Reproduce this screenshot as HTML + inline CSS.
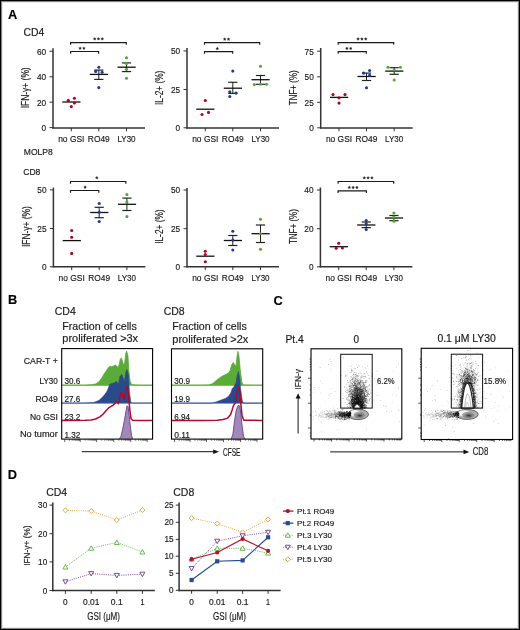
<!DOCTYPE html>
<html><head><meta charset="utf-8"><style>
html,body{margin:0;padding:0;background:#fff;}
body{width:520px;height:630px;overflow:hidden;position:relative;}
svg{position:absolute;left:0;top:0;font-family:"Liberation Sans", sans-serif;will-change:transform;}
text{stroke:#111;stroke-width:0.16px;}
</style></head><body>
<svg width="520" height="630" viewBox="0 0 520 630">
<defs><radialGradient id="blobg" cx="0.55" cy="0.6" r="0.6"><stop offset="0" stop-color="#333"/><stop offset="0.35" stop-color="#666"/><stop offset="0.7" stop-color="#999"/><stop offset="1" stop-color="#bbb"/></radialGradient></defs>
<rect x="0" y="0" width="520" height="630" fill="#fff"/>
<text x="7.9" y="18.6" font-size="12.8" text-anchor="start" fill="#000" font-weight="bold" >A</text>
<text x="7.9" y="304.3" font-size="12.8" text-anchor="start" fill="#000" font-weight="bold" >B</text>
<text x="273.4" y="304.5" font-size="12.8" text-anchor="start" fill="#000" font-weight="bold" >C</text>
<text x="7.7" y="479.0" font-size="12.8" text-anchor="start" fill="#000" font-weight="bold" >D</text>
<text x="23.6" y="35.8" font-size="10.5" text-anchor="start" fill="#222" font-weight="normal" textLength="20.8" lengthAdjust="spacingAndGlyphs" >CD4</text>
<text x="23.8" y="154.8" font-size="8.6" text-anchor="start" fill="#222" font-weight="normal" textLength="29" lengthAdjust="spacingAndGlyphs" >MOLP8</text>
<text x="23.2" y="174.6" font-size="8.6" text-anchor="start" fill="#222" font-weight="normal" textLength="17.2" lengthAdjust="spacingAndGlyphs" >CD8</text>
<line x1="53" y1="48.3" x2="53" y2="128.5" stroke="#333" stroke-width="1.5" />
<line x1="52.25" y1="128" x2="145" y2="128" stroke="#333" stroke-width="1.5" />
<line x1="49.5" y1="51.3" x2="53" y2="51.3" stroke="#333" stroke-width="1" />
<text x="46.1" y="54.599999999999994" font-size="9.6" text-anchor="end" fill="#222" font-weight="normal" textLength="9.2" lengthAdjust="spacingAndGlyphs" >60</text>
<line x1="49.5" y1="76.8" x2="53" y2="76.8" stroke="#333" stroke-width="1" />
<text x="46.1" y="80.1" font-size="9.6" text-anchor="end" fill="#222" font-weight="normal" textLength="9.2" lengthAdjust="spacingAndGlyphs" >40</text>
<line x1="49.5" y1="102.2" x2="53" y2="102.2" stroke="#333" stroke-width="1" />
<text x="46.1" y="105.5" font-size="9.6" text-anchor="end" fill="#222" font-weight="normal" textLength="9.2" lengthAdjust="spacingAndGlyphs" >20</text>
<line x1="49.5" y1="127.6" x2="53" y2="127.6" stroke="#333" stroke-width="1" />
<text x="46.1" y="130.9" font-size="9.6" text-anchor="end" fill="#222" font-weight="normal" textLength="4.6" lengthAdjust="spacingAndGlyphs" >0</text>
<line x1="71.3" y1="128" x2="71.3" y2="131.3" stroke="#333" stroke-width="1" />
<line x1="98.8" y1="128" x2="98.8" y2="131.3" stroke="#333" stroke-width="1" />
<line x1="126.5" y1="128" x2="126.5" y2="131.3" stroke="#333" stroke-width="1" />
<text x="71.3" y="142.2" font-size="9.4" text-anchor="middle" fill="#222" font-weight="normal" textLength="26.2" lengthAdjust="spacingAndGlyphs" >no GSI</text>
<text x="98.8" y="142.2" font-size="9.4" text-anchor="middle" fill="#222" font-weight="normal" textLength="21.9" lengthAdjust="spacingAndGlyphs" >RO49</text>
<text x="126.5" y="142.2" font-size="9.4" text-anchor="middle" fill="#222" font-weight="normal" textLength="18.2" lengthAdjust="spacingAndGlyphs" >LY30</text>
<text x="29.4" y="87.8" font-size="10.2" text-anchor="middle" fill="#222" font-weight="normal" textLength="41" lengthAdjust="spacingAndGlyphs" transform="rotate(-90 29.4 87.8)" >IFN-γ+ (%)</text>
<line x1="62.3" y1="102.0" x2="80.5" y2="102.0" stroke="#111" stroke-width="1.3" />
<circle cx="68.3" cy="100.4" r="1.55" fill="#b4001e"/>
<circle cx="74.39999999999999" cy="98.2" r="1.55" fill="#b4001e"/>
<circle cx="74.39999999999999" cy="103" r="1.55" fill="#b4001e"/>
<circle cx="71.3" cy="106.6" r="1.55" fill="#b4001e"/>
<line x1="98.8" y1="79.4" x2="98.8" y2="70.1" stroke="#222" stroke-width="1" />
<line x1="94.2" y1="79.4" x2="103.39999999999999" y2="79.4" stroke="#222" stroke-width="1.2" />
<line x1="94.2" y1="70.1" x2="103.39999999999999" y2="70.1" stroke="#222" stroke-width="1.2" />
<line x1="89.8" y1="74.4" x2="108.0" y2="74.4" stroke="#111" stroke-width="1.3" />
<circle cx="98.8" cy="67.2" r="1.55" fill="#1c3c8c"/>
<circle cx="95.7" cy="71.4" r="1.55" fill="#1c3c8c"/>
<circle cx="102.1" cy="72.3" r="1.55" fill="#1c3c8c"/>
<circle cx="98.8" cy="87.6" r="1.55" fill="#1c3c8c"/>
<line x1="126.5" y1="71.6" x2="126.5" y2="62.9" stroke="#222" stroke-width="1" />
<line x1="121.9" y1="71.6" x2="131.1" y2="71.6" stroke="#222" stroke-width="1.2" />
<line x1="121.9" y1="62.9" x2="131.1" y2="62.9" stroke="#222" stroke-width="1.2" />
<line x1="117.5" y1="67.2" x2="135.7" y2="67.2" stroke="#111" stroke-width="1.3" />
<circle cx="126.5" cy="57.8" r="1.55" fill="#4fa830"/>
<circle cx="126.5" cy="63.6" r="1.55" fill="#4fa830"/>
<circle cx="126.5" cy="69.3" r="1.55" fill="#4fa830"/>
<circle cx="126.5" cy="78.2" r="1.55" fill="#4fa830"/>
<path d="M70.6,53.7 L70.6,51.5 L98.6,51.5 L98.6,53.7" fill="none" stroke="#1a1a1a" stroke-width="1.15"/>
<path d="M80.10,46.80 L80.58,47.63 L81.53,47.84 L80.88,48.55 L80.98,49.51 L80.10,49.12 L79.22,49.51 L79.32,48.55 L78.67,47.84 L79.62,47.63 L80.10,46.80" fill="#222" stroke="#222" stroke-width="0.25" />
<path d="M83.90,46.80 L84.38,47.63 L85.33,47.84 L84.68,48.55 L84.78,49.51 L83.90,49.12 L83.02,49.51 L83.12,48.55 L82.47,47.84 L83.42,47.63 L83.90,46.80" fill="#222" stroke="#222" stroke-width="0.25" />
<path d="M70.6,44.800000000000004 L70.6,42.6 L126.3,42.6 L126.3,44.800000000000004" fill="none" stroke="#1a1a1a" stroke-width="1.15"/>
<path d="M94.70,37.40 L95.18,38.23 L96.13,38.44 L95.48,39.15 L95.58,40.11 L94.70,39.73 L93.82,40.11 L93.92,39.15 L93.27,38.44 L94.22,38.23 L94.70,37.40" fill="#222" stroke="#222" stroke-width="0.25" />
<path d="M98.50,37.40 L98.98,38.23 L99.93,38.44 L99.28,39.15 L99.38,40.11 L98.50,39.73 L97.62,40.11 L97.72,39.15 L97.07,38.44 L98.02,38.23 L98.50,37.40" fill="#222" stroke="#222" stroke-width="0.25" />
<path d="M102.30,37.40 L102.78,38.23 L103.73,38.44 L103.08,39.15 L103.18,40.11 L102.30,39.73 L101.42,40.11 L101.52,39.15 L100.87,38.44 L101.82,38.23 L102.30,37.40" fill="#222" stroke="#222" stroke-width="0.25" />
<line x1="187" y1="48.0" x2="187" y2="128.5" stroke="#333" stroke-width="1.5" />
<line x1="186.25" y1="128" x2="279" y2="128" stroke="#333" stroke-width="1.5" />
<line x1="183.5" y1="50.9" x2="187" y2="50.9" stroke="#333" stroke-width="1" />
<text x="180.1" y="54.199999999999996" font-size="9.6" text-anchor="end" fill="#222" font-weight="normal" textLength="9.2" lengthAdjust="spacingAndGlyphs" >50</text>
<line x1="183.5" y1="89.5" x2="187" y2="89.5" stroke="#333" stroke-width="1" />
<text x="180.1" y="92.8" font-size="9.6" text-anchor="end" fill="#222" font-weight="normal" textLength="9.2" lengthAdjust="spacingAndGlyphs" >25</text>
<line x1="183.5" y1="127.8" x2="187" y2="127.8" stroke="#333" stroke-width="1" />
<text x="180.1" y="131.1" font-size="9.6" text-anchor="end" fill="#222" font-weight="normal" textLength="4.6" lengthAdjust="spacingAndGlyphs" >0</text>
<line x1="205.3" y1="128" x2="205.3" y2="131.3" stroke="#333" stroke-width="1" />
<line x1="232.8" y1="128" x2="232.8" y2="131.3" stroke="#333" stroke-width="1" />
<line x1="260.5" y1="128" x2="260.5" y2="131.3" stroke="#333" stroke-width="1" />
<text x="205.3" y="142.2" font-size="9.4" text-anchor="middle" fill="#222" font-weight="normal" textLength="26.2" lengthAdjust="spacingAndGlyphs" >no GSI</text>
<text x="232.8" y="142.2" font-size="9.4" text-anchor="middle" fill="#222" font-weight="normal" textLength="21.9" lengthAdjust="spacingAndGlyphs" >RO49</text>
<text x="260.5" y="142.2" font-size="9.4" text-anchor="middle" fill="#222" font-weight="normal" textLength="18.2" lengthAdjust="spacingAndGlyphs" >LY30</text>
<text x="163.4" y="87.8" font-size="10.2" text-anchor="middle" fill="#222" font-weight="normal" textLength="34.4" lengthAdjust="spacingAndGlyphs" transform="rotate(-90 163.4 87.8)" >IL-2+ (%)</text>
<line x1="196.3" y1="109.2" x2="214.5" y2="109.2" stroke="#111" stroke-width="1.3" />
<circle cx="205.3" cy="100.5" r="1.55" fill="#b4001e"/>
<circle cx="202.0" cy="114.5" r="1.55" fill="#b4001e"/>
<circle cx="208.5" cy="112.4" r="1.55" fill="#b4001e"/>
<line x1="232.8" y1="93.4" x2="232.8" y2="82.3" stroke="#222" stroke-width="1" />
<line x1="228.20000000000002" y1="93.4" x2="237.4" y2="93.4" stroke="#222" stroke-width="1.2" />
<line x1="228.20000000000002" y1="82.3" x2="237.4" y2="82.3" stroke="#222" stroke-width="1.2" />
<line x1="223.8" y1="88.2" x2="242.0" y2="88.2" stroke="#111" stroke-width="1.3" />
<circle cx="232.8" cy="71.1" r="1.55" fill="#1c3c8c"/>
<circle cx="229.8" cy="91.8" r="1.55" fill="#1c3c8c"/>
<circle cx="236.0" cy="93.1" r="1.55" fill="#1c3c8c"/>
<circle cx="229.8" cy="96.5" r="1.55" fill="#1c3c8c"/>
<line x1="260.5" y1="84.3" x2="260.5" y2="75.5" stroke="#222" stroke-width="1" />
<line x1="255.9" y1="84.3" x2="265.1" y2="84.3" stroke="#222" stroke-width="1.2" />
<line x1="255.9" y1="75.5" x2="265.1" y2="75.5" stroke="#222" stroke-width="1.2" />
<line x1="251.5" y1="79.7" x2="269.7" y2="79.7" stroke="#111" stroke-width="1.3" />
<circle cx="260.5" cy="66.3" r="1.55" fill="#4fa830"/>
<circle cx="254.3" cy="84.6" r="1.55" fill="#4fa830"/>
<circle cx="260.5" cy="84.3" r="1.55" fill="#4fa830"/>
<circle cx="266.6" cy="84.3" r="1.55" fill="#4fa830"/>
<path d="M204.5,53.800000000000004 L204.5,51.6 L232.7,51.6 L232.7,53.800000000000004" fill="none" stroke="#1a1a1a" stroke-width="1.15"/>
<path d="M217.30,47.10 L217.78,47.93 L218.73,48.14 L218.08,48.85 L218.18,49.81 L217.30,49.43 L216.42,49.81 L216.52,48.85 L215.87,48.14 L216.82,47.93 L217.30,47.10" fill="#222" stroke="#222" stroke-width="0.25" />
<path d="M204.5,44.800000000000004 L204.5,42.6 L259.7,42.6 L259.7,44.800000000000004" fill="none" stroke="#1a1a1a" stroke-width="1.15"/>
<path d="M224.70,37.70 L225.18,38.53 L226.13,38.74 L225.48,39.45 L225.58,40.41 L224.70,40.03 L223.82,40.41 L223.92,39.45 L223.27,38.74 L224.22,38.53 L224.70,37.70" fill="#222" stroke="#222" stroke-width="0.25" />
<path d="M228.50,37.70 L228.98,38.53 L229.93,38.74 L229.28,39.45 L229.38,40.41 L228.50,40.03 L227.62,40.41 L227.72,39.45 L227.07,38.74 L228.02,38.53 L228.50,37.70" fill="#222" stroke="#222" stroke-width="0.25" />
<line x1="320.7" y1="48.0" x2="320.7" y2="128.5" stroke="#333" stroke-width="1.5" />
<line x1="319.95" y1="128" x2="412.7" y2="128" stroke="#333" stroke-width="1.5" />
<line x1="317.2" y1="51.2" x2="320.7" y2="51.2" stroke="#333" stroke-width="1" />
<text x="313.8" y="54.5" font-size="9.6" text-anchor="end" fill="#222" font-weight="normal" textLength="9.2" lengthAdjust="spacingAndGlyphs" >75</text>
<line x1="317.2" y1="76.8" x2="320.7" y2="76.8" stroke="#333" stroke-width="1" />
<text x="313.8" y="80.1" font-size="9.6" text-anchor="end" fill="#222" font-weight="normal" textLength="9.2" lengthAdjust="spacingAndGlyphs" >50</text>
<line x1="317.2" y1="102.4" x2="320.7" y2="102.4" stroke="#333" stroke-width="1" />
<text x="313.8" y="105.7" font-size="9.6" text-anchor="end" fill="#222" font-weight="normal" textLength="9.2" lengthAdjust="spacingAndGlyphs" >25</text>
<line x1="317.2" y1="127.8" x2="320.7" y2="127.8" stroke="#333" stroke-width="1" />
<text x="313.8" y="131.1" font-size="9.6" text-anchor="end" fill="#222" font-weight="normal" textLength="4.6" lengthAdjust="spacingAndGlyphs" >0</text>
<line x1="339.0" y1="128" x2="339.0" y2="131.3" stroke="#333" stroke-width="1" />
<line x1="366.5" y1="128" x2="366.5" y2="131.3" stroke="#333" stroke-width="1" />
<line x1="394.2" y1="128" x2="394.2" y2="131.3" stroke="#333" stroke-width="1" />
<text x="339.0" y="142.2" font-size="9.4" text-anchor="middle" fill="#222" font-weight="normal" textLength="26.2" lengthAdjust="spacingAndGlyphs" >no GSI</text>
<text x="366.5" y="142.2" font-size="9.4" text-anchor="middle" fill="#222" font-weight="normal" textLength="21.9" lengthAdjust="spacingAndGlyphs" >RO49</text>
<text x="394.2" y="142.2" font-size="9.4" text-anchor="middle" fill="#222" font-weight="normal" textLength="18.2" lengthAdjust="spacingAndGlyphs" >LY30</text>
<text x="297.09999999999997" y="87.8" font-size="10.2" text-anchor="middle" fill="#222" font-weight="normal" textLength="35" lengthAdjust="spacingAndGlyphs" transform="rotate(-90 297.09999999999997 87.8)" >TNF+ (%)</text>
<line x1="330.0" y1="97.4" x2="348.2" y2="97.4" stroke="#111" stroke-width="1.3" />
<circle cx="333.0" cy="94.6" r="1.55" fill="#b4001e"/>
<circle cx="345.0" cy="94.6" r="1.55" fill="#b4001e"/>
<circle cx="339.0" cy="97.7" r="1.55" fill="#b4001e"/>
<circle cx="339.0" cy="103.1" r="1.55" fill="#b4001e"/>
<line x1="366.5" y1="80.5" x2="366.5" y2="73.1" stroke="#222" stroke-width="1" />
<line x1="361.9" y1="80.5" x2="371.1" y2="80.5" stroke="#222" stroke-width="1.2" />
<line x1="361.9" y1="73.1" x2="371.1" y2="73.1" stroke="#222" stroke-width="1.2" />
<line x1="357.5" y1="76.5" x2="375.7" y2="76.5" stroke="#111" stroke-width="1.3" />
<circle cx="369.6" cy="70.5" r="1.55" fill="#1c3c8c"/>
<circle cx="363.5" cy="73.1" r="1.55" fill="#1c3c8c"/>
<circle cx="369.6" cy="75.4" r="1.55" fill="#1c3c8c"/>
<circle cx="366.5" cy="87.7" r="1.55" fill="#1c3c8c"/>
<line x1="394.2" y1="74.3" x2="394.2" y2="67.7" stroke="#222" stroke-width="1" />
<line x1="389.59999999999997" y1="74.3" x2="398.8" y2="74.3" stroke="#222" stroke-width="1.2" />
<line x1="389.59999999999997" y1="67.7" x2="398.8" y2="67.7" stroke="#222" stroke-width="1.2" />
<line x1="385.2" y1="71.1" x2="403.4" y2="71.1" stroke="#111" stroke-width="1.3" />
<circle cx="388.0" cy="67.2" r="1.55" fill="#4fa830"/>
<circle cx="400.4" cy="67.2" r="1.55" fill="#4fa830"/>
<circle cx="394.2" cy="70.0" r="1.55" fill="#4fa830"/>
<circle cx="394.2" cy="80.0" r="1.55" fill="#4fa830"/>
<path d="M338.2,53.800000000000004 L338.2,51.6 L366.3,51.6 L366.3,53.800000000000004" fill="none" stroke="#1a1a1a" stroke-width="1.15"/>
<path d="M346.90,46.90 L347.38,47.73 L348.33,47.94 L347.68,48.65 L347.78,49.61 L346.90,49.23 L346.02,49.61 L346.12,48.65 L345.47,47.94 L346.42,47.73 L346.90,46.90" fill="#222" stroke="#222" stroke-width="0.25" />
<path d="M350.70,46.90 L351.18,47.73 L352.13,47.94 L351.48,48.65 L351.58,49.61 L350.70,49.23 L349.82,49.61 L349.92,48.65 L349.27,47.94 L350.22,47.73 L350.70,46.90" fill="#222" stroke="#222" stroke-width="0.25" />
<path d="M338.2,44.800000000000004 L338.2,42.6 L393.7,42.6 L393.7,44.800000000000004" fill="none" stroke="#1a1a1a" stroke-width="1.15"/>
<path d="M358.10,37.50 L358.58,38.33 L359.53,38.54 L358.88,39.25 L358.98,40.21 L358.10,39.83 L357.22,40.21 L357.32,39.25 L356.67,38.54 L357.62,38.33 L358.10,37.50" fill="#222" stroke="#222" stroke-width="0.25" />
<path d="M361.90,37.50 L362.38,38.33 L363.33,38.54 L362.68,39.25 L362.78,40.21 L361.90,39.83 L361.02,40.21 L361.12,39.25 L360.47,38.54 L361.42,38.33 L361.90,37.50" fill="#222" stroke="#222" stroke-width="0.25" />
<path d="M365.70,37.50 L366.18,38.33 L367.13,38.54 L366.48,39.25 L366.58,40.21 L365.70,39.83 L364.82,40.21 L364.92,39.25 L364.27,38.54 L365.22,38.33 L365.70,37.50" fill="#222" stroke="#222" stroke-width="0.25" />
<line x1="53.4" y1="187.6" x2="53.4" y2="267.3" stroke="#333" stroke-width="1.5" />
<line x1="52.65" y1="266.8" x2="145.4" y2="266.8" stroke="#333" stroke-width="1.5" />
<line x1="49.9" y1="189.9" x2="53.4" y2="189.9" stroke="#333" stroke-width="1" />
<text x="46.5" y="193.20000000000002" font-size="9.6" text-anchor="end" fill="#222" font-weight="normal" textLength="9.2" lengthAdjust="spacingAndGlyphs" >50</text>
<line x1="49.9" y1="228.5" x2="53.4" y2="228.5" stroke="#333" stroke-width="1" />
<text x="46.5" y="231.8" font-size="9.6" text-anchor="end" fill="#222" font-weight="normal" textLength="9.2" lengthAdjust="spacingAndGlyphs" >25</text>
<line x1="49.9" y1="266.8" x2="53.4" y2="266.8" stroke="#333" stroke-width="1" />
<text x="46.5" y="270.1" font-size="9.6" text-anchor="end" fill="#222" font-weight="normal" textLength="4.6" lengthAdjust="spacingAndGlyphs" >0</text>
<line x1="71.7" y1="266.8" x2="71.7" y2="270.1" stroke="#333" stroke-width="1" />
<line x1="99.19999999999999" y1="266.8" x2="99.19999999999999" y2="270.1" stroke="#333" stroke-width="1" />
<line x1="126.9" y1="266.8" x2="126.9" y2="270.1" stroke="#333" stroke-width="1" />
<text x="71.7" y="281.0" font-size="9.4" text-anchor="middle" fill="#222" font-weight="normal" textLength="26.2" lengthAdjust="spacingAndGlyphs" >no GSI</text>
<text x="99.19999999999999" y="281.0" font-size="9.4" text-anchor="middle" fill="#222" font-weight="normal" textLength="21.9" lengthAdjust="spacingAndGlyphs" >RO49</text>
<text x="126.9" y="281.0" font-size="9.4" text-anchor="middle" fill="#222" font-weight="normal" textLength="18.2" lengthAdjust="spacingAndGlyphs" >LY30</text>
<text x="29.799999999999997" y="226.60000000000002" font-size="10.2" text-anchor="middle" fill="#222" font-weight="normal" textLength="41" lengthAdjust="spacingAndGlyphs" transform="rotate(-90 29.799999999999997 226.60000000000002)" >IFN-γ+ (%)</text>
<line x1="62.7" y1="240.6" x2="80.9" y2="240.6" stroke="#111" stroke-width="1.3" />
<circle cx="71.7" cy="230.5" r="1.55" fill="#b4001e"/>
<circle cx="71.7" cy="237.3" r="1.55" fill="#b4001e"/>
<circle cx="71.7" cy="253.4" r="1.55" fill="#b4001e"/>
<line x1="99.19999999999999" y1="217.7" x2="99.19999999999999" y2="207.3" stroke="#222" stroke-width="1" />
<line x1="94.6" y1="217.7" x2="103.79999999999998" y2="217.7" stroke="#222" stroke-width="1.2" />
<line x1="94.6" y1="207.3" x2="103.79999999999998" y2="207.3" stroke="#222" stroke-width="1.2" />
<line x1="90.19999999999999" y1="212.5" x2="108.39999999999999" y2="212.5" stroke="#111" stroke-width="1.3" />
<circle cx="99.19999999999999" cy="203.5" r="1.55" fill="#1c3c8c"/>
<circle cx="99.19999999999999" cy="212.2" r="1.55" fill="#1c3c8c"/>
<circle cx="99.19999999999999" cy="221.5" r="1.55" fill="#1c3c8c"/>
<line x1="126.9" y1="210.5" x2="126.9" y2="198.1" stroke="#222" stroke-width="1" />
<line x1="122.30000000000001" y1="210.5" x2="131.5" y2="210.5" stroke="#222" stroke-width="1.2" />
<line x1="122.30000000000001" y1="198.1" x2="131.5" y2="198.1" stroke="#222" stroke-width="1.2" />
<line x1="117.9" y1="204.3" x2="136.1" y2="204.3" stroke="#111" stroke-width="1.3" />
<circle cx="126.9" cy="194.5" r="1.55" fill="#4fa830"/>
<circle cx="126.9" cy="201.9" r="1.55" fill="#4fa830"/>
<circle cx="126.9" cy="216.6" r="1.55" fill="#4fa830"/>
<path d="M70.5,192.7 L70.5,190.5 L98.8,190.5 L98.8,192.7" fill="none" stroke="#1a1a1a" stroke-width="1.15"/>
<path d="M85.10,185.70 L85.58,186.53 L86.53,186.74 L85.88,187.45 L85.98,188.41 L85.10,188.02 L84.22,188.41 L84.32,187.45 L83.67,186.74 L84.62,186.53 L85.10,185.70" fill="#222" stroke="#222" stroke-width="0.25" />
<path d="M70.5,183.7 L70.5,181.5 L125.8,181.5 L125.8,183.7" fill="none" stroke="#1a1a1a" stroke-width="1.15"/>
<path d="M96.80,176.30 L97.28,177.13 L98.23,177.34 L97.58,178.05 L97.68,179.01 L96.80,178.62 L95.92,179.01 L96.02,178.05 L95.37,177.34 L96.32,177.13 L96.80,176.30" fill="#222" stroke="#222" stroke-width="0.25" />
<line x1="187" y1="188" x2="187" y2="267.3" stroke="#333" stroke-width="1.5" />
<line x1="186.25" y1="266.8" x2="279" y2="266.8" stroke="#333" stroke-width="1.5" />
<line x1="183.5" y1="190" x2="187" y2="190" stroke="#333" stroke-width="1" />
<text x="180.1" y="193.3" font-size="9.6" text-anchor="end" fill="#222" font-weight="normal" textLength="9.2" lengthAdjust="spacingAndGlyphs" >50</text>
<line x1="183.5" y1="228.7" x2="187" y2="228.7" stroke="#333" stroke-width="1" />
<text x="180.1" y="232.0" font-size="9.6" text-anchor="end" fill="#222" font-weight="normal" textLength="9.2" lengthAdjust="spacingAndGlyphs" >25</text>
<line x1="183.5" y1="266.8" x2="187" y2="266.8" stroke="#333" stroke-width="1" />
<text x="180.1" y="270.1" font-size="9.6" text-anchor="end" fill="#222" font-weight="normal" textLength="4.6" lengthAdjust="spacingAndGlyphs" >0</text>
<line x1="205.3" y1="266.8" x2="205.3" y2="270.1" stroke="#333" stroke-width="1" />
<line x1="232.8" y1="266.8" x2="232.8" y2="270.1" stroke="#333" stroke-width="1" />
<line x1="260.5" y1="266.8" x2="260.5" y2="270.1" stroke="#333" stroke-width="1" />
<text x="205.3" y="281.0" font-size="9.4" text-anchor="middle" fill="#222" font-weight="normal" textLength="26.2" lengthAdjust="spacingAndGlyphs" >no GSI</text>
<text x="232.8" y="281.0" font-size="9.4" text-anchor="middle" fill="#222" font-weight="normal" textLength="21.9" lengthAdjust="spacingAndGlyphs" >RO49</text>
<text x="260.5" y="281.0" font-size="9.4" text-anchor="middle" fill="#222" font-weight="normal" textLength="18.2" lengthAdjust="spacingAndGlyphs" >LY30</text>
<text x="163.4" y="226.60000000000002" font-size="10.2" text-anchor="middle" fill="#222" font-weight="normal" textLength="34.4" lengthAdjust="spacingAndGlyphs" transform="rotate(-90 163.4 226.60000000000002)" >IL-2+ (%)</text>
<line x1="196.3" y1="256.2" x2="214.5" y2="256.2" stroke="#111" stroke-width="1.3" />
<circle cx="205.3" cy="251.2" r="1.55" fill="#b4001e"/>
<circle cx="205.3" cy="254.5" r="1.55" fill="#b4001e"/>
<circle cx="205.3" cy="261.7" r="1.55" fill="#b4001e"/>
<line x1="232.8" y1="245.5" x2="232.8" y2="235.5" stroke="#222" stroke-width="1" />
<line x1="228.20000000000002" y1="245.5" x2="237.4" y2="245.5" stroke="#222" stroke-width="1.2" />
<line x1="228.20000000000002" y1="235.5" x2="237.4" y2="235.5" stroke="#222" stroke-width="1.2" />
<line x1="223.8" y1="240.5" x2="242.0" y2="240.5" stroke="#111" stroke-width="1.3" />
<circle cx="232.8" cy="231.2" r="1.55" fill="#1c3c8c"/>
<circle cx="232.8" cy="240" r="1.55" fill="#1c3c8c"/>
<circle cx="232.8" cy="250" r="1.55" fill="#1c3c8c"/>
<line x1="260.5" y1="242.5" x2="260.5" y2="225" stroke="#222" stroke-width="1" />
<line x1="255.9" y1="242.5" x2="265.1" y2="242.5" stroke="#222" stroke-width="1.2" />
<line x1="255.9" y1="225" x2="265.1" y2="225" stroke="#222" stroke-width="1.2" />
<line x1="251.5" y1="233.7" x2="269.7" y2="233.7" stroke="#111" stroke-width="1.3" />
<circle cx="260.5" cy="219.2" r="1.55" fill="#4fa830"/>
<circle cx="260.5" cy="233.7" r="1.55" fill="#4fa830"/>
<circle cx="260.5" cy="249.2" r="1.55" fill="#4fa830"/>
<line x1="320.4" y1="187.5" x2="320.4" y2="267.3" stroke="#333" stroke-width="1.5" />
<line x1="319.65" y1="266.8" x2="412.4" y2="266.8" stroke="#333" stroke-width="1.5" />
<line x1="316.9" y1="190" x2="320.4" y2="190" stroke="#333" stroke-width="1" />
<text x="313.5" y="193.3" font-size="9.6" text-anchor="end" fill="#222" font-weight="normal" textLength="9.2" lengthAdjust="spacingAndGlyphs" >40</text>
<line x1="316.9" y1="228.7" x2="320.4" y2="228.7" stroke="#333" stroke-width="1" />
<text x="313.5" y="232.0" font-size="9.6" text-anchor="end" fill="#222" font-weight="normal" textLength="9.2" lengthAdjust="spacingAndGlyphs" >20</text>
<line x1="316.9" y1="266.8" x2="320.4" y2="266.8" stroke="#333" stroke-width="1" />
<text x="313.5" y="270.1" font-size="9.6" text-anchor="end" fill="#222" font-weight="normal" textLength="4.6" lengthAdjust="spacingAndGlyphs" >0</text>
<line x1="338.7" y1="266.8" x2="338.7" y2="270.1" stroke="#333" stroke-width="1" />
<line x1="366.2" y1="266.8" x2="366.2" y2="270.1" stroke="#333" stroke-width="1" />
<line x1="393.9" y1="266.8" x2="393.9" y2="270.1" stroke="#333" stroke-width="1" />
<text x="338.7" y="281.0" font-size="9.4" text-anchor="middle" fill="#222" font-weight="normal" textLength="26.2" lengthAdjust="spacingAndGlyphs" >no GSI</text>
<text x="366.2" y="281.0" font-size="9.4" text-anchor="middle" fill="#222" font-weight="normal" textLength="21.9" lengthAdjust="spacingAndGlyphs" >RO49</text>
<text x="393.9" y="281.0" font-size="9.4" text-anchor="middle" fill="#222" font-weight="normal" textLength="18.2" lengthAdjust="spacingAndGlyphs" >LY30</text>
<text x="296.79999999999995" y="226.60000000000002" font-size="10.2" text-anchor="middle" fill="#222" font-weight="normal" textLength="35" lengthAdjust="spacingAndGlyphs" transform="rotate(-90 296.79999999999995 226.60000000000002)" >TNF+ (%)</text>
<line x1="329.7" y1="246.7" x2="347.9" y2="246.7" stroke="#111" stroke-width="1.3" />
<circle cx="338.7" cy="243.2" r="1.55" fill="#b4001e"/>
<circle cx="336.2" cy="248.2" r="1.55" fill="#b4001e"/>
<circle cx="342.4" cy="248" r="1.55" fill="#b4001e"/>
<line x1="366.2" y1="227.6" x2="366.2" y2="222" stroke="#222" stroke-width="1" />
<line x1="361.59999999999997" y1="227.6" x2="370.8" y2="227.6" stroke="#222" stroke-width="1.2" />
<line x1="361.59999999999997" y1="222" x2="370.8" y2="222" stroke="#222" stroke-width="1.2" />
<line x1="357.2" y1="225" x2="375.4" y2="225" stroke="#111" stroke-width="1.3" />
<circle cx="366.2" cy="220.5" r="1.55" fill="#1c3c8c"/>
<circle cx="366.2" cy="223.7" r="1.55" fill="#1c3c8c"/>
<circle cx="366.2" cy="229.5" r="1.55" fill="#1c3c8c"/>
<line x1="393.9" y1="220.7" x2="393.9" y2="215.5" stroke="#222" stroke-width="1" />
<line x1="389.29999999999995" y1="220.7" x2="398.5" y2="220.7" stroke="#222" stroke-width="1.2" />
<line x1="389.29999999999995" y1="215.5" x2="398.5" y2="215.5" stroke="#222" stroke-width="1.2" />
<line x1="384.9" y1="218" x2="403.09999999999997" y2="218" stroke="#111" stroke-width="1.3" />
<circle cx="393.9" cy="213" r="1.55" fill="#4fa830"/>
<circle cx="393.9" cy="217" r="1.55" fill="#4fa830"/>
<circle cx="393.9" cy="221.2" r="1.55" fill="#4fa830"/>
<path d="M338.1,193.0 L338.1,190.8 L366.4,190.8 L366.4,193.0" fill="none" stroke="#1a1a1a" stroke-width="1.15"/>
<path d="M349.30,186.00 L349.78,186.83 L350.73,187.04 L350.08,187.75 L350.18,188.71 L349.30,188.32 L348.42,188.71 L348.52,187.75 L347.87,187.04 L348.82,186.83 L349.30,186.00" fill="#222" stroke="#222" stroke-width="0.25" />
<path d="M353.10,186.00 L353.58,186.83 L354.53,187.04 L353.88,187.75 L353.98,188.71 L353.10,188.32 L352.22,188.71 L352.32,187.75 L351.67,187.04 L352.62,186.83 L353.10,186.00" fill="#222" stroke="#222" stroke-width="0.25" />
<path d="M356.90,186.00 L357.38,186.83 L358.33,187.04 L357.68,187.75 L357.78,188.71 L356.90,188.32 L356.02,188.71 L356.12,187.75 L355.47,187.04 L356.42,186.83 L356.90,186.00" fill="#222" stroke="#222" stroke-width="0.25" />
<path d="M338.1,183.7 L338.1,181.5 L393.7,181.5 L393.7,183.7" fill="none" stroke="#1a1a1a" stroke-width="1.15"/>
<path d="M364.30,176.40 L364.78,177.23 L365.73,177.44 L365.08,178.15 L365.18,179.11 L364.30,178.72 L363.42,179.11 L363.52,178.15 L362.87,177.44 L363.82,177.23 L364.30,176.40" fill="#222" stroke="#222" stroke-width="0.25" />
<path d="M368.10,176.40 L368.58,177.23 L369.53,177.44 L368.88,178.15 L368.98,179.11 L368.10,178.72 L367.22,179.11 L367.32,178.15 L366.67,177.44 L367.62,177.23 L368.10,176.40" fill="#222" stroke="#222" stroke-width="0.25" />
<path d="M371.90,176.40 L372.38,177.23 L373.33,177.44 L372.68,178.15 L372.78,179.11 L371.90,178.72 L371.02,179.11 L371.12,178.15 L370.47,177.44 L371.42,177.23 L371.90,176.40" fill="#222" stroke="#222" stroke-width="0.25" />
<text x="54.8" y="315.4" font-size="10.5" text-anchor="start" fill="#222" font-weight="normal" textLength="21" lengthAdjust="spacingAndGlyphs" >CD4</text>
<text x="62.3" y="329.9" font-size="10.5" text-anchor="start" fill="#222" font-weight="normal" textLength="74.4" lengthAdjust="spacingAndGlyphs" >Fraction of cells</text>
<text x="62.3" y="342.2" font-size="10.5" text-anchor="start" fill="#222" font-weight="normal" textLength="75.8" lengthAdjust="spacingAndGlyphs" >proliferated &gt;3x</text>
<text x="163.7" y="315.2" font-size="10.5" text-anchor="start" fill="#222" font-weight="normal" textLength="21" lengthAdjust="spacingAndGlyphs" >CD8</text>
<text x="172.3" y="330.2" font-size="10.5" text-anchor="start" fill="#222" font-weight="normal" textLength="74.4" lengthAdjust="spacingAndGlyphs" >Fraction of cells</text>
<text x="172.3" y="342.6" font-size="10.5" text-anchor="start" fill="#222" font-weight="normal" textLength="76" lengthAdjust="spacingAndGlyphs" >proliferated &gt;2x</text>
<text x="57.8" y="364.3" font-size="8.9" text-anchor="end" fill="#222" font-weight="normal" textLength="34" lengthAdjust="spacingAndGlyphs" >CAR-T +</text>
<text x="57.8" y="384.4" font-size="8.9" text-anchor="end" fill="#222" font-weight="normal" textLength="18.3" lengthAdjust="spacingAndGlyphs" >LY30</text>
<text x="57.8" y="402" font-size="8.9" text-anchor="end" fill="#222" font-weight="normal" textLength="22.4" lengthAdjust="spacingAndGlyphs" >RO49</text>
<text x="57.8" y="419.7" font-size="8.9" text-anchor="end" fill="#222" font-weight="normal" textLength="27.9" lengthAdjust="spacingAndGlyphs" >No GSI</text>
<text x="57.8" y="437.2" font-size="8.9" text-anchor="end" fill="#222" font-weight="normal" textLength="37.9" lengthAdjust="spacingAndGlyphs" >No tumor</text>
<path d="M61.70,385.20 L85.00,385.20 L91.30,384.70 L95.60,383.90 L98.80,382.00 L101.90,377.80 L104.00,374.10 L106.20,370.90 L108.30,367.80 L109.90,366.20 L111.50,366.70 L113.00,366.20 L114.60,365.60 L115.70,365.10 L116.70,366.00 L118.30,367.80 L119.40,363.50 L120.40,358.80 L121.50,358.20 L122.60,361.90 L123.60,365.10 L124.70,363.00 L125.70,353.50 L126.60,351.10 L127.90,355.60 L128.90,371.50 L130.00,381.00 L131.60,384.70 L140.00,385.20 L152.60,385.20" fill="#5aab38" stroke="#5aab38" stroke-width="0.8" />
<line x1="61.7" y1="385.2" x2="152.6" y2="385.2" stroke="#5aab38" stroke-width="1" />
<path d="M61.70,403.10 L85.00,403.10 L93.50,402.60 L98.80,400.40 L101.90,397.80 L105.10,394.10 L107.20,390.90 L108.80,386.70 L109.90,384.00 L112.50,383.50 L114.60,382.50 L116.70,381.40 L118.30,384.60 L119.90,376.60 L121.80,374.30 L123.10,377.70 L124.40,381.90 L125.70,372.40 L127.00,369.40 L128.40,374.50 L129.40,391.50 L130.70,401.50 L132.10,403.10 L152.60,403.10" fill="#2b4a8c" stroke="#2b4a8c" stroke-width="0.6" />
<line x1="61.7" y1="403.1" x2="152.6" y2="403.1" stroke="#3a5aa0" stroke-width="1" />
<path d="M61.70,420.40 L85.00,420.20 L91.30,420.00 L95.60,419.00 L99.80,416.90 L103.00,414.20 L106.20,410.50 L109.30,407.30 L112.50,405.70 L115.20,403.10 L116.70,401.50 L118.30,403.60 L119.90,396.70 L121.50,392.30 L123.10,396.70 L124.40,398.90 L125.70,390.40 L126.80,386.70 L127.90,389.30 L128.90,399.90 L130.00,411.60 L131.00,418.40 L132.60,420.20 L140.00,420.40 L152.60,420.40" fill="none" stroke="#b00b2c" stroke-width="1.5" stroke-linejoin="round"/>
<path d="M119.20,438.80 L120.80,436.90 L122.70,429.20 L124.60,419.20 L126.20,410.00 L127.10,405.80 L128.10,406.90 L129.20,415.40 L130.40,426.90 L131.50,435.40 L132.70,438.80" fill="#a088b8" stroke="#6a3d8c" stroke-width="0.9" />
<rect x="61.7" y="348.6" width="90.89999999999999" height="90.5" fill="none" stroke="#000" stroke-width="1.1"/>
<line x1="64.7" y1="439.1" x2="64.7" y2="442.1" stroke="#222" stroke-width="0.7" />
<line x1="69.37" y1="439.1" x2="69.37" y2="440.70000000000005" stroke="#222" stroke-width="0.7" />
<line x1="72.1" y1="439.1" x2="72.1" y2="440.70000000000005" stroke="#222" stroke-width="0.7" />
<line x1="74.03" y1="439.1" x2="74.03" y2="440.70000000000005" stroke="#222" stroke-width="0.7" />
<line x1="75.53" y1="439.1" x2="75.53" y2="440.70000000000005" stroke="#222" stroke-width="0.7" />
<line x1="76.76" y1="439.1" x2="76.76" y2="440.70000000000005" stroke="#222" stroke-width="0.7" />
<line x1="77.8" y1="439.1" x2="77.8" y2="440.70000000000005" stroke="#222" stroke-width="0.7" />
<line x1="78.7" y1="439.1" x2="78.7" y2="440.70000000000005" stroke="#222" stroke-width="0.7" />
<line x1="79.49" y1="439.1" x2="79.49" y2="440.70000000000005" stroke="#222" stroke-width="0.7" />
<line x1="80.2" y1="439.1" x2="80.2" y2="442.1" stroke="#222" stroke-width="0.7" />
<line x1="85.17" y1="439.1" x2="85.17" y2="440.70000000000005" stroke="#222" stroke-width="0.7" />
<line x1="88.07" y1="439.1" x2="88.07" y2="440.70000000000005" stroke="#222" stroke-width="0.7" />
<line x1="90.13" y1="439.1" x2="90.13" y2="440.70000000000005" stroke="#222" stroke-width="0.7" />
<line x1="91.73" y1="439.1" x2="91.73" y2="440.70000000000005" stroke="#222" stroke-width="0.7" />
<line x1="93.04" y1="439.1" x2="93.04" y2="440.70000000000005" stroke="#222" stroke-width="0.7" />
<line x1="94.14" y1="439.1" x2="94.14" y2="440.70000000000005" stroke="#222" stroke-width="0.7" />
<line x1="95.1" y1="439.1" x2="95.1" y2="440.70000000000005" stroke="#222" stroke-width="0.7" />
<line x1="95.95" y1="439.1" x2="95.95" y2="440.70000000000005" stroke="#222" stroke-width="0.7" />
<line x1="96.7" y1="439.1" x2="96.7" y2="442.1" stroke="#222" stroke-width="0.7" />
<line x1="101.82" y1="439.1" x2="101.82" y2="440.70000000000005" stroke="#222" stroke-width="0.7" />
<line x1="104.81" y1="439.1" x2="104.81" y2="440.70000000000005" stroke="#222" stroke-width="0.7" />
<line x1="106.94" y1="439.1" x2="106.94" y2="440.70000000000005" stroke="#222" stroke-width="0.7" />
<line x1="108.58" y1="439.1" x2="108.58" y2="440.70000000000005" stroke="#222" stroke-width="0.7" />
<line x1="109.93" y1="439.1" x2="109.93" y2="440.70000000000005" stroke="#222" stroke-width="0.7" />
<line x1="111.07" y1="439.1" x2="111.07" y2="440.70000000000005" stroke="#222" stroke-width="0.7" />
<line x1="112.05" y1="439.1" x2="112.05" y2="440.70000000000005" stroke="#222" stroke-width="0.7" />
<line x1="112.92" y1="439.1" x2="112.92" y2="440.70000000000005" stroke="#222" stroke-width="0.7" />
<line x1="113.7" y1="439.1" x2="113.7" y2="442.1" stroke="#222" stroke-width="0.7" />
<line x1="118.82" y1="439.1" x2="118.82" y2="440.70000000000005" stroke="#222" stroke-width="0.7" />
<line x1="121.81" y1="439.1" x2="121.81" y2="440.70000000000005" stroke="#222" stroke-width="0.7" />
<line x1="123.94" y1="439.1" x2="123.94" y2="440.70000000000005" stroke="#222" stroke-width="0.7" />
<line x1="125.58" y1="439.1" x2="125.58" y2="440.70000000000005" stroke="#222" stroke-width="0.7" />
<line x1="126.93" y1="439.1" x2="126.93" y2="440.70000000000005" stroke="#222" stroke-width="0.7" />
<line x1="128.07" y1="439.1" x2="128.07" y2="440.70000000000005" stroke="#222" stroke-width="0.7" />
<line x1="129.05" y1="439.1" x2="129.05" y2="440.70000000000005" stroke="#222" stroke-width="0.7" />
<line x1="129.92" y1="439.1" x2="129.92" y2="440.70000000000005" stroke="#222" stroke-width="0.7" />
<line x1="130.7" y1="439.1" x2="130.7" y2="442.1" stroke="#222" stroke-width="0.7" />
<line x1="135.67" y1="439.1" x2="135.67" y2="440.70000000000005" stroke="#222" stroke-width="0.7" />
<line x1="138.57" y1="439.1" x2="138.57" y2="440.70000000000005" stroke="#222" stroke-width="0.7" />
<line x1="140.63" y1="439.1" x2="140.63" y2="440.70000000000005" stroke="#222" stroke-width="0.7" />
<line x1="142.23" y1="439.1" x2="142.23" y2="440.70000000000005" stroke="#222" stroke-width="0.7" />
<line x1="143.54" y1="439.1" x2="143.54" y2="440.70000000000005" stroke="#222" stroke-width="0.7" />
<line x1="144.64" y1="439.1" x2="144.64" y2="440.70000000000005" stroke="#222" stroke-width="0.7" />
<line x1="145.6" y1="439.1" x2="145.6" y2="440.70000000000005" stroke="#222" stroke-width="0.7" />
<line x1="146.45" y1="439.1" x2="146.45" y2="440.70000000000005" stroke="#222" stroke-width="0.7" />
<line x1="147.2" y1="439.1" x2="147.2" y2="442.1" stroke="#222" stroke-width="0.7" />
<text x="64.4" y="383.90000000000003" font-size="8.4" text-anchor="start" fill="#222" font-weight="normal" textLength="15.8" lengthAdjust="spacingAndGlyphs" >30.6</text>
<text x="64.4" y="401.7" font-size="8.4" text-anchor="start" fill="#222" font-weight="normal" textLength="15.8" lengthAdjust="spacingAndGlyphs" >27.6</text>
<text x="64.4" y="419.90000000000003" font-size="8.4" text-anchor="start" fill="#222" font-weight="normal" textLength="15.8" lengthAdjust="spacingAndGlyphs" >23.2</text>
<text x="64.4" y="437.7" font-size="8.4" text-anchor="start" fill="#222" font-weight="normal" textLength="15.8" lengthAdjust="spacingAndGlyphs" >1.32</text>
<path d="M171.50,385.20 L200.00,385.20 L208.50,385.00 L212.70,383.60 L216.90,379.90 L221.20,376.70 L225.40,374.60 L228.60,373.00 L230.20,370.40 L231.70,364.60 L233.30,362.50 L234.90,365.10 L236.00,366.20 L237.00,356.60 L237.90,351.30 L238.90,355.60 L240.20,369.30 L241.80,382.00 L243.40,385.00 L255.00,385.20 L262.70,385.20" fill="#5aab38" stroke="#5aab38" stroke-width="0.8" />
<line x1="171.5" y1="385.2" x2="262.7" y2="385.2" stroke="#5aab38" stroke-width="1" />
<path d="M171.50,403.10 L210.60,403.20 L215.90,402.10 L221.20,400.00 L225.40,398.40 L228.60,396.30 L230.70,393.10 L232.30,388.40 L233.90,386.80 L236.00,383.10 L237.20,375.70 L238.30,371.50 L239.40,376.70 L240.70,389.40 L242.30,401.10 L243.90,403.20 L262.70,403.10" fill="#2b4a8c" stroke="#2b4a8c" stroke-width="0.6" />
<line x1="171.5" y1="403.1" x2="262.7" y2="403.1" stroke="#3a5aa0" stroke-width="1" />
<path d="M171.50,420.40 L200.00,420.40 L217.30,420.20 L223.10,419.50 L227.70,418.10 L230.60,414.60 L232.30,409.40 L233.50,405.40 L235.20,403.10 L236.90,393.80 L238.40,386.30 L239.80,391.50 L241.00,405.40 L242.10,415.80 L243.80,420.20 L260.00,420.40 L262.70,420.40" fill="none" stroke="#b00b2c" stroke-width="1.5" stroke-linejoin="round"/>
<path d="M231.20,438.80 L232.90,434.20 L234.60,420.40 L236.30,410.00 L238.10,405.40 L239.80,406.00 L241.00,414.60 L242.10,426.20 L243.60,436.50 L245.00,438.80" fill="#a088b8" stroke="#6a3d8c" stroke-width="0.9" />
<rect x="171.5" y="348.8" width="91.19999999999999" height="90.30000000000001" fill="none" stroke="#000" stroke-width="1.1"/>
<line x1="174.5" y1="439.1" x2="174.5" y2="442.1" stroke="#222" stroke-width="0.7" />
<line x1="179.17" y1="439.1" x2="179.17" y2="440.70000000000005" stroke="#222" stroke-width="0.7" />
<line x1="181.9" y1="439.1" x2="181.9" y2="440.70000000000005" stroke="#222" stroke-width="0.7" />
<line x1="183.83" y1="439.1" x2="183.83" y2="440.70000000000005" stroke="#222" stroke-width="0.7" />
<line x1="185.33" y1="439.1" x2="185.33" y2="440.70000000000005" stroke="#222" stroke-width="0.7" />
<line x1="186.56" y1="439.1" x2="186.56" y2="440.70000000000005" stroke="#222" stroke-width="0.7" />
<line x1="187.6" y1="439.1" x2="187.6" y2="440.70000000000005" stroke="#222" stroke-width="0.7" />
<line x1="188.5" y1="439.1" x2="188.5" y2="440.70000000000005" stroke="#222" stroke-width="0.7" />
<line x1="189.29" y1="439.1" x2="189.29" y2="440.70000000000005" stroke="#222" stroke-width="0.7" />
<line x1="190.0" y1="439.1" x2="190.0" y2="442.1" stroke="#222" stroke-width="0.7" />
<line x1="194.97" y1="439.1" x2="194.97" y2="440.70000000000005" stroke="#222" stroke-width="0.7" />
<line x1="197.87" y1="439.1" x2="197.87" y2="440.70000000000005" stroke="#222" stroke-width="0.7" />
<line x1="199.93" y1="439.1" x2="199.93" y2="440.70000000000005" stroke="#222" stroke-width="0.7" />
<line x1="201.53" y1="439.1" x2="201.53" y2="440.70000000000005" stroke="#222" stroke-width="0.7" />
<line x1="202.84" y1="439.1" x2="202.84" y2="440.70000000000005" stroke="#222" stroke-width="0.7" />
<line x1="203.94" y1="439.1" x2="203.94" y2="440.70000000000005" stroke="#222" stroke-width="0.7" />
<line x1="204.9" y1="439.1" x2="204.9" y2="440.70000000000005" stroke="#222" stroke-width="0.7" />
<line x1="205.75" y1="439.1" x2="205.75" y2="440.70000000000005" stroke="#222" stroke-width="0.7" />
<line x1="206.5" y1="439.1" x2="206.5" y2="442.1" stroke="#222" stroke-width="0.7" />
<line x1="211.62" y1="439.1" x2="211.62" y2="440.70000000000005" stroke="#222" stroke-width="0.7" />
<line x1="214.61" y1="439.1" x2="214.61" y2="440.70000000000005" stroke="#222" stroke-width="0.7" />
<line x1="216.74" y1="439.1" x2="216.74" y2="440.70000000000005" stroke="#222" stroke-width="0.7" />
<line x1="218.38" y1="439.1" x2="218.38" y2="440.70000000000005" stroke="#222" stroke-width="0.7" />
<line x1="219.73" y1="439.1" x2="219.73" y2="440.70000000000005" stroke="#222" stroke-width="0.7" />
<line x1="220.87" y1="439.1" x2="220.87" y2="440.70000000000005" stroke="#222" stroke-width="0.7" />
<line x1="221.85" y1="439.1" x2="221.85" y2="440.70000000000005" stroke="#222" stroke-width="0.7" />
<line x1="222.72" y1="439.1" x2="222.72" y2="440.70000000000005" stroke="#222" stroke-width="0.7" />
<line x1="223.5" y1="439.1" x2="223.5" y2="442.1" stroke="#222" stroke-width="0.7" />
<line x1="228.62" y1="439.1" x2="228.62" y2="440.70000000000005" stroke="#222" stroke-width="0.7" />
<line x1="231.61" y1="439.1" x2="231.61" y2="440.70000000000005" stroke="#222" stroke-width="0.7" />
<line x1="233.74" y1="439.1" x2="233.74" y2="440.70000000000005" stroke="#222" stroke-width="0.7" />
<line x1="235.38" y1="439.1" x2="235.38" y2="440.70000000000005" stroke="#222" stroke-width="0.7" />
<line x1="236.73" y1="439.1" x2="236.73" y2="440.70000000000005" stroke="#222" stroke-width="0.7" />
<line x1="237.87" y1="439.1" x2="237.87" y2="440.70000000000005" stroke="#222" stroke-width="0.7" />
<line x1="238.85" y1="439.1" x2="238.85" y2="440.70000000000005" stroke="#222" stroke-width="0.7" />
<line x1="239.72" y1="439.1" x2="239.72" y2="440.70000000000005" stroke="#222" stroke-width="0.7" />
<line x1="240.5" y1="439.1" x2="240.5" y2="442.1" stroke="#222" stroke-width="0.7" />
<line x1="245.47" y1="439.1" x2="245.47" y2="440.70000000000005" stroke="#222" stroke-width="0.7" />
<line x1="248.37" y1="439.1" x2="248.37" y2="440.70000000000005" stroke="#222" stroke-width="0.7" />
<line x1="250.43" y1="439.1" x2="250.43" y2="440.70000000000005" stroke="#222" stroke-width="0.7" />
<line x1="252.03" y1="439.1" x2="252.03" y2="440.70000000000005" stroke="#222" stroke-width="0.7" />
<line x1="253.34" y1="439.1" x2="253.34" y2="440.70000000000005" stroke="#222" stroke-width="0.7" />
<line x1="254.44" y1="439.1" x2="254.44" y2="440.70000000000005" stroke="#222" stroke-width="0.7" />
<line x1="255.4" y1="439.1" x2="255.4" y2="440.70000000000005" stroke="#222" stroke-width="0.7" />
<line x1="256.25" y1="439.1" x2="256.25" y2="440.70000000000005" stroke="#222" stroke-width="0.7" />
<line x1="257.0" y1="439.1" x2="257.0" y2="442.1" stroke="#222" stroke-width="0.7" />
<text x="174.2" y="383.90000000000003" font-size="8.4" text-anchor="start" fill="#222" font-weight="normal" textLength="15.8" lengthAdjust="spacingAndGlyphs" >30.9</text>
<text x="174.2" y="401.7" font-size="8.4" text-anchor="start" fill="#222" font-weight="normal" textLength="15.8" lengthAdjust="spacingAndGlyphs" >19.9</text>
<text x="174.2" y="419.90000000000003" font-size="8.4" text-anchor="start" fill="#222" font-weight="normal" textLength="15.8" lengthAdjust="spacingAndGlyphs" >6.94</text>
<text x="174.2" y="437.7" font-size="8.4" text-anchor="start" fill="#222" font-weight="normal" textLength="15.8" lengthAdjust="spacingAndGlyphs" >0.11</text>
<line x1="81.8" y1="451.7" x2="215" y2="451.7" stroke="#111" stroke-width="1" />
<path d="M213.20,449.40 L219.00,451.70 L213.20,454.00" fill="#111" stroke="none" stroke-width="1" />
<text x="222.9" y="455.6" font-size="10.6" text-anchor="start" fill="#222" font-weight="normal" textLength="17.5" lengthAdjust="spacingAndGlyphs" >CFSE</text>
<text x="285.5" y="343" font-size="10" text-anchor="start" fill="#222" font-weight="normal" textLength="18.3" lengthAdjust="spacingAndGlyphs" >Pt.4</text>
<text x="356.3" y="343" font-size="10" text-anchor="middle" fill="#222" font-weight="normal" >0</text>
<text x="437.4" y="342.3" font-size="10" text-anchor="start" fill="#222" font-weight="normal" textLength="58.4" lengthAdjust="spacingAndGlyphs" >0.1 μM LY30</text>
<ellipse cx="358" cy="414.4" rx="10.5" ry="5.2" fill="#b0b0b0" stroke="#555" stroke-width="0.9"/>
<ellipse cx="354.5" cy="413.2" rx="5.775" ry="3.12" fill="#fff" opacity="0.85"/>
<ellipse cx="359.2" cy="415.0" rx="5.25" ry="2.8600000000000003" fill="url(#blobg)" stroke="#666" stroke-width="0.5"/>
<path d="M320.0 407.4h0.8v0.8h-0.8zM369.4 385.4h0.8v0.8h-0.8zM358.4 386.4h0.8v0.8h-0.8zM338.0 432.8h0.8v0.8h-0.8zM349.0 381.0h0.8v0.8h-0.8zM313.5 392.1h0.8v0.8h-0.8zM372.7 384.6h0.8v0.8h-0.8zM398.2 386.7h0.8v0.8h-0.8zM388.6 397.5h0.8v0.8h-0.8zM324.4 401.4h0.8v0.8h-0.8z" fill="#000" fill-opacity="0.1"/>
<path d="M320.3 392.7h0.8v0.8h-0.8zM328.7 395.3h0.8v0.8h-0.8zM352.2 375.0h0.8v0.8h-0.8zM339.7 393.9h0.8v0.8h-0.8zM337.4 428.9h0.8v0.8h-0.8zM386.3 411.0h0.8v0.8h-0.8zM396.1 395.4h0.8v0.8h-0.8zM391.9 394.4h0.8v0.8h-0.8zM380.4 400.1h0.8v0.8h-0.8zM320.9 431.5h0.8v0.8h-0.8zM361.1 409.4h0.8v0.8h-0.8zM322.2 383.4h0.8v0.8h-0.8zM330.7 393.0h0.8v0.8h-0.8zM344.6 386.8h0.8v0.8h-0.8zM328.1 397.9h0.8v0.8h-0.8zM391.8 401.9h0.8v0.8h-0.8zM318.0 408.2h0.8v0.8h-0.8zM361.1 413.2h0.8v0.8h-0.8zM392.5 370.7h0.8v0.8h-0.8zM327.5 418.7h0.8v0.8h-0.8zM340.0 403.7h0.8v0.8h-0.8zM399.2 420.9h0.8v0.8h-0.8zM354.2 399.2h0.8v0.8h-0.8zM329.8 396.3h0.8v0.8h-0.8zM389.3 411.8h0.8v0.8h-0.8zM363.2 390.2h0.8v0.8h-0.8zM374.4 411.8h0.8v0.8h-0.8zM351.6 389.5h0.8v0.8h-0.8zM330.8 368.6h0.8v0.8h-0.8zM313.7 386.9h0.8v0.8h-0.8zM351.9 435.9h0.8v0.8h-0.8zM372.1 402.8h0.8v0.8h-0.8zM312.9 418.7h0.8v0.8h-0.8zM321.8 411.6h0.8v0.8h-0.8zM339.7 414.3h0.8v0.8h-0.8zM325.1 415.9h0.8v0.8h-0.8zM341.2 416.3h0.8v0.8h-0.8zM324.1 413.4h0.8v0.8h-0.8zM330.3 415.3h0.8v0.8h-0.8zM316.2 415.2h0.8v0.8h-0.8zM327.4 411.5h0.8v0.8h-0.8zM323.2 416.9h0.8v0.8h-0.8zM320.3 416.6h0.8v0.8h-0.8zM338.7 411.8h0.8v0.8h-0.8zM327.1 410.6h0.8v0.8h-0.8zM327.7 415.1h0.8v0.8h-0.8zM315.2 415.1h0.8v0.8h-0.8zM343.7 414.5h0.8v0.8h-0.8zM330.2 413.5h0.8v0.8h-0.8zM334.5 414.5h0.8v0.8h-0.8zM319.0 415.4h0.8v0.8h-0.8zM326.5 413.5h0.8v0.8h-0.8zM331.7 415.7h0.8v0.8h-0.8zM334.9 416.8h0.8v0.8h-0.8zM321.2 416.2h0.8v0.8h-0.8zM328.0 416.1h0.8v0.8h-0.8zM318.5 415.9h0.8v0.8h-0.8zM321.2 417.2h0.8v0.8h-0.8zM322.7 414.8h0.8v0.8h-0.8zM321.7 412.8h0.8v0.8h-0.8zM331.2 417.3h0.8v0.8h-0.8zM333.9 413.8h0.8v0.8h-0.8zM321.9 417.4h0.8v0.8h-0.8zM321.9 416.0h0.8v0.8h-0.8zM325.3 414.0h0.8v0.8h-0.8zM334.5 416.7h0.8v0.8h-0.8zM320.1 415.0h0.8v0.8h-0.8zM323.7 411.7h0.8v0.8h-0.8zM320.4 410.8h0.8v0.8h-0.8zM327.2 413.8h0.8v0.8h-0.8zM329.4 413.5h0.8v0.8h-0.8zM327.2 411.2h0.8v0.8h-0.8zM326.6 414.2h0.8v0.8h-0.8zM315.2 411.7h0.8v0.8h-0.8zM325.9 415.2h0.8v0.8h-0.8zM313.0 416.3h0.8v0.8h-0.8zM321.8 410.0h0.8v0.8h-0.8zM325.1 416.9h0.8v0.8h-0.8zM327.0 416.0h0.8v0.8h-0.8zM325.9 413.6h0.8v0.8h-0.8zM335.6 412.3h0.8v0.8h-0.8zM316.3 413.0h0.8v0.8h-0.8zM323.2 415.9h0.8v0.8h-0.8zM325.1 413.5h0.8v0.8h-0.8zM324.2 413.2h0.8v0.8h-0.8zM324.8 416.4h0.8v0.8h-0.8zM324.1 413.9h0.8v0.8h-0.8zM325.2 414.3h0.8v0.8h-0.8zM324.2 417.0h0.8v0.8h-0.8zM332.1 412.9h0.8v0.8h-0.8zM324.2 413.5h0.8v0.8h-0.8zM332.7 414.1h0.8v0.8h-0.8zM340.7 412.4h0.8v0.8h-0.8zM317.7 415.8h0.8v0.8h-0.8zM319.4 412.9h0.8v0.8h-0.8zM328.9 413.2h0.8v0.8h-0.8zM329.1 410.3h0.8v0.8h-0.8zM322.2 412.5h0.8v0.8h-0.8zM336.5 411.7h0.8v0.8h-0.8zM330.0 414.4h0.8v0.8h-0.8zM350.2 413.8h0.8v0.8h-0.8zM327.0 414.3h0.8v0.8h-0.8zM318.8 415.5h0.8v0.8h-0.8zM322.1 413.8h0.8v0.8h-0.8zM320.3 412.2h0.8v0.8h-0.8zM318.5 414.4h0.8v0.8h-0.8zM329.2 414.0h0.8v0.8h-0.8zM318.5 420.0h0.8v0.8h-0.8zM326.2 415.3h0.8v0.8h-0.8zM330.9 415.4h0.8v0.8h-0.8zM345.2 413.5h0.8v0.8h-0.8zM321.8 415.6h0.8v0.8h-0.8zM338.8 413.0h0.8v0.8h-0.8zM335.1 414.1h0.8v0.8h-0.8zM340.9 414.6h0.8v0.8h-0.8zM332.3 411.8h0.8v0.8h-0.8zM325.6 415.2h0.8v0.8h-0.8zM343.7 411.5h0.8v0.8h-0.8zM320.4 413.4h0.8v0.8h-0.8zM312.8 411.6h0.8v0.8h-0.8zM329.4 417.6h0.8v0.8h-0.8zM332.7 415.2h0.8v0.8h-0.8zM320.4 416.7h0.8v0.8h-0.8zM323.0 413.8h0.8v0.8h-0.8zM326.2 417.1h0.8v0.8h-0.8zM324.3 411.1h0.8v0.8h-0.8zM342.9 414.2h0.8v0.8h-0.8zM323.9 414.0h0.8v0.8h-0.8zM331.3 413.3h0.8v0.8h-0.8zM332.9 407.6h0.8v0.8h-0.8zM326.8 413.0h0.8v0.8h-0.8zM332.7 416.5h0.8v0.8h-0.8zM334.1 414.1h0.8v0.8h-0.8zM321.5 415.2h0.8v0.8h-0.8zM357.9 399.1h0.8v0.8h-0.8zM358.7 403.5h0.8v0.8h-0.8zM350.9 389.3h0.8v0.8h-0.8zM353.6 378.1h0.8v0.8h-0.8zM361.6 397.9h0.8v0.8h-0.8zM358.8 393.2h0.8v0.8h-0.8zM360.5 381.0h0.8v0.8h-0.8zM353.7 408.0h0.8v0.8h-0.8zM356.6 383.1h0.8v0.8h-0.8zM348.7 386.0h0.8v0.8h-0.8zM366.1 403.0h0.8v0.8h-0.8zM354.1 406.9h0.8v0.8h-0.8zM358.0 398.8h0.8v0.8h-0.8zM356.5 364.8h0.8v0.8h-0.8zM357.1 393.5h0.8v0.8h-0.8zM363.8 395.7h0.8v0.8h-0.8zM353.5 399.5h0.8v0.8h-0.8zM352.7 401.4h0.8v0.8h-0.8zM366.0 386.0h0.8v0.8h-0.8zM363.9 403.7h0.8v0.8h-0.8zM359.3 384.1h0.8v0.8h-0.8zM360.2 401.0h0.8v0.8h-0.8zM354.1 399.0h0.8v0.8h-0.8zM358.3 369.8h0.8v0.8h-0.8zM359.5 388.7h0.8v0.8h-0.8zM353.1 371.6h0.8v0.8h-0.8zM361.8 384.9h0.8v0.8h-0.8zM359.1 405.8h0.8v0.8h-0.8zM355.6 401.8h0.8v0.8h-0.8zM363.8 405.1h0.8v0.8h-0.8zM361.2 388.9h0.8v0.8h-0.8zM356.1 402.9h0.8v0.8h-0.8zM353.7 407.7h0.8v0.8h-0.8zM354.1 388.3h0.8v0.8h-0.8zM362.1 396.6h0.8v0.8h-0.8zM360.7 402.7h0.8v0.8h-0.8zM355.2 392.3h0.8v0.8h-0.8zM355.1 380.9h0.8v0.8h-0.8zM360.8 380.5h0.8v0.8h-0.8zM355.9 389.2h0.8v0.8h-0.8zM358.9 405.5h0.8v0.8h-0.8zM354.7 377.4h0.8v0.8h-0.8zM361.1 389.2h0.8v0.8h-0.8zM356.9 384.3h0.8v0.8h-0.8zM356.4 406.1h0.8v0.8h-0.8zM366.7 402.4h0.8v0.8h-0.8zM359.2 383.7h0.8v0.8h-0.8zM349.7 397.2h0.8v0.8h-0.8zM361.6 407.7h0.8v0.8h-0.8zM355.0 378.2h0.8v0.8h-0.8zM359.1 405.0h0.8v0.8h-0.8zM357.1 405.2h0.8v0.8h-0.8zM356.6 406.5h0.8v0.8h-0.8zM352.5 389.9h0.8v0.8h-0.8zM352.0 379.0h0.8v0.8h-0.8zM357.2 391.8h0.8v0.8h-0.8zM352.9 391.5h0.8v0.8h-0.8zM357.3 393.3h0.8v0.8h-0.8zM355.9 381.4h0.8v0.8h-0.8zM354.7 404.5h0.8v0.8h-0.8zM359.8 407.6h0.8v0.8h-0.8zM359.0 404.8h0.8v0.8h-0.8zM349.0 389.0h0.8v0.8h-0.8zM357.8 404.3h0.8v0.8h-0.8zM360.3 395.9h0.8v0.8h-0.8zM354.3 392.2h0.8v0.8h-0.8zM355.8 387.5h0.8v0.8h-0.8zM359.5 396.7h0.8v0.8h-0.8zM353.7 382.0h0.8v0.8h-0.8zM358.7 407.4h0.8v0.8h-0.8zM360.8 389.7h0.8v0.8h-0.8zM351.4 369.2h0.8v0.8h-0.8zM360.3 392.1h0.8v0.8h-0.8zM357.8 402.1h0.8v0.8h-0.8zM359.8 378.5h0.8v0.8h-0.8zM359.2 396.5h0.8v0.8h-0.8zM357.2 396.9h0.8v0.8h-0.8zM365.4 390.0h0.8v0.8h-0.8zM355.9 383.7h0.8v0.8h-0.8zM351.6 364.3h0.8v0.8h-0.8zM361.2 388.1h0.8v0.8h-0.8zM357.5 380.5h0.8v0.8h-0.8zM351.9 380.4h0.8v0.8h-0.8zM352.7 390.6h0.8v0.8h-0.8zM370.5 389.8h0.8v0.8h-0.8zM360.3 402.6h0.8v0.8h-0.8zM356.7 397.0h0.8v0.8h-0.8zM356.6 396.4h0.8v0.8h-0.8zM359.2 404.4h0.8v0.8h-0.8zM359.9 407.4h0.8v0.8h-0.8zM360.2 397.9h0.8v0.8h-0.8zM358.0 403.2h0.8v0.8h-0.8zM357.0 379.5h0.8v0.8h-0.8zM357.3 398.3h0.8v0.8h-0.8zM365.4 404.4h0.8v0.8h-0.8zM348.7 389.4h0.8v0.8h-0.8zM348.7 384.6h0.8v0.8h-0.8zM363.3 400.9h0.8v0.8h-0.8zM355.0 407.6h0.8v0.8h-0.8zM352.9 401.2h0.8v0.8h-0.8zM354.6 388.7h0.8v0.8h-0.8zM362.5 380.0h0.8v0.8h-0.8zM360.9 398.3h0.8v0.8h-0.8zM364.7 366.9h0.8v0.8h-0.8zM348.9 390.1h0.8v0.8h-0.8zM362.0 380.7h0.8v0.8h-0.8zM353.7 405.3h0.8v0.8h-0.8zM359.3 395.6h0.8v0.8h-0.8zM361.0 373.2h0.8v0.8h-0.8zM355.3 373.9h0.8v0.8h-0.8zM359.6 393.6h0.8v0.8h-0.8zM362.0 392.1h0.8v0.8h-0.8zM361.0 405.2h0.8v0.8h-0.8zM361.5 401.9h0.8v0.8h-0.8zM358.5 399.3h0.8v0.8h-0.8zM356.1 379.2h0.8v0.8h-0.8zM359.4 395.8h0.8v0.8h-0.8zM363.6 373.6h0.8v0.8h-0.8zM359.7 380.0h0.8v0.8h-0.8zM350.0 397.2h0.8v0.8h-0.8zM358.2 400.0h0.8v0.8h-0.8zM354.5 408.0h0.8v0.8h-0.8zM350.9 400.1h0.8v0.8h-0.8zM357.8 390.9h0.8v0.8h-0.8zM361.2 380.5h0.8v0.8h-0.8zM359.4 396.0h0.8v0.8h-0.8zM366.6 386.9h0.8v0.8h-0.8zM361.1 389.8h0.8v0.8h-0.8zM361.4 396.3h0.8v0.8h-0.8zM359.4 396.4h0.8v0.8h-0.8zM359.5 391.2h0.8v0.8h-0.8zM353.5 399.3h0.8v0.8h-0.8zM358.4 375.5h0.8v0.8h-0.8zM355.3 403.5h0.8v0.8h-0.8zM354.9 396.7h0.8v0.8h-0.8zM357.6 403.4h0.8v0.8h-0.8zM352.3 403.0h0.8v0.8h-0.8zM357.4 387.2h0.8v0.8h-0.8zM359.2 407.6h0.8v0.8h-0.8zM355.9 404.3h0.8v0.8h-0.8zM354.4 385.0h0.8v0.8h-0.8zM354.3 403.7h0.8v0.8h-0.8zM359.9 380.2h0.8v0.8h-0.8zM353.2 373.9h0.8v0.8h-0.8zM357.8 401.7h0.8v0.8h-0.8zM351.5 385.3h0.8v0.8h-0.8zM359.9 406.6h0.8v0.8h-0.8zM354.9 387.6h0.8v0.8h-0.8zM359.0 388.1h0.8v0.8h-0.8zM356.8 389.9h0.8v0.8h-0.8z" fill="#000" fill-opacity="0.2"/>
<path d="M356.6 376.7h0.8v0.8h-0.8zM328.2 364.1h0.8v0.8h-0.8zM398.2 363.5h0.8v0.8h-0.8zM350.7 400.4h0.8v0.8h-0.8zM357.6 378.5h0.8v0.8h-0.8zM399.6 437.1h0.8v0.8h-0.8zM398.1 388.2h0.8v0.8h-0.8zM319.7 366.9h0.8v0.8h-0.8zM328.7 393.7h0.8v0.8h-0.8zM330.7 387.7h0.8v0.8h-0.8zM330.5 361.0h0.8v0.8h-0.8zM320.8 421.6h0.8v0.8h-0.8zM319.9 380.8h0.8v0.8h-0.8zM396.2 366.4h0.8v0.8h-0.8zM376.9 379.8h0.8v0.8h-0.8zM315.4 410.8h0.8v0.8h-0.8zM334.6 391.2h0.8v0.8h-0.8zM364.4 391.3h0.8v0.8h-0.8zM362.2 409.1h0.8v0.8h-0.8zM398.1 410.3h0.8v0.8h-0.8zM313.6 388.9h0.8v0.8h-0.8zM373.5 399.4h0.8v0.8h-0.8zM354.3 393.9h0.8v0.8h-0.8zM376.7 395.0h0.8v0.8h-0.8zM376.7 383.8h0.8v0.8h-0.8zM342.9 357.6h0.8v0.8h-0.8zM391.1 410.8h0.8v0.8h-0.8zM387.8 378.4h0.8v0.8h-0.8zM366.9 373.5h0.8v0.8h-0.8zM319.0 414.6h0.8v0.8h-0.8zM376.5 370.7h0.8v0.8h-0.8zM350.7 399.9h0.8v0.8h-0.8zM314.6 387.2h0.8v0.8h-0.8zM366.0 428.8h0.8v0.8h-0.8zM334.5 413.6h0.8v0.8h-0.8zM391.5 382.3h0.8v0.8h-0.8zM340.7 374.9h0.8v0.8h-0.8zM329.4 358.9h0.8v0.8h-0.8zM385.5 405.9h0.8v0.8h-0.8zM339.7 410.9h0.8v0.8h-0.8zM374.2 377.9h0.8v0.8h-0.8zM367.2 365.7h0.8v0.8h-0.8zM382.9 405.2h0.8v0.8h-0.8zM348.5 412.4h0.8v0.8h-0.8zM328.5 419.0h0.8v0.8h-0.8zM332.6 417.5h0.8v0.8h-0.8zM346.3 412.1h0.8v0.8h-0.8zM331.5 414.9h0.8v0.8h-0.8zM332.3 413.5h0.8v0.8h-0.8zM330.7 413.0h0.8v0.8h-0.8zM348.9 415.1h0.8v0.8h-0.8zM333.8 413.4h0.8v0.8h-0.8zM330.0 414.9h0.8v0.8h-0.8zM334.5 416.4h0.8v0.8h-0.8zM328.7 415.8h0.8v0.8h-0.8zM346.8 411.5h0.8v0.8h-0.8zM349.8 416.4h0.8v0.8h-0.8zM340.2 414.7h0.8v0.8h-0.8zM327.2 415.3h0.8v0.8h-0.8zM348.9 417.1h0.8v0.8h-0.8zM332.8 413.4h0.8v0.8h-0.8zM330.3 417.1h0.8v0.8h-0.8zM330.0 416.3h0.8v0.8h-0.8zM350.4 412.2h0.8v0.8h-0.8zM334.1 413.4h0.8v0.8h-0.8zM331.2 417.1h0.8v0.8h-0.8zM325.9 414.2h0.8v0.8h-0.8zM337.0 415.6h0.8v0.8h-0.8zM333.9 413.7h0.8v0.8h-0.8zM341.7 414.6h0.8v0.8h-0.8zM334.4 412.7h0.8v0.8h-0.8zM345.3 416.3h0.8v0.8h-0.8zM336.0 413.9h0.8v0.8h-0.8zM332.8 410.8h0.8v0.8h-0.8zM336.1 413.1h0.8v0.8h-0.8zM343.3 413.2h0.8v0.8h-0.8zM328.5 417.7h0.8v0.8h-0.8zM332.5 410.2h0.8v0.8h-0.8zM329.9 417.0h0.8v0.8h-0.8zM334.1 412.8h0.8v0.8h-0.8zM327.7 415.8h0.8v0.8h-0.8zM326.8 413.0h0.8v0.8h-0.8zM349.8 412.4h0.8v0.8h-0.8zM328.8 411.0h0.8v0.8h-0.8zM338.9 414.3h0.8v0.8h-0.8zM328.1 412.5h0.8v0.8h-0.8zM340.6 414.5h0.8v0.8h-0.8zM330.4 417.7h0.8v0.8h-0.8zM342.6 414.0h0.8v0.8h-0.8zM325.6 414.0h0.8v0.8h-0.8zM348.7 416.8h0.8v0.8h-0.8zM325.9 416.8h0.8v0.8h-0.8zM332.3 413.8h0.8v0.8h-0.8zM333.9 413.7h0.8v0.8h-0.8zM343.9 413.9h0.8v0.8h-0.8zM346.0 414.2h0.8v0.8h-0.8zM331.8 416.1h0.8v0.8h-0.8zM335.0 413.3h0.8v0.8h-0.8zM346.7 413.1h0.8v0.8h-0.8zM335.5 418.1h0.8v0.8h-0.8zM326.0 410.0h0.8v0.8h-0.8zM327.8 413.8h0.8v0.8h-0.8zM341.8 414.3h0.8v0.8h-0.8zM332.9 415.9h0.8v0.8h-0.8zM340.0 412.8h0.8v0.8h-0.8zM331.4 415.3h0.8v0.8h-0.8zM346.8 413.3h0.8v0.8h-0.8zM339.7 414.5h0.8v0.8h-0.8zM334.7 416.9h0.8v0.8h-0.8zM340.2 415.1h0.8v0.8h-0.8zM340.2 416.1h0.8v0.8h-0.8zM342.2 416.7h0.8v0.8h-0.8zM335.5 414.0h0.8v0.8h-0.8zM332.6 417.2h0.8v0.8h-0.8zM344.9 413.3h0.8v0.8h-0.8zM339.0 414.5h0.8v0.8h-0.8zM328.8 412.4h0.8v0.8h-0.8zM346.9 412.9h0.8v0.8h-0.8zM328.0 413.1h0.8v0.8h-0.8zM344.0 417.6h0.8v0.8h-0.8zM343.5 415.9h0.8v0.8h-0.8zM343.9 414.5h0.8v0.8h-0.8zM334.4 411.9h0.8v0.8h-0.8zM341.1 413.7h0.8v0.8h-0.8zM331.1 412.8h0.8v0.8h-0.8zM338.3 412.2h0.8v0.8h-0.8zM328.8 412.6h0.8v0.8h-0.8zM336.3 414.4h0.8v0.8h-0.8zM330.5 414.3h0.8v0.8h-0.8zM326.6 414.1h0.8v0.8h-0.8zM349.9 414.9h0.8v0.8h-0.8zM338.0 414.5h0.8v0.8h-0.8zM335.0 418.3h0.8v0.8h-0.8zM334.1 411.1h0.8v0.8h-0.8zM328.5 413.3h0.8v0.8h-0.8zM328.5 412.3h0.8v0.8h-0.8zM347.5 414.6h0.8v0.8h-0.8zM344.0 413.9h0.8v0.8h-0.8zM332.6 409.7h0.8v0.8h-0.8zM344.3 413.6h0.8v0.8h-0.8zM331.1 413.1h0.8v0.8h-0.8zM335.4 411.1h0.8v0.8h-0.8zM331.6 416.8h0.8v0.8h-0.8zM328.6 414.6h0.8v0.8h-0.8zM328.6 417.2h0.8v0.8h-0.8zM342.8 417.6h0.8v0.8h-0.8zM341.9 413.1h0.8v0.8h-0.8zM336.1 413.6h0.8v0.8h-0.8zM332.9 414.6h0.8v0.8h-0.8zM331.1 415.3h0.8v0.8h-0.8zM326.4 416.0h0.8v0.8h-0.8zM329.6 415.7h0.8v0.8h-0.8zM335.0 413.1h0.8v0.8h-0.8zM332.8 414.1h0.8v0.8h-0.8zM330.4 413.4h0.8v0.8h-0.8zM332.2 414.4h0.8v0.8h-0.8zM343.1 415.0h0.8v0.8h-0.8zM333.5 415.4h0.8v0.8h-0.8zM334.3 413.4h0.8v0.8h-0.8zM330.1 410.9h0.8v0.8h-0.8zM333.1 414.3h0.8v0.8h-0.8zM339.5 412.3h0.8v0.8h-0.8zM331.3 411.8h0.8v0.8h-0.8zM343.5 411.0h0.8v0.8h-0.8zM349.1 414.1h0.8v0.8h-0.8zM340.1 415.7h0.8v0.8h-0.8zM329.1 416.5h0.8v0.8h-0.8zM328.0 416.4h0.8v0.8h-0.8zM354.2 372.1h0.8v0.8h-0.8zM363.6 397.3h0.8v0.8h-0.8zM363.8 373.3h0.8v0.8h-0.8zM356.3 395.6h0.8v0.8h-0.8zM363.3 383.5h0.8v0.8h-0.8zM353.9 377.1h0.8v0.8h-0.8zM365.4 368.0h0.8v0.8h-0.8zM352.4 390.8h0.8v0.8h-0.8zM362.9 394.8h0.8v0.8h-0.8zM354.5 392.2h0.8v0.8h-0.8zM354.4 367.7h0.8v0.8h-0.8zM369.2 399.1h0.8v0.8h-0.8zM360.7 395.8h0.8v0.8h-0.8zM356.2 390.0h0.8v0.8h-0.8zM361.7 402.4h0.8v0.8h-0.8zM347.6 382.8h0.8v0.8h-0.8zM364.9 382.4h0.8v0.8h-0.8zM357.4 375.6h0.8v0.8h-0.8zM356.2 393.6h0.8v0.8h-0.8zM366.2 371.0h0.8v0.8h-0.8zM360.4 384.2h0.8v0.8h-0.8zM353.4 375.6h0.8v0.8h-0.8zM352.9 376.6h0.8v0.8h-0.8zM355.2 380.2h0.8v0.8h-0.8zM362.8 388.2h0.8v0.8h-0.8zM362.1 398.1h0.8v0.8h-0.8zM356.1 397.8h0.8v0.8h-0.8zM351.6 370.0h0.8v0.8h-0.8zM364.8 398.0h0.8v0.8h-0.8zM355.1 390.8h0.8v0.8h-0.8zM355.1 405.9h0.8v0.8h-0.8zM354.8 406.4h0.8v0.8h-0.8zM356.8 396.9h0.8v0.8h-0.8zM361.0 396.4h0.8v0.8h-0.8zM354.9 406.3h0.8v0.8h-0.8zM363.5 390.9h0.8v0.8h-0.8zM365.4 380.7h0.8v0.8h-0.8zM356.4 405.3h0.8v0.8h-0.8zM358.3 382.5h0.8v0.8h-0.8zM364.7 405.1h0.8v0.8h-0.8zM364.4 407.1h0.8v0.8h-0.8zM353.1 403.4h0.8v0.8h-0.8zM358.0 390.5h0.8v0.8h-0.8zM354.3 374.4h0.8v0.8h-0.8zM356.0 392.4h0.8v0.8h-0.8zM355.1 392.3h0.8v0.8h-0.8zM363.4 396.7h0.8v0.8h-0.8zM358.6 387.4h0.8v0.8h-0.8zM356.4 396.5h0.8v0.8h-0.8zM352.8 374.0h0.8v0.8h-0.8zM360.3 387.7h0.8v0.8h-0.8zM355.1 399.2h0.8v0.8h-0.8zM360.2 403.3h0.8v0.8h-0.8zM355.5 382.9h0.8v0.8h-0.8zM356.8 390.9h0.8v0.8h-0.8zM362.2 401.9h0.8v0.8h-0.8zM356.8 401.3h0.8v0.8h-0.8zM353.8 381.6h0.8v0.8h-0.8zM349.7 371.9h0.8v0.8h-0.8zM360.3 401.2h0.8v0.8h-0.8zM362.0 376.8h0.8v0.8h-0.8zM350.8 371.7h0.8v0.8h-0.8zM353.1 394.1h0.8v0.8h-0.8zM364.6 392.5h0.8v0.8h-0.8zM361.3 390.8h0.8v0.8h-0.8zM358.4 399.3h0.8v0.8h-0.8zM363.0 394.5h0.8v0.8h-0.8zM363.8 394.0h0.8v0.8h-0.8zM359.9 373.5h0.8v0.8h-0.8zM355.0 393.0h0.8v0.8h-0.8zM352.8 394.5h0.8v0.8h-0.8zM362.4 397.3h0.8v0.8h-0.8zM359.9 396.0h0.8v0.8h-0.8zM354.5 392.1h0.8v0.8h-0.8zM357.9 402.3h0.8v0.8h-0.8zM360.3 391.4h0.8v0.8h-0.8zM359.2 400.1h0.8v0.8h-0.8zM353.0 387.7h0.8v0.8h-0.8zM354.6 395.9h0.8v0.8h-0.8zM363.2 375.7h0.8v0.8h-0.8zM355.3 402.8h0.8v0.8h-0.8zM365.9 389.7h0.8v0.8h-0.8zM356.2 373.6h0.8v0.8h-0.8zM359.9 391.4h0.8v0.8h-0.8zM357.6 402.8h0.8v0.8h-0.8zM356.7 408.1h0.8v0.8h-0.8zM351.3 392.9h0.8v0.8h-0.8zM362.8 396.8h0.8v0.8h-0.8zM361.2 392.2h0.8v0.8h-0.8zM362.5 405.5h0.8v0.8h-0.8zM359.0 397.9h0.8v0.8h-0.8zM363.0 401.5h0.8v0.8h-0.8zM357.5 393.6h0.8v0.8h-0.8zM357.2 389.1h0.8v0.8h-0.8zM354.8 382.8h0.8v0.8h-0.8zM363.0 396.8h0.8v0.8h-0.8zM353.7 380.3h0.8v0.8h-0.8zM357.5 382.3h0.8v0.8h-0.8zM354.0 382.8h0.8v0.8h-0.8zM364.1 381.9h0.8v0.8h-0.8zM359.2 388.7h0.8v0.8h-0.8zM362.8 394.9h0.8v0.8h-0.8zM359.8 380.4h0.8v0.8h-0.8zM361.1 401.9h0.8v0.8h-0.8zM356.9 404.7h0.8v0.8h-0.8zM355.2 398.0h0.8v0.8h-0.8zM359.6 398.6h0.8v0.8h-0.8zM357.9 405.7h0.8v0.8h-0.8zM354.1 405.4h0.8v0.8h-0.8zM356.7 407.3h0.8v0.8h-0.8zM351.1 404.3h0.8v0.8h-0.8zM349.5 389.1h0.8v0.8h-0.8zM365.0 377.4h0.8v0.8h-0.8zM363.6 400.1h0.8v0.8h-0.8zM358.0 405.7h0.8v0.8h-0.8zM358.8 403.8h0.8v0.8h-0.8zM354.8 391.0h0.8v0.8h-0.8zM362.8 390.3h0.8v0.8h-0.8zM350.8 366.0h0.8v0.8h-0.8zM356.2 400.7h0.8v0.8h-0.8zM359.2 395.5h0.8v0.8h-0.8zM354.4 390.7h0.8v0.8h-0.8zM353.3 377.9h0.8v0.8h-0.8zM363.5 405.4h0.8v0.8h-0.8zM357.3 382.3h0.8v0.8h-0.8zM356.6 405.0h0.8v0.8h-0.8zM355.1 377.5h0.8v0.8h-0.8zM358.5 365.6h0.8v0.8h-0.8zM360.4 404.0h0.8v0.8h-0.8zM355.7 375.5h0.8v0.8h-0.8zM360.1 406.9h0.8v0.8h-0.8zM359.6 372.5h0.8v0.8h-0.8zM363.3 391.8h0.8v0.8h-0.8zM346.4 384.0h0.8v0.8h-0.8zM362.1 394.5h0.8v0.8h-0.8zM359.8 396.1h0.8v0.8h-0.8zM360.6 399.3h0.8v0.8h-0.8zM360.5 404.4h0.8v0.8h-0.8zM361.9 405.1h0.8v0.8h-0.8zM357.7 402.5h0.8v0.8h-0.8zM356.3 387.4h0.8v0.8h-0.8zM349.9 377.9h0.8v0.8h-0.8zM355.2 397.8h0.8v0.8h-0.8zM351.3 396.0h0.8v0.8h-0.8zM357.9 387.3h0.8v0.8h-0.8zM354.5 387.7h0.8v0.8h-0.8zM360.1 392.9h0.8v0.8h-0.8zM345.0 402.1h0.8v0.8h-0.8zM355.0 406.6h0.8v0.8h-0.8zM349.6 395.4h0.8v0.8h-0.8zM346.7 374.7h0.8v0.8h-0.8zM354.3 399.2h0.8v0.8h-0.8zM357.2 367.1h0.8v0.8h-0.8zM357.1 384.4h0.8v0.8h-0.8zM352.5 378.4h0.8v0.8h-0.8zM362.0 403.9h0.8v0.8h-0.8zM355.8 391.5h0.8v0.8h-0.8zM361.9 397.1h0.8v0.8h-0.8zM358.0 398.6h0.8v0.8h-0.8zM358.0 380.7h0.8v0.8h-0.8zM352.6 379.7h0.8v0.8h-0.8zM358.5 399.0h0.8v0.8h-0.8zM357.9 399.4h0.8v0.8h-0.8zM361.1 400.4h0.8v0.8h-0.8zM358.0 406.7h0.8v0.8h-0.8zM354.2 398.5h0.8v0.8h-0.8zM357.1 394.4h0.8v0.8h-0.8zM358.2 405.6h0.8v0.8h-0.8zM360.6 402.8h0.8v0.8h-0.8zM356.1 399.9h0.8v0.8h-0.8zM359.5 391.1h0.8v0.8h-0.8zM362.6 386.2h0.8v0.8h-0.8zM352.2 386.9h0.8v0.8h-0.8zM359.6 398.5h0.8v0.8h-0.8zM360.4 402.2h0.8v0.8h-0.8zM357.6 400.9h0.8v0.8h-0.8zM361.2 389.1h0.8v0.8h-0.8zM354.4 400.1h0.8v0.8h-0.8zM358.6 407.0h0.8v0.8h-0.8zM360.7 390.7h0.8v0.8h-0.8zM362.4 397.8h0.8v0.8h-0.8zM360.7 400.9h0.8v0.8h-0.8zM357.5 383.4h0.8v0.8h-0.8zM358.4 406.0h0.8v0.8h-0.8zM357.7 407.0h0.8v0.8h-0.8zM355.4 399.5h0.8v0.8h-0.8zM355.5 402.8h0.8v0.8h-0.8zM354.1 406.6h0.8v0.8h-0.8zM354.0 396.7h0.8v0.8h-0.8zM356.9 395.2h0.8v0.8h-0.8zM351.2 391.8h0.8v0.8h-0.8zM358.7 387.3h0.8v0.8h-0.8zM353.4 387.6h0.8v0.8h-0.8zM356.1 401.3h0.8v0.8h-0.8zM348.4 402.5h0.8v0.8h-0.8zM352.0 397.7h0.8v0.8h-0.8zM355.3 401.9h0.8v0.8h-0.8zM354.3 389.2h0.8v0.8h-0.8zM361.9 404.5h0.8v0.8h-0.8zM359.6 394.3h0.8v0.8h-0.8zM357.3 391.6h0.8v0.8h-0.8zM353.2 394.4h0.8v0.8h-0.8zM351.3 370.6h0.8v0.8h-0.8zM350.0 395.5h0.8v0.8h-0.8zM359.2 383.9h0.8v0.8h-0.8zM359.4 406.2h0.8v0.8h-0.8zM352.0 402.9h0.8v0.8h-0.8zM367.9 386.3h0.8v0.8h-0.8zM362.6 388.9h0.8v0.8h-0.8zM357.0 406.6h0.8v0.8h-0.8zM354.3 392.7h0.8v0.8h-0.8zM359.1 398.7h0.8v0.8h-0.8zM360.6 407.7h0.8v0.8h-0.8zM360.9 395.4h0.8v0.8h-0.8zM352.3 406.7h0.8v0.8h-0.8zM356.9 390.0h0.8v0.8h-0.8zM357.0 402.7h0.8v0.8h-0.8zM351.5 382.4h0.8v0.8h-0.8zM357.3 399.5h0.8v0.8h-0.8zM350.6 384.9h0.8v0.8h-0.8zM354.7 398.9h0.8v0.8h-0.8zM358.6 390.7h0.8v0.8h-0.8zM355.5 395.5h0.8v0.8h-0.8zM354.4 403.2h0.8v0.8h-0.8zM359.6 397.3h0.8v0.8h-0.8zM357.7 399.2h0.8v0.8h-0.8zM350.9 401.5h0.8v0.8h-0.8zM356.9 391.8h0.8v0.8h-0.8zM356.6 386.2h0.8v0.8h-0.8zM357.8 403.0h0.8v0.8h-0.8zM365.7 402.2h0.8v0.8h-0.8zM358.0 405.0h0.8v0.8h-0.8zM358.3 373.1h0.8v0.8h-0.8zM346.9 381.8h0.8v0.8h-0.8zM359.5 386.6h0.8v0.8h-0.8zM361.1 403.7h0.8v0.8h-0.8zM353.9 387.8h0.8v0.8h-0.8zM355.7 371.9h0.8v0.8h-0.8zM357.8 405.3h0.8v0.8h-0.8zM360.2 400.3h0.8v0.8h-0.8zM366.4 371.6h0.8v0.8h-0.8zM355.6 407.7h0.8v0.8h-0.8zM355.2 398.4h0.8v0.8h-0.8zM355.5 406.6h0.8v0.8h-0.8zM362.0 402.6h0.8v0.8h-0.8zM356.5 402.9h0.8v0.8h-0.8zM354.0 400.3h0.8v0.8h-0.8zM364.7 390.2h0.8v0.8h-0.8zM355.5 406.5h0.8v0.8h-0.8zM362.1 401.1h0.8v0.8h-0.8zM355.3 379.2h0.8v0.8h-0.8zM357.1 403.2h0.8v0.8h-0.8zM352.7 401.2h0.8v0.8h-0.8zM355.6 389.3h0.8v0.8h-0.8zM351.1 368.5h0.8v0.8h-0.8zM360.5 405.0h0.8v0.8h-0.8zM358.4 404.3h0.8v0.8h-0.8zM357.6 380.6h0.8v0.8h-0.8zM360.9 406.3h0.8v0.8h-0.8zM361.6 406.8h0.8v0.8h-0.8zM361.1 396.8h0.8v0.8h-0.8zM354.9 400.8h0.8v0.8h-0.8zM352.3 405.6h0.8v0.8h-0.8zM365.0 386.8h0.8v0.8h-0.8zM349.5 394.5h0.8v0.8h-0.8zM349.8 395.6h0.8v0.8h-0.8zM359.2 407.3h0.8v0.8h-0.8zM355.8 405.8h0.8v0.8h-0.8zM359.8 395.5h0.8v0.8h-0.8zM360.5 399.8h0.8v0.8h-0.8zM355.7 386.2h0.8v0.8h-0.8zM356.2 401.2h0.8v0.8h-0.8zM360.1 394.7h0.8v0.8h-0.8zM363.0 387.6h0.8v0.8h-0.8zM360.5 383.6h0.8v0.8h-0.8zM359.8 400.1h0.8v0.8h-0.8zM356.4 395.4h0.8v0.8h-0.8zM356.1 408.1h0.8v0.8h-0.8zM361.2 389.5h0.8v0.8h-0.8zM358.4 390.8h0.8v0.8h-0.8zM361.6 403.7h0.8v0.8h-0.8zM356.3 401.5h0.8v0.8h-0.8zM367.3 398.9h0.8v0.8h-0.8zM357.9 381.2h0.8v0.8h-0.8zM350.0 388.0h0.8v0.8h-0.8zM357.5 395.3h0.8v0.8h-0.8zM352.8 403.5h0.8v0.8h-0.8zM355.0 385.7h0.8v0.8h-0.8zM356.8 403.8h0.8v0.8h-0.8zM354.4 399.5h0.8v0.8h-0.8zM356.0 394.7h0.8v0.8h-0.8zM355.8 399.6h0.8v0.8h-0.8zM361.9 406.8h0.8v0.8h-0.8zM361.8 366.6h0.8v0.8h-0.8zM352.3 400.6h0.8v0.8h-0.8zM357.7 402.7h0.8v0.8h-0.8zM359.7 385.9h0.8v0.8h-0.8zM353.8 400.4h0.8v0.8h-0.8zM354.4 396.9h0.8v0.8h-0.8zM354.1 398.8h0.8v0.8h-0.8zM360.3 382.5h0.8v0.8h-0.8zM354.6 399.1h0.8v0.8h-0.8zM365.9 394.2h0.8v0.8h-0.8zM361.9 376.5h0.8v0.8h-0.8zM352.6 377.3h0.8v0.8h-0.8zM360.4 398.0h0.8v0.8h-0.8zM355.2 373.9h0.8v0.8h-0.8zM352.1 398.3h0.8v0.8h-0.8zM353.4 405.6h0.8v0.8h-0.8zM354.5 391.8h0.8v0.8h-0.8zM365.6 405.9h0.8v0.8h-0.8zM359.8 389.2h0.8v0.8h-0.8zM360.8 407.9h0.8v0.8h-0.8zM351.1 389.4h0.8v0.8h-0.8zM356.2 376.6h0.8v0.8h-0.8zM354.0 405.7h0.8v0.8h-0.8zM354.7 395.3h0.8v0.8h-0.8zM351.2 396.7h0.8v0.8h-0.8zM368.7 399.6h0.8v0.8h-0.8zM356.9 406.0h0.8v0.8h-0.8zM360.8 406.9h0.8v0.8h-0.8zM359.0 397.0h0.8v0.8h-0.8zM361.9 404.2h0.8v0.8h-0.8zM365.8 390.1h0.8v0.8h-0.8zM356.6 398.2h0.8v0.8h-0.8zM357.4 404.7h0.8v0.8h-0.8zM352.1 399.1h0.8v0.8h-0.8zM350.3 396.3h0.8v0.8h-0.8zM357.3 387.0h0.8v0.8h-0.8zM348.0 377.5h0.8v0.8h-0.8zM358.1 404.0h0.8v0.8h-0.8zM357.8 387.2h0.8v0.8h-0.8zM349.3 399.9h0.8v0.8h-0.8zM347.0 380.1h0.8v0.8h-0.8zM359.1 382.7h0.8v0.8h-0.8zM356.6 395.3h0.8v0.8h-0.8zM357.1 405.5h0.8v0.8h-0.8zM358.8 388.2h0.8v0.8h-0.8zM358.8 388.8h0.8v0.8h-0.8zM364.9 395.7h0.8v0.8h-0.8zM362.1 400.6h0.8v0.8h-0.8zM352.0 396.6h0.8v0.8h-0.8zM354.2 397.9h0.8v0.8h-0.8zM357.7 376.8h0.8v0.8h-0.8zM362.6 383.2h0.8v0.8h-0.8zM358.3 382.6h0.8v0.8h-0.8zM360.7 402.8h0.8v0.8h-0.8zM356.2 386.9h0.8v0.8h-0.8zM359.2 399.8h0.8v0.8h-0.8zM357.8 394.2h0.8v0.8h-0.8zM356.6 395.2h0.8v0.8h-0.8zM367.4 385.7h0.8v0.8h-0.8zM353.6 388.8h0.8v0.8h-0.8zM354.0 401.2h0.8v0.8h-0.8zM356.3 402.2h0.8v0.8h-0.8zM355.1 402.2h0.8v0.8h-0.8zM360.6 391.2h0.8v0.8h-0.8zM358.4 399.0h0.8v0.8h-0.8zM354.9 368.2h0.8v0.8h-0.8zM366.8 387.0h0.8v0.8h-0.8zM357.6 394.6h0.8v0.8h-0.8zM350.1 403.3h0.8v0.8h-0.8zM355.2 394.1h0.8v0.8h-0.8zM352.4 379.3h0.8v0.8h-0.8zM355.8 377.8h0.8v0.8h-0.8zM356.2 386.8h0.8v0.8h-0.8zM363.3 393.5h0.8v0.8h-0.8zM357.8 399.0h0.8v0.8h-0.8zM356.1 406.3h0.8v0.8h-0.8zM352.9 397.0h0.8v0.8h-0.8zM360.2 389.6h0.8v0.8h-0.8zM359.8 400.0h0.8v0.8h-0.8zM356.4 395.3h0.8v0.8h-0.8zM363.9 386.2h0.8v0.8h-0.8zM352.2 378.1h0.8v0.8h-0.8zM352.9 384.8h0.8v0.8h-0.8zM358.7 406.8h0.8v0.8h-0.8zM365.1 388.8h0.8v0.8h-0.8zM353.4 387.7h0.8v0.8h-0.8zM355.4 391.4h0.8v0.8h-0.8zM359.8 400.4h0.8v0.8h-0.8zM357.7 407.2h0.8v0.8h-0.8zM364.8 407.3h0.8v0.8h-0.8zM354.8 390.7h0.8v0.8h-0.8zM358.4 386.9h0.8v0.8h-0.8zM350.9 401.8h0.8v0.8h-0.8zM355.1 384.7h0.8v0.8h-0.8zM360.0 405.2h0.8v0.8h-0.8zM354.9 403.6h0.8v0.8h-0.8zM363.5 402.8h0.8v0.8h-0.8zM353.5 400.7h0.8v0.8h-0.8zM358.1 401.1h0.8v0.8h-0.8zM366.6 402.4h0.8v0.8h-0.8zM363.4 382.0h0.8v0.8h-0.8zM360.7 402.4h0.8v0.8h-0.8zM352.1 394.2h0.8v0.8h-0.8zM353.0 395.5h0.8v0.8h-0.8zM364.0 376.0h0.8v0.8h-0.8zM353.6 398.8h0.8v0.8h-0.8zM357.7 407.5h0.8v0.8h-0.8zM350.5 393.9h0.8v0.8h-0.8zM361.8 396.1h0.8v0.8h-0.8zM360.9 394.0h0.8v0.8h-0.8zM358.7 391.3h0.8v0.8h-0.8zM355.1 394.5h0.8v0.8h-0.8zM357.7 375.7h0.8v0.8h-0.8zM361.0 399.5h0.8v0.8h-0.8zM357.9 397.2h0.8v0.8h-0.8zM360.3 398.8h0.8v0.8h-0.8zM364.7 400.8h0.8v0.8h-0.8zM356.3 395.5h0.8v0.8h-0.8zM357.9 388.9h0.8v0.8h-0.8zM358.4 397.2h0.8v0.8h-0.8zM358.9 406.3h0.8v0.8h-0.8zM360.6 399.9h0.8v0.8h-0.8zM367.3 394.7h0.8v0.8h-0.8zM350.4 392.9h0.8v0.8h-0.8zM355.9 401.8h0.8v0.8h-0.8zM357.3 386.4h0.8v0.8h-0.8zM365.9 400.5h0.8v0.8h-0.8zM351.5 389.5h0.8v0.8h-0.8zM365.4 375.8h0.8v0.8h-0.8zM354.8 389.9h0.8v0.8h-0.8zM363.5 378.2h0.8v0.8h-0.8zM354.7 397.2h0.8v0.8h-0.8zM359.9 407.6h0.8v0.8h-0.8zM369.6 385.0h0.8v0.8h-0.8zM363.3 391.2h0.8v0.8h-0.8zM351.0 404.2h0.8v0.8h-0.8zM356.9 398.9h0.8v0.8h-0.8zM351.8 382.7h0.8v0.8h-0.8zM354.5 374.2h0.8v0.8h-0.8zM360.5 402.1h0.8v0.8h-0.8zM355.9 401.4h0.8v0.8h-0.8zM356.6 387.6h0.8v0.8h-0.8zM359.2 390.3h0.8v0.8h-0.8zM355.8 390.8h0.8v0.8h-0.8zM356.9 379.8h0.8v0.8h-0.8zM355.9 396.8h0.8v0.8h-0.8zM359.1 385.2h0.8v0.8h-0.8zM353.2 385.0h0.8v0.8h-0.8zM359.4 393.2h0.8v0.8h-0.8zM358.0 378.3h0.8v0.8h-0.8zM350.2 396.5h0.8v0.8h-0.8zM361.3 402.3h0.8v0.8h-0.8zM365.1 399.7h0.8v0.8h-0.8zM356.8 386.8h0.8v0.8h-0.8zM345.2 391.1h0.8v0.8h-0.8zM355.0 404.8h0.8v0.8h-0.8zM351.8 399.9h0.8v0.8h-0.8zM362.5 405.9h0.8v0.8h-0.8zM362.6 402.2h0.8v0.8h-0.8zM354.8 386.6h0.8v0.8h-0.8zM356.8 404.0h0.8v0.8h-0.8zM362.1 380.4h0.8v0.8h-0.8zM359.6 396.3h0.8v0.8h-0.8zM362.3 395.0h0.8v0.8h-0.8zM357.8 387.8h0.8v0.8h-0.8zM354.7 399.7h0.8v0.8h-0.8zM361.9 390.1h0.8v0.8h-0.8zM362.7 405.1h0.8v0.8h-0.8zM364.4 372.9h0.8v0.8h-0.8zM356.7 403.1h0.8v0.8h-0.8zM362.2 393.2h0.8v0.8h-0.8zM357.3 400.9h0.8v0.8h-0.8zM361.8 401.7h0.8v0.8h-0.8zM359.6 405.1h0.8v0.8h-0.8zM361.2 380.0h0.8v0.8h-0.8zM369.0 384.4h0.8v0.8h-0.8zM362.5 403.1h0.8v0.8h-0.8zM358.9 395.2h0.8v0.8h-0.8zM354.0 399.8h0.8v0.8h-0.8zM359.8 403.1h0.8v0.8h-0.8zM367.1 390.5h0.8v0.8h-0.8zM356.5 401.0h0.8v0.8h-0.8zM356.6 405.4h0.8v0.8h-0.8zM359.9 403.0h0.8v0.8h-0.8zM356.7 388.5h0.8v0.8h-0.8zM361.9 397.7h0.8v0.8h-0.8zM352.1 407.4h0.8v0.8h-0.8zM357.8 394.7h0.8v0.8h-0.8zM358.7 404.3h0.8v0.8h-0.8zM359.9 407.2h0.8v0.8h-0.8zM369.4 398.2h0.8v0.8h-0.8zM361.0 405.6h0.8v0.8h-0.8zM358.5 387.7h0.8v0.8h-0.8zM360.7 406.5h0.8v0.8h-0.8zM357.7 390.5h0.8v0.8h-0.8zM358.0 380.3h0.8v0.8h-0.8zM354.4 407.7h0.8v0.8h-0.8zM359.4 390.4h0.8v0.8h-0.8zM353.6 400.9h0.8v0.8h-0.8zM360.3 398.2h0.8v0.8h-0.8zM357.7 402.4h0.8v0.8h-0.8zM361.5 397.7h0.8v0.8h-0.8zM358.3 391.9h0.8v0.8h-0.8zM356.8 386.8h0.8v0.8h-0.8zM354.2 395.3h0.8v0.8h-0.8zM365.5 393.3h0.8v0.8h-0.8zM352.9 373.4h0.8v0.8h-0.8zM362.5 398.7h0.8v0.8h-0.8zM354.2 379.3h0.8v0.8h-0.8zM357.3 391.0h0.8v0.8h-0.8zM358.4 398.8h0.8v0.8h-0.8zM353.6 400.0h0.8v0.8h-0.8zM360.2 387.0h0.8v0.8h-0.8zM353.6 402.5h0.8v0.8h-0.8zM357.9 402.7h0.8v0.8h-0.8zM361.5 398.6h0.8v0.8h-0.8zM353.1 397.7h0.8v0.8h-0.8zM364.0 399.4h0.8v0.8h-0.8zM354.8 387.3h0.8v0.8h-0.8zM364.0 400.3h0.8v0.8h-0.8zM364.5 407.7h0.8v0.8h-0.8zM350.8 404.6h0.8v0.8h-0.8zM359.4 394.5h0.8v0.8h-0.8zM358.4 394.6h0.8v0.8h-0.8zM360.2 389.5h0.8v0.8h-0.8zM359.0 396.6h0.8v0.8h-0.8zM355.8 405.9h0.8v0.8h-0.8zM355.8 379.3h0.8v0.8h-0.8zM354.5 407.1h0.8v0.8h-0.8zM364.8 379.9h0.8v0.8h-0.8zM361.7 391.0h0.8v0.8h-0.8zM354.9 402.7h0.8v0.8h-0.8zM360.7 399.5h0.8v0.8h-0.8zM356.0 399.1h0.8v0.8h-0.8zM363.4 384.3h0.8v0.8h-0.8zM360.0 394.5h0.8v0.8h-0.8zM359.0 406.5h0.8v0.8h-0.8zM361.3 395.6h0.8v0.8h-0.8zM357.7 405.0h0.8v0.8h-0.8zM355.6 385.8h0.8v0.8h-0.8zM358.2 406.8h0.8v0.8h-0.8zM353.2 374.1h0.8v0.8h-0.8zM359.3 381.9h0.8v0.8h-0.8zM358.0 404.0h0.8v0.8h-0.8zM360.2 381.6h0.8v0.8h-0.8zM359.5 393.6h0.8v0.8h-0.8zM371.7 373.8h0.8v0.8h-0.8zM362.8 405.7h0.8v0.8h-0.8zM359.4 395.3h0.8v0.8h-0.8zM358.1 381.1h0.8v0.8h-0.8zM359.5 383.5h0.8v0.8h-0.8zM358.9 390.9h0.8v0.8h-0.8zM355.5 399.7h0.8v0.8h-0.8zM348.0 390.4h0.8v0.8h-0.8zM359.2 398.4h0.8v0.8h-0.8zM363.8 395.3h0.8v0.8h-0.8zM353.0 405.8h0.8v0.8h-0.8zM362.8 382.0h0.8v0.8h-0.8zM353.5 395.2h0.8v0.8h-0.8zM351.4 379.1h0.8v0.8h-0.8zM358.0 407.6h0.8v0.8h-0.8zM359.2 406.0h0.8v0.8h-0.8zM360.2 403.5h0.8v0.8h-0.8zM350.8 400.5h0.8v0.8h-0.8zM362.1 395.8h0.8v0.8h-0.8zM357.3 384.6h0.8v0.8h-0.8zM362.2 393.4h0.8v0.8h-0.8zM360.7 390.0h0.8v0.8h-0.8zM354.3 402.6h0.8v0.8h-0.8zM345.3 375.6h0.8v0.8h-0.8zM351.5 392.1h0.8v0.8h-0.8zM359.7 396.5h0.8v0.8h-0.8zM353.8 406.0h0.8v0.8h-0.8zM354.4 383.1h0.8v0.8h-0.8zM358.0 400.6h0.8v0.8h-0.8zM362.9 376.2h0.8v0.8h-0.8zM363.9 394.1h0.8v0.8h-0.8zM356.6 381.5h0.8v0.8h-0.8zM349.6 381.5h0.8v0.8h-0.8zM359.8 387.6h0.8v0.8h-0.8zM362.4 401.4h0.8v0.8h-0.8zM352.2 370.8h0.8v0.8h-0.8zM358.1 402.6h0.8v0.8h-0.8zM362.3 386.5h0.8v0.8h-0.8zM354.7 400.7h0.8v0.8h-0.8zM358.6 375.5h0.8v0.8h-0.8zM354.4 368.4h0.8v0.8h-0.8zM358.1 404.5h0.8v0.8h-0.8zM353.3 401.6h0.8v0.8h-0.8zM350.6 376.1h0.8v0.8h-0.8zM345.9 392.2h0.8v0.8h-0.8zM355.4 390.2h0.8v0.8h-0.8zM352.3 397.4h0.8v0.8h-0.8zM354.7 393.9h0.8v0.8h-0.8zM357.0 406.4h0.8v0.8h-0.8zM339.8 411.8h0.8v0.8h-0.8zM346.8 414.7h0.8v0.8h-0.8zM342.7 412.4h0.8v0.8h-0.8zM349.3 415.2h0.8v0.8h-0.8zM346.0 413.4h0.8v0.8h-0.8zM349.1 418.0h0.8v0.8h-0.8zM341.6 415.4h0.8v0.8h-0.8zM338.5 416.1h0.8v0.8h-0.8zM342.4 416.1h0.8v0.8h-0.8zM338.4 418.0h0.8v0.8h-0.8zM338.6 413.3h0.8v0.8h-0.8zM349.5 415.4h0.8v0.8h-0.8zM344.5 415.3h0.8v0.8h-0.8zM346.4 411.0h0.8v0.8h-0.8zM346.2 414.9h0.8v0.8h-0.8zM344.3 416.6h0.8v0.8h-0.8zM345.8 413.5h0.8v0.8h-0.8zM337.5 417.9h0.8v0.8h-0.8zM349.3 415.8h0.8v0.8h-0.8zM337.6 411.9h0.8v0.8h-0.8zM342.5 412.9h0.8v0.8h-0.8zM348.7 414.3h0.8v0.8h-0.8zM348.1 414.5h0.8v0.8h-0.8zM346.0 412.7h0.8v0.8h-0.8zM343.0 414.7h0.8v0.8h-0.8zM346.0 410.7h0.8v0.8h-0.8zM344.4 417.2h0.8v0.8h-0.8zM340.0 416.5h0.8v0.8h-0.8zM346.2 412.9h0.8v0.8h-0.8zM348.3 416.6h0.8v0.8h-0.8zM343.2 414.7h0.8v0.8h-0.8zM348.8 416.0h0.8v0.8h-0.8zM342.7 414.5h0.8v0.8h-0.8zM334.1 416.7h0.8v0.8h-0.8zM344.2 413.6h0.8v0.8h-0.8zM346.1 414.1h0.8v0.8h-0.8zM335.0 420.2h0.8v0.8h-0.8zM349.2 417.0h0.8v0.8h-0.8zM346.8 413.8h0.8v0.8h-0.8zM346.7 415.5h0.8v0.8h-0.8zM349.4 412.6h0.8v0.8h-0.8z" fill="#000" fill-opacity="0.3"/>
<path d="M344.0 414.7h0.8v0.8h-0.8zM334.5 410.3h0.8v0.8h-0.8zM338.8 413.5h0.8v0.8h-0.8zM340.3 414.8h0.8v0.8h-0.8zM340.1 413.9h0.8v0.8h-0.8zM343.4 416.1h0.8v0.8h-0.8zM337.6 413.6h0.8v0.8h-0.8zM345.6 415.2h0.8v0.8h-0.8zM343.3 414.3h0.8v0.8h-0.8zM339.1 414.8h0.8v0.8h-0.8zM342.1 415.1h0.8v0.8h-0.8zM347.2 411.6h0.8v0.8h-0.8zM335.3 415.8h0.8v0.8h-0.8zM338.5 414.2h0.8v0.8h-0.8zM341.8 412.1h0.8v0.8h-0.8zM342.8 413.2h0.8v0.8h-0.8zM342.6 412.1h0.8v0.8h-0.8zM341.4 418.2h0.8v0.8h-0.8zM339.1 415.7h0.8v0.8h-0.8zM349.9 413.1h0.8v0.8h-0.8zM339.0 416.9h0.8v0.8h-0.8zM341.2 416.0h0.8v0.8h-0.8zM339.1 415.6h0.8v0.8h-0.8zM340.6 411.3h0.8v0.8h-0.8zM339.5 414.8h0.8v0.8h-0.8zM339.7 414.5h0.8v0.8h-0.8zM340.1 413.6h0.8v0.8h-0.8zM346.1 412.7h0.8v0.8h-0.8zM339.5 414.5h0.8v0.8h-0.8zM338.1 411.1h0.8v0.8h-0.8zM335.9 416.1h0.8v0.8h-0.8zM342.0 415.5h0.8v0.8h-0.8zM337.3 414.8h0.8v0.8h-0.8zM341.5 413.7h0.8v0.8h-0.8zM344.4 412.9h0.8v0.8h-0.8zM346.9 413.5h0.8v0.8h-0.8zM338.6 416.0h0.8v0.8h-0.8zM345.3 414.8h0.8v0.8h-0.8zM335.3 412.3h0.8v0.8h-0.8zM338.6 415.0h0.8v0.8h-0.8zM337.4 411.8h0.8v0.8h-0.8zM340.2 416.0h0.8v0.8h-0.8zM336.3 412.8h0.8v0.8h-0.8zM338.4 413.6h0.8v0.8h-0.8zM348.3 415.4h0.8v0.8h-0.8zM345.0 413.4h0.8v0.8h-0.8zM339.9 413.0h0.8v0.8h-0.8zM338.5 415.7h0.8v0.8h-0.8zM349.5 412.1h0.8v0.8h-0.8zM345.6 415.3h0.8v0.8h-0.8zM336.5 416.4h0.8v0.8h-0.8zM338.3 416.6h0.8v0.8h-0.8zM340.2 413.4h0.8v0.8h-0.8zM345.9 414.2h0.8v0.8h-0.8zM337.0 408.4h0.8v0.8h-0.8zM336.0 414.6h0.8v0.8h-0.8zM334.6 414.6h0.8v0.8h-0.8zM343.4 415.8h0.8v0.8h-0.8zM335.0 414.2h0.8v0.8h-0.8zM343.8 415.1h0.8v0.8h-0.8zM340.7 414.5h0.8v0.8h-0.8zM334.0 409.8h0.8v0.8h-0.8zM335.6 412.7h0.8v0.8h-0.8zM350.0 414.7h0.8v0.8h-0.8zM338.1 413.6h0.8v0.8h-0.8zM338.0 413.1h0.8v0.8h-0.8zM346.0 412.0h0.8v0.8h-0.8zM344.0 415.9h0.8v0.8h-0.8zM340.2 410.5h0.8v0.8h-0.8zM341.9 416.2h0.8v0.8h-0.8zM360.9 381.5h0.8v0.8h-0.8zM363.2 392.2h0.8v0.8h-0.8zM355.9 381.2h0.8v0.8h-0.8zM356.2 398.6h0.8v0.8h-0.8zM350.9 393.0h0.8v0.8h-0.8zM358.8 401.5h0.8v0.8h-0.8zM357.8 390.4h0.8v0.8h-0.8zM355.4 405.5h0.8v0.8h-0.8zM363.5 386.5h0.8v0.8h-0.8zM354.0 400.2h0.8v0.8h-0.8zM354.1 392.3h0.8v0.8h-0.8zM353.8 382.0h0.8v0.8h-0.8zM355.6 401.5h0.8v0.8h-0.8zM357.8 405.7h0.8v0.8h-0.8zM354.3 406.9h0.8v0.8h-0.8zM362.2 395.2h0.8v0.8h-0.8zM365.0 401.5h0.8v0.8h-0.8zM359.6 396.0h0.8v0.8h-0.8zM358.5 387.1h0.8v0.8h-0.8zM359.5 392.8h0.8v0.8h-0.8zM355.0 406.2h0.8v0.8h-0.8zM356.5 390.1h0.8v0.8h-0.8zM354.9 407.3h0.8v0.8h-0.8zM358.1 394.1h0.8v0.8h-0.8zM360.0 399.1h0.8v0.8h-0.8zM361.8 394.6h0.8v0.8h-0.8zM353.8 392.6h0.8v0.8h-0.8zM354.4 398.4h0.8v0.8h-0.8zM354.2 385.1h0.8v0.8h-0.8zM363.5 386.9h0.8v0.8h-0.8zM358.7 402.4h0.8v0.8h-0.8zM348.5 392.3h0.8v0.8h-0.8zM355.1 404.6h0.8v0.8h-0.8zM362.5 391.0h0.8v0.8h-0.8zM354.9 383.8h0.8v0.8h-0.8zM350.5 380.6h0.8v0.8h-0.8zM355.1 385.3h0.8v0.8h-0.8zM350.5 389.4h0.8v0.8h-0.8zM355.9 395.4h0.8v0.8h-0.8zM356.8 394.3h0.8v0.8h-0.8zM360.0 399.7h0.8v0.8h-0.8zM351.4 370.1h0.8v0.8h-0.8zM354.1 400.4h0.8v0.8h-0.8zM362.5 406.5h0.8v0.8h-0.8zM363.9 394.2h0.8v0.8h-0.8zM353.2 387.5h0.8v0.8h-0.8zM356.4 400.9h0.8v0.8h-0.8zM358.4 405.4h0.8v0.8h-0.8zM358.8 407.1h0.8v0.8h-0.8zM353.7 393.4h0.8v0.8h-0.8zM353.5 381.1h0.8v0.8h-0.8zM360.2 393.2h0.8v0.8h-0.8zM356.9 396.2h0.8v0.8h-0.8zM355.8 374.9h0.8v0.8h-0.8zM354.6 403.1h0.8v0.8h-0.8zM358.3 390.3h0.8v0.8h-0.8zM353.9 396.9h0.8v0.8h-0.8zM348.1 394.1h0.8v0.8h-0.8zM358.0 403.7h0.8v0.8h-0.8zM355.4 387.8h0.8v0.8h-0.8zM360.0 406.4h0.8v0.8h-0.8zM356.2 395.1h0.8v0.8h-0.8zM359.6 406.4h0.8v0.8h-0.8zM354.5 396.1h0.8v0.8h-0.8zM351.6 385.6h0.8v0.8h-0.8zM346.9 399.4h0.8v0.8h-0.8zM355.5 382.3h0.8v0.8h-0.8zM357.4 383.4h0.8v0.8h-0.8zM360.2 384.7h0.8v0.8h-0.8zM356.3 407.4h0.8v0.8h-0.8zM361.6 405.0h0.8v0.8h-0.8zM356.8 386.6h0.8v0.8h-0.8zM356.0 381.1h0.8v0.8h-0.8zM354.7 387.5h0.8v0.8h-0.8zM358.1 398.0h0.8v0.8h-0.8zM355.5 397.4h0.8v0.8h-0.8zM357.4 397.0h0.8v0.8h-0.8zM353.8 392.8h0.8v0.8h-0.8zM357.6 404.8h0.8v0.8h-0.8zM358.9 405.0h0.8v0.8h-0.8zM357.3 387.1h0.8v0.8h-0.8zM361.2 376.5h0.8v0.8h-0.8zM348.4 396.1h0.8v0.8h-0.8zM361.9 397.5h0.8v0.8h-0.8zM354.0 404.9h0.8v0.8h-0.8zM355.9 407.4h0.8v0.8h-0.8zM361.3 401.6h0.8v0.8h-0.8zM359.6 395.2h0.8v0.8h-0.8zM356.9 387.7h0.8v0.8h-0.8zM368.7 378.1h0.8v0.8h-0.8zM360.7 403.3h0.8v0.8h-0.8zM354.8 405.3h0.8v0.8h-0.8zM355.9 387.8h0.8v0.8h-0.8zM352.5 395.4h0.8v0.8h-0.8zM359.8 387.8h0.8v0.8h-0.8zM363.7 405.2h0.8v0.8h-0.8zM358.5 406.6h0.8v0.8h-0.8zM352.3 400.4h0.8v0.8h-0.8zM358.6 392.2h0.8v0.8h-0.8zM353.6 392.6h0.8v0.8h-0.8zM363.8 387.3h0.8v0.8h-0.8zM355.4 402.9h0.8v0.8h-0.8zM365.3 396.2h0.8v0.8h-0.8zM354.0 396.9h0.8v0.8h-0.8zM360.6 395.0h0.8v0.8h-0.8zM357.3 391.4h0.8v0.8h-0.8zM353.2 402.6h0.8v0.8h-0.8zM356.1 386.5h0.8v0.8h-0.8zM360.4 380.9h0.8v0.8h-0.8zM352.6 386.4h0.8v0.8h-0.8zM364.6 395.6h0.8v0.8h-0.8zM358.2 402.0h0.8v0.8h-0.8zM354.0 383.8h0.8v0.8h-0.8zM360.6 376.8h0.8v0.8h-0.8zM358.1 404.6h0.8v0.8h-0.8zM360.6 400.9h0.8v0.8h-0.8zM358.2 393.0h0.8v0.8h-0.8zM353.3 399.0h0.8v0.8h-0.8zM362.8 382.3h0.8v0.8h-0.8zM356.4 379.0h0.8v0.8h-0.8zM360.4 402.1h0.8v0.8h-0.8zM360.4 396.6h0.8v0.8h-0.8zM354.0 391.5h0.8v0.8h-0.8zM355.3 407.4h0.8v0.8h-0.8zM355.0 404.2h0.8v0.8h-0.8zM350.7 394.0h0.8v0.8h-0.8zM354.2 406.4h0.8v0.8h-0.8zM362.0 407.3h0.8v0.8h-0.8zM355.7 398.6h0.8v0.8h-0.8zM359.6 380.1h0.8v0.8h-0.8zM356.5 402.5h0.8v0.8h-0.8zM353.0 385.2h0.8v0.8h-0.8zM355.6 400.7h0.8v0.8h-0.8zM351.7 405.2h0.8v0.8h-0.8zM356.6 403.0h0.8v0.8h-0.8zM357.0 407.0h0.8v0.8h-0.8zM357.6 380.3h0.8v0.8h-0.8zM358.3 405.7h0.8v0.8h-0.8zM364.5 395.5h0.8v0.8h-0.8zM360.1 400.6h0.8v0.8h-0.8zM358.8 394.9h0.8v0.8h-0.8zM360.4 391.3h0.8v0.8h-0.8zM361.5 401.0h0.8v0.8h-0.8zM355.4 386.8h0.8v0.8h-0.8zM362.1 384.8h0.8v0.8h-0.8zM356.9 395.8h0.8v0.8h-0.8zM357.2 387.8h0.8v0.8h-0.8zM358.6 407.2h0.8v0.8h-0.8zM352.1 404.7h0.8v0.8h-0.8zM362.1 395.2h0.8v0.8h-0.8zM363.7 391.9h0.8v0.8h-0.8zM359.4 401.2h0.8v0.8h-0.8zM358.1 396.9h0.8v0.8h-0.8zM357.2 407.4h0.8v0.8h-0.8zM348.3 382.2h0.8v0.8h-0.8zM354.8 398.2h0.8v0.8h-0.8zM352.1 378.6h0.8v0.8h-0.8zM352.1 381.0h0.8v0.8h-0.8zM361.6 382.7h0.8v0.8h-0.8zM363.4 386.5h0.8v0.8h-0.8zM353.4 404.2h0.8v0.8h-0.8zM352.7 394.3h0.8v0.8h-0.8zM356.2 384.4h0.8v0.8h-0.8zM354.6 399.5h0.8v0.8h-0.8zM361.6 392.0h0.8v0.8h-0.8zM357.5 398.0h0.8v0.8h-0.8zM358.1 390.3h0.8v0.8h-0.8zM353.9 387.4h0.8v0.8h-0.8zM359.0 399.0h0.8v0.8h-0.8zM359.5 407.4h0.8v0.8h-0.8zM359.4 399.3h0.8v0.8h-0.8zM365.8 390.7h0.8v0.8h-0.8zM359.8 389.1h0.8v0.8h-0.8zM353.9 398.5h0.8v0.8h-0.8zM366.4 396.3h0.8v0.8h-0.8zM344.3 386.4h0.8v0.8h-0.8zM364.9 376.5h0.8v0.8h-0.8zM353.0 394.1h0.8v0.8h-0.8zM357.8 399.1h0.8v0.8h-0.8zM356.7 406.6h0.8v0.8h-0.8zM363.6 406.8h0.8v0.8h-0.8zM361.5 394.5h0.8v0.8h-0.8zM355.7 400.9h0.8v0.8h-0.8zM360.0 397.1h0.8v0.8h-0.8zM355.2 388.1h0.8v0.8h-0.8zM360.9 406.0h0.8v0.8h-0.8zM351.0 376.8h0.8v0.8h-0.8zM359.1 402.4h0.8v0.8h-0.8zM366.1 394.6h0.8v0.8h-0.8zM362.7 407.1h0.8v0.8h-0.8zM358.4 402.2h0.8v0.8h-0.8zM359.4 389.4h0.8v0.8h-0.8zM360.9 389.2h0.8v0.8h-0.8zM351.0 383.0h0.8v0.8h-0.8zM357.0 390.0h0.8v0.8h-0.8zM355.8 400.8h0.8v0.8h-0.8zM358.3 406.6h0.8v0.8h-0.8zM358.2 407.5h0.8v0.8h-0.8zM364.3 402.4h0.8v0.8h-0.8zM356.8 407.8h0.8v0.8h-0.8zM364.0 403.9h0.8v0.8h-0.8zM359.5 385.5h0.8v0.8h-0.8zM363.5 382.6h0.8v0.8h-0.8zM357.3 392.4h0.8v0.8h-0.8zM363.9 401.6h0.8v0.8h-0.8zM362.6 388.3h0.8v0.8h-0.8zM355.3 396.2h0.8v0.8h-0.8zM356.5 383.8h0.8v0.8h-0.8zM356.1 394.7h0.8v0.8h-0.8zM359.6 390.7h0.8v0.8h-0.8zM360.4 400.5h0.8v0.8h-0.8zM358.1 390.6h0.8v0.8h-0.8zM356.9 396.2h0.8v0.8h-0.8zM358.8 407.9h0.8v0.8h-0.8zM363.6 398.3h0.8v0.8h-0.8zM357.8 406.8h0.8v0.8h-0.8zM365.4 381.6h0.8v0.8h-0.8zM355.5 380.4h0.8v0.8h-0.8zM356.1 406.0h0.8v0.8h-0.8zM361.9 394.0h0.8v0.8h-0.8zM352.0 400.9h0.8v0.8h-0.8zM355.9 388.1h0.8v0.8h-0.8zM355.3 396.1h0.8v0.8h-0.8zM357.5 390.0h0.8v0.8h-0.8zM365.0 388.3h0.8v0.8h-0.8zM345.4 374.5h0.8v0.8h-0.8zM361.4 391.4h0.8v0.8h-0.8zM356.6 397.2h0.8v0.8h-0.8zM356.2 402.3h0.8v0.8h-0.8zM352.8 389.1h0.8v0.8h-0.8zM360.9 404.4h0.8v0.8h-0.8zM353.3 392.9h0.8v0.8h-0.8zM359.9 390.7h0.8v0.8h-0.8zM359.5 405.0h0.8v0.8h-0.8zM352.5 397.6h0.8v0.8h-0.8zM352.7 393.8h0.8v0.8h-0.8zM361.5 375.3h0.8v0.8h-0.8zM360.1 406.1h0.8v0.8h-0.8zM357.2 391.6h0.8v0.8h-0.8zM360.3 391.7h0.8v0.8h-0.8zM359.4 399.5h0.8v0.8h-0.8zM362.1 393.2h0.8v0.8h-0.8zM357.3 400.0h0.8v0.8h-0.8zM349.5 405.0h0.8v0.8h-0.8zM360.7 377.3h0.8v0.8h-0.8zM351.9 383.4h0.8v0.8h-0.8zM362.6 397.5h0.8v0.8h-0.8zM353.6 390.9h0.8v0.8h-0.8zM362.5 395.9h0.8v0.8h-0.8zM354.6 401.2h0.8v0.8h-0.8zM364.3 401.5h0.8v0.8h-0.8zM355.9 403.1h0.8v0.8h-0.8zM359.4 388.9h0.8v0.8h-0.8zM360.2 386.4h0.8v0.8h-0.8zM351.2 400.6h0.8v0.8h-0.8zM354.8 383.7h0.8v0.8h-0.8zM358.1 404.2h0.8v0.8h-0.8zM358.0 386.5h0.8v0.8h-0.8zM353.2 391.6h0.8v0.8h-0.8zM355.5 381.7h0.8v0.8h-0.8zM353.1 402.7h0.8v0.8h-0.8zM355.0 376.2h0.8v0.8h-0.8zM362.5 404.9h0.8v0.8h-0.8zM359.8 403.1h0.8v0.8h-0.8zM355.4 398.9h0.8v0.8h-0.8zM345.5 376.4h0.8v0.8h-0.8zM348.6 399.8h0.8v0.8h-0.8zM360.4 405.4h0.8v0.8h-0.8zM357.9 404.8h0.8v0.8h-0.8zM366.1 385.9h0.8v0.8h-0.8zM358.9 407.9h0.8v0.8h-0.8zM362.6 392.1h0.8v0.8h-0.8zM356.4 399.4h0.8v0.8h-0.8zM357.2 402.2h0.8v0.8h-0.8zM356.5 386.3h0.8v0.8h-0.8zM356.8 402.0h0.8v0.8h-0.8zM361.8 389.7h0.8v0.8h-0.8zM358.4 382.7h0.8v0.8h-0.8zM359.5 388.9h0.8v0.8h-0.8zM353.7 399.6h0.8v0.8h-0.8zM360.8 389.2h0.8v0.8h-0.8zM355.7 406.4h0.8v0.8h-0.8zM363.5 387.7h0.8v0.8h-0.8zM356.7 399.6h0.8v0.8h-0.8zM361.2 405.9h0.8v0.8h-0.8zM356.9 407.8h0.8v0.8h-0.8zM360.6 393.3h0.8v0.8h-0.8zM356.9 375.7h0.8v0.8h-0.8zM353.6 406.8h0.8v0.8h-0.8zM356.5 389.4h0.8v0.8h-0.8zM356.5 394.1h0.8v0.8h-0.8zM360.5 405.6h0.8v0.8h-0.8zM357.2 398.1h0.8v0.8h-0.8zM354.7 404.3h0.8v0.8h-0.8zM360.2 381.5h0.8v0.8h-0.8zM354.4 393.3h0.8v0.8h-0.8zM360.0 400.3h0.8v0.8h-0.8zM358.5 400.6h0.8v0.8h-0.8zM363.6 386.7h0.8v0.8h-0.8zM357.4 406.0h0.8v0.8h-0.8zM351.9 392.4h0.8v0.8h-0.8zM352.1 383.1h0.8v0.8h-0.8zM351.2 407.8h0.8v0.8h-0.8zM346.3 387.4h0.8v0.8h-0.8zM357.7 395.8h0.8v0.8h-0.8zM359.5 384.1h0.8v0.8h-0.8zM357.7 387.9h0.8v0.8h-0.8zM355.2 396.5h0.8v0.8h-0.8zM361.6 397.3h0.8v0.8h-0.8zM358.1 406.2h0.8v0.8h-0.8zM355.2 406.0h0.8v0.8h-0.8zM353.9 387.3h0.8v0.8h-0.8zM363.7 404.5h0.8v0.8h-0.8zM353.1 396.6h0.8v0.8h-0.8zM355.2 405.7h0.8v0.8h-0.8zM358.8 391.1h0.8v0.8h-0.8zM362.4 405.7h0.8v0.8h-0.8zM370.3 398.4h0.8v0.8h-0.8zM356.4 394.4h0.8v0.8h-0.8zM350.4 385.2h0.8v0.8h-0.8zM356.9 389.3h0.8v0.8h-0.8zM354.2 399.3h0.8v0.8h-0.8zM355.5 391.9h0.8v0.8h-0.8zM365.1 395.6h0.8v0.8h-0.8zM350.4 401.7h0.8v0.8h-0.8zM361.1 397.7h0.8v0.8h-0.8zM354.4 399.9h0.8v0.8h-0.8zM362.3 402.7h0.8v0.8h-0.8zM362.0 390.7h0.8v0.8h-0.8zM356.7 405.9h0.8v0.8h-0.8zM354.2 381.3h0.8v0.8h-0.8zM370.3 392.6h0.8v0.8h-0.8zM358.9 406.8h0.8v0.8h-0.8zM357.2 383.2h0.8v0.8h-0.8zM354.9 397.9h0.8v0.8h-0.8zM363.2 396.1h0.8v0.8h-0.8zM356.7 386.2h0.8v0.8h-0.8zM359.3 402.1h0.8v0.8h-0.8zM354.0 400.2h0.8v0.8h-0.8zM354.9 389.9h0.8v0.8h-0.8zM362.0 402.7h0.8v0.8h-0.8zM356.9 396.9h0.8v0.8h-0.8zM354.9 390.0h0.8v0.8h-0.8zM357.0 398.6h0.8v0.8h-0.8zM357.0 405.1h0.8v0.8h-0.8zM361.1 405.7h0.8v0.8h-0.8zM360.5 395.4h0.8v0.8h-0.8zM354.5 384.4h0.8v0.8h-0.8zM360.9 392.9h0.8v0.8h-0.8zM362.0 399.5h0.8v0.8h-0.8zM354.3 390.9h0.8v0.8h-0.8zM356.2 394.4h0.8v0.8h-0.8zM355.0 383.3h0.8v0.8h-0.8zM363.1 383.5h0.8v0.8h-0.8zM360.6 388.1h0.8v0.8h-0.8zM350.1 390.0h0.8v0.8h-0.8zM353.8 384.3h0.8v0.8h-0.8zM362.2 400.6h0.8v0.8h-0.8zM361.7 399.3h0.8v0.8h-0.8zM360.0 386.7h0.8v0.8h-0.8zM348.0 395.8h0.8v0.8h-0.8zM357.1 403.6h0.8v0.8h-0.8zM350.4 381.9h0.8v0.8h-0.8zM360.3 399.0h0.8v0.8h-0.8zM354.6 384.9h0.8v0.8h-0.8zM356.2 407.9h0.8v0.8h-0.8zM361.3 400.4h0.8v0.8h-0.8zM362.0 405.2h0.8v0.8h-0.8zM351.9 390.7h0.8v0.8h-0.8zM361.5 406.4h0.8v0.8h-0.8zM356.6 401.3h0.8v0.8h-0.8zM360.0 394.4h0.8v0.8h-0.8zM361.7 403.9h0.8v0.8h-0.8zM360.9 404.3h0.8v0.8h-0.8zM350.5 393.4h0.8v0.8h-0.8zM364.6 404.1h0.8v0.8h-0.8zM366.1 382.2h0.8v0.8h-0.8zM358.0 387.3h0.8v0.8h-0.8zM355.3 394.6h0.8v0.8h-0.8zM353.3 405.9h0.8v0.8h-0.8zM363.9 392.9h0.8v0.8h-0.8zM359.1 397.8h0.8v0.8h-0.8zM353.9 399.2h0.8v0.8h-0.8zM356.0 407.8h0.8v0.8h-0.8zM360.7 390.3h0.8v0.8h-0.8zM357.1 393.3h0.8v0.8h-0.8zM355.4 403.0h0.8v0.8h-0.8zM364.7 389.3h0.8v0.8h-0.8zM357.6 399.4h0.8v0.8h-0.8zM356.9 387.0h0.8v0.8h-0.8zM363.0 407.8h0.8v0.8h-0.8zM357.1 408.1h0.8v0.8h-0.8zM355.4 399.3h0.8v0.8h-0.8zM354.6 392.9h0.8v0.8h-0.8zM356.8 378.7h0.8v0.8h-0.8zM349.8 391.7h0.8v0.8h-0.8zM366.6 380.4h0.8v0.8h-0.8zM363.8 395.2h0.8v0.8h-0.8zM357.2 375.3h0.8v0.8h-0.8zM357.5 406.8h0.8v0.8h-0.8zM356.7 390.9h0.8v0.8h-0.8zM360.9 394.5h0.8v0.8h-0.8zM354.6 399.3h0.8v0.8h-0.8zM352.3 393.8h0.8v0.8h-0.8zM356.0 402.3h0.8v0.8h-0.8zM360.5 394.8h0.8v0.8h-0.8zM356.5 406.7h0.8v0.8h-0.8zM366.3 406.7h0.8v0.8h-0.8zM349.6 393.5h0.8v0.8h-0.8zM352.7 402.3h0.8v0.8h-0.8zM356.3 400.8h0.8v0.8h-0.8zM357.5 384.6h0.8v0.8h-0.8zM357.8 395.2h0.8v0.8h-0.8zM355.3 396.1h0.8v0.8h-0.8zM358.9 383.3h0.8v0.8h-0.8zM360.5 389.6h0.8v0.8h-0.8zM360.1 391.6h0.8v0.8h-0.8zM364.0 385.0h0.8v0.8h-0.8zM360.6 393.7h0.8v0.8h-0.8zM360.6 379.8h0.8v0.8h-0.8zM359.0 402.8h0.8v0.8h-0.8zM348.3 397.5h0.8v0.8h-0.8zM357.7 397.9h0.8v0.8h-0.8zM349.0 388.0h0.8v0.8h-0.8zM354.2 404.7h0.8v0.8h-0.8zM356.2 390.9h0.8v0.8h-0.8zM360.4 377.6h0.8v0.8h-0.8zM368.1 390.7h0.8v0.8h-0.8zM351.9 397.9h0.8v0.8h-0.8zM360.3 398.9h0.8v0.8h-0.8zM354.2 394.6h0.8v0.8h-0.8zM363.0 407.4h0.8v0.8h-0.8zM365.1 386.7h0.8v0.8h-0.8zM359.5 389.4h0.8v0.8h-0.8zM352.5 386.1h0.8v0.8h-0.8zM364.8 401.9h0.8v0.8h-0.8zM357.1 392.3h0.8v0.8h-0.8zM352.6 403.2h0.8v0.8h-0.8zM364.9 390.5h0.8v0.8h-0.8zM361.9 405.1h0.8v0.8h-0.8zM355.1 378.4h0.8v0.8h-0.8zM359.6 402.8h0.8v0.8h-0.8zM351.6 387.2h0.8v0.8h-0.8zM351.5 396.1h0.8v0.8h-0.8zM352.4 393.7h0.8v0.8h-0.8zM357.4 382.7h0.8v0.8h-0.8zM360.2 401.1h0.8v0.8h-0.8zM362.0 404.3h0.8v0.8h-0.8zM359.3 378.9h0.8v0.8h-0.8zM354.7 380.2h0.8v0.8h-0.8zM364.8 395.6h0.8v0.8h-0.8zM363.7 387.9h0.8v0.8h-0.8zM361.6 400.6h0.8v0.8h-0.8zM355.7 401.0h0.8v0.8h-0.8zM358.5 404.7h0.8v0.8h-0.8zM360.9 393.6h0.8v0.8h-0.8zM357.7 381.4h0.8v0.8h-0.8zM358.3 403.9h0.8v0.8h-0.8zM357.6 399.6h0.8v0.8h-0.8zM355.0 405.9h0.8v0.8h-0.8zM362.0 380.5h0.8v0.8h-0.8zM354.8 401.2h0.8v0.8h-0.8zM360.5 388.3h0.8v0.8h-0.8zM352.0 405.9h0.8v0.8h-0.8zM353.8 383.3h0.8v0.8h-0.8zM360.6 386.2h0.8v0.8h-0.8zM357.2 402.9h0.8v0.8h-0.8zM362.2 388.0h0.8v0.8h-0.8zM362.2 387.5h0.8v0.8h-0.8zM357.5 398.8h0.8v0.8h-0.8zM358.6 403.0h0.8v0.8h-0.8zM358.3 402.8h0.8v0.8h-0.8zM358.5 400.3h0.8v0.8h-0.8zM355.2 394.6h0.8v0.8h-0.8zM359.9 384.4h0.8v0.8h-0.8zM352.4 394.3h0.8v0.8h-0.8zM355.3 387.7h0.8v0.8h-0.8zM360.8 407.6h0.8v0.8h-0.8zM349.0 404.0h0.8v0.8h-0.8zM364.4 388.3h0.8v0.8h-0.8zM355.9 385.3h0.8v0.8h-0.8zM363.4 406.2h0.8v0.8h-0.8zM355.3 396.4h0.8v0.8h-0.8zM363.8 400.8h0.8v0.8h-0.8zM356.4 394.0h0.8v0.8h-0.8zM358.5 401.6h0.8v0.8h-0.8zM356.2 393.4h0.8v0.8h-0.8zM348.7 396.0h0.8v0.8h-0.8zM360.5 406.0h0.8v0.8h-0.8zM359.1 382.3h0.8v0.8h-0.8zM349.3 393.8h0.8v0.8h-0.8zM364.2 393.7h0.8v0.8h-0.8zM357.6 394.7h0.8v0.8h-0.8zM353.3 381.4h0.8v0.8h-0.8zM353.4 403.9h0.8v0.8h-0.8zM362.5 389.7h0.8v0.8h-0.8zM356.9 386.8h0.8v0.8h-0.8zM359.4 402.5h0.8v0.8h-0.8zM361.2 398.4h0.8v0.8h-0.8zM361.3 390.9h0.8v0.8h-0.8zM352.4 402.7h0.8v0.8h-0.8zM355.6 392.4h0.8v0.8h-0.8zM359.5 393.3h0.8v0.8h-0.8zM359.0 389.7h0.8v0.8h-0.8zM354.7 406.3h0.8v0.8h-0.8zM363.4 403.1h0.8v0.8h-0.8zM363.9 384.6h0.8v0.8h-0.8zM365.0 398.7h0.8v0.8h-0.8zM367.2 394.5h0.8v0.8h-0.8zM355.7 406.4h0.8v0.8h-0.8zM357.5 397.3h0.8v0.8h-0.8zM360.7 382.1h0.8v0.8h-0.8zM359.1 394.9h0.8v0.8h-0.8zM356.8 397.5h0.8v0.8h-0.8zM353.3 382.2h0.8v0.8h-0.8zM363.4 385.3h0.8v0.8h-0.8zM357.3 381.5h0.8v0.8h-0.8zM355.8 375.4h0.8v0.8h-0.8zM358.3 381.9h0.8v0.8h-0.8zM361.4 405.8h0.8v0.8h-0.8zM361.2 392.8h0.8v0.8h-0.8zM357.4 395.7h0.8v0.8h-0.8zM351.0 393.3h0.8v0.8h-0.8zM365.7 380.3h0.8v0.8h-0.8zM361.2 399.0h0.8v0.8h-0.8zM358.4 388.7h0.8v0.8h-0.8zM354.3 404.8h0.8v0.8h-0.8zM359.7 392.3h0.8v0.8h-0.8zM354.2 390.9h0.8v0.8h-0.8zM350.7 399.3h0.8v0.8h-0.8zM371.3 375.6h0.8v0.8h-0.8zM358.1 404.7h0.8v0.8h-0.8zM351.5 379.1h0.8v0.8h-0.8zM366.3 391.9h0.8v0.8h-0.8zM357.6 404.8h0.8v0.8h-0.8zM359.9 394.0h0.8v0.8h-0.8zM355.2 404.1h0.8v0.8h-0.8zM368.4 375.0h0.8v0.8h-0.8zM355.3 398.4h0.8v0.8h-0.8zM359.3 407.3h0.8v0.8h-0.8zM364.2 402.3h0.8v0.8h-0.8zM353.9 389.9h0.8v0.8h-0.8zM354.2 382.2h0.8v0.8h-0.8zM352.2 403.3h0.8v0.8h-0.8zM355.4 395.4h0.8v0.8h-0.8zM362.7 402.6h0.8v0.8h-0.8zM350.4 391.1h0.8v0.8h-0.8zM362.1 396.4h0.8v0.8h-0.8zM356.4 393.2h0.8v0.8h-0.8zM363.7 390.5h0.8v0.8h-0.8zM360.4 401.0h0.8v0.8h-0.8zM352.1 396.3h0.8v0.8h-0.8zM364.4 384.4h0.8v0.8h-0.8zM360.3 389.0h0.8v0.8h-0.8zM358.1 390.1h0.8v0.8h-0.8zM359.8 385.9h0.8v0.8h-0.8zM365.5 386.4h0.8v0.8h-0.8zM362.4 403.4h0.8v0.8h-0.8zM338.3 413.7h0.8v0.8h-0.8zM346.0 413.2h0.8v0.8h-0.8zM331.0 416.7h0.8v0.8h-0.8zM342.6 413.4h0.8v0.8h-0.8zM344.8 413.5h0.8v0.8h-0.8zM344.5 415.0h0.8v0.8h-0.8zM345.7 415.4h0.8v0.8h-0.8zM334.8 416.4h0.8v0.8h-0.8zM341.8 413.7h0.8v0.8h-0.8zM346.4 415.5h0.8v0.8h-0.8zM349.1 412.9h0.8v0.8h-0.8zM334.8 414.8h0.8v0.8h-0.8zM344.3 412.5h0.8v0.8h-0.8zM337.5 412.0h0.8v0.8h-0.8zM334.1 412.8h0.8v0.8h-0.8zM347.0 416.9h0.8v0.8h-0.8zM344.9 414.7h0.8v0.8h-0.8zM344.8 416.1h0.8v0.8h-0.8zM347.2 412.5h0.8v0.8h-0.8zM348.2 415.5h0.8v0.8h-0.8zM343.8 414.9h0.8v0.8h-0.8zM339.3 414.2h0.8v0.8h-0.8zM344.0 417.7h0.8v0.8h-0.8zM349.0 415.6h0.8v0.8h-0.8zM346.0 413.4h0.8v0.8h-0.8zM342.1 413.3h0.8v0.8h-0.8zM346.9 412.7h0.8v0.8h-0.8zM338.3 414.7h0.8v0.8h-0.8zM344.7 412.8h0.8v0.8h-0.8zM348.6 413.3h0.8v0.8h-0.8zM347.4 416.9h0.8v0.8h-0.8zM340.6 421.2h0.8v0.8h-0.8zM329.3 415.2h0.8v0.8h-0.8zM349.2 416.8h0.8v0.8h-0.8zM348.6 414.5h0.8v0.8h-0.8zM346.9 416.1h0.8v0.8h-0.8zM345.6 417.5h0.8v0.8h-0.8zM344.4 415.5h0.8v0.8h-0.8zM345.1 418.9h0.8v0.8h-0.8z" fill="#000" fill-opacity="0.4"/>
<path d="M343.6 415.4h0.8v0.8h-0.8zM341.5 414.2h0.8v0.8h-0.8zM342.2 416.9h0.8v0.8h-0.8zM339.3 411.0h0.8v0.8h-0.8zM342.1 410.6h0.8v0.8h-0.8zM338.7 418.1h0.8v0.8h-0.8zM346.4 412.6h0.8v0.8h-0.8zM345.2 412.3h0.8v0.8h-0.8zM344.2 415.6h0.8v0.8h-0.8zM341.5 409.0h0.8v0.8h-0.8zM341.0 411.5h0.8v0.8h-0.8zM340.8 416.9h0.8v0.8h-0.8zM343.9 412.4h0.8v0.8h-0.8zM339.6 411.3h0.8v0.8h-0.8zM348.7 413.5h0.8v0.8h-0.8zM346.1 412.5h0.8v0.8h-0.8zM346.5 412.6h0.8v0.8h-0.8zM339.6 411.4h0.8v0.8h-0.8zM337.8 414.2h0.8v0.8h-0.8zM346.1 414.6h0.8v0.8h-0.8zM339.1 412.6h0.8v0.8h-0.8zM344.0 414.4h0.8v0.8h-0.8zM344.1 415.8h0.8v0.8h-0.8zM347.4 413.1h0.8v0.8h-0.8zM337.2 413.3h0.8v0.8h-0.8zM346.7 413.9h0.8v0.8h-0.8zM349.3 411.7h0.8v0.8h-0.8zM342.6 409.2h0.8v0.8h-0.8zM340.4 414.8h0.8v0.8h-0.8zM346.1 415.2h0.8v0.8h-0.8zM337.9 417.8h0.8v0.8h-0.8zM344.4 415.1h0.8v0.8h-0.8zM340.2 414.8h0.8v0.8h-0.8zM349.5 415.3h0.8v0.8h-0.8zM348.2 414.8h0.8v0.8h-0.8zM337.5 414.5h0.8v0.8h-0.8zM337.2 414.1h0.8v0.8h-0.8zM345.7 412.8h0.8v0.8h-0.8zM345.7 414.4h0.8v0.8h-0.8zM340.3 414.7h0.8v0.8h-0.8zM341.6 412.7h0.8v0.8h-0.8zM337.2 416.6h0.8v0.8h-0.8zM342.4 415.6h0.8v0.8h-0.8zM349.1 415.6h0.8v0.8h-0.8zM340.2 414.2h0.8v0.8h-0.8zM341.8 412.1h0.8v0.8h-0.8zM347.9 414.8h0.8v0.8h-0.8zM339.7 412.4h0.8v0.8h-0.8zM349.8 412.6h0.8v0.8h-0.8zM345.4 413.3h0.8v0.8h-0.8zM348.2 414.6h0.8v0.8h-0.8zM357.9 392.7h0.8v0.8h-0.8zM359.5 390.4h0.8v0.8h-0.8zM362.6 386.3h0.8v0.8h-0.8zM359.6 396.9h0.8v0.8h-0.8zM357.4 399.6h0.8v0.8h-0.8zM352.8 395.0h0.8v0.8h-0.8zM354.3 396.7h0.8v0.8h-0.8zM356.6 400.3h0.8v0.8h-0.8zM363.5 408.0h0.8v0.8h-0.8zM360.1 391.0h0.8v0.8h-0.8zM363.6 385.8h0.8v0.8h-0.8zM355.2 399.8h0.8v0.8h-0.8zM360.1 394.2h0.8v0.8h-0.8zM352.9 407.2h0.8v0.8h-0.8zM359.1 397.4h0.8v0.8h-0.8zM358.3 395.3h0.8v0.8h-0.8zM360.6 398.7h0.8v0.8h-0.8zM362.6 397.3h0.8v0.8h-0.8zM358.6 403.7h0.8v0.8h-0.8zM361.3 404.8h0.8v0.8h-0.8zM364.2 392.3h0.8v0.8h-0.8zM367.8 395.9h0.8v0.8h-0.8zM354.3 408.0h0.8v0.8h-0.8zM359.9 398.4h0.8v0.8h-0.8zM357.7 404.4h0.8v0.8h-0.8zM360.5 400.9h0.8v0.8h-0.8zM357.7 397.3h0.8v0.8h-0.8zM356.5 402.4h0.8v0.8h-0.8zM356.7 385.4h0.8v0.8h-0.8zM357.3 402.1h0.8v0.8h-0.8zM353.9 403.8h0.8v0.8h-0.8zM353.7 388.9h0.8v0.8h-0.8zM356.9 402.3h0.8v0.8h-0.8zM356.7 388.5h0.8v0.8h-0.8zM356.9 394.7h0.8v0.8h-0.8zM359.8 407.7h0.8v0.8h-0.8zM361.1 394.9h0.8v0.8h-0.8zM359.1 388.4h0.8v0.8h-0.8zM363.9 403.0h0.8v0.8h-0.8zM358.3 396.8h0.8v0.8h-0.8zM355.0 406.3h0.8v0.8h-0.8zM361.8 397.1h0.8v0.8h-0.8zM364.8 407.2h0.8v0.8h-0.8zM364.6 400.8h0.8v0.8h-0.8zM350.4 382.7h0.8v0.8h-0.8zM347.5 405.9h0.8v0.8h-0.8zM351.3 393.3h0.8v0.8h-0.8zM356.4 391.5h0.8v0.8h-0.8zM360.5 387.3h0.8v0.8h-0.8zM348.6 385.7h0.8v0.8h-0.8zM354.8 394.9h0.8v0.8h-0.8zM356.9 392.7h0.8v0.8h-0.8zM346.7 392.2h0.8v0.8h-0.8zM352.6 396.7h0.8v0.8h-0.8zM353.0 406.7h0.8v0.8h-0.8zM353.5 399.4h0.8v0.8h-0.8zM355.8 395.1h0.8v0.8h-0.8zM355.7 406.5h0.8v0.8h-0.8zM355.4 394.4h0.8v0.8h-0.8zM354.9 387.9h0.8v0.8h-0.8zM359.1 383.0h0.8v0.8h-0.8zM353.9 395.2h0.8v0.8h-0.8zM363.6 388.1h0.8v0.8h-0.8zM353.8 394.9h0.8v0.8h-0.8zM362.6 406.9h0.8v0.8h-0.8zM355.7 396.9h0.8v0.8h-0.8zM359.7 402.4h0.8v0.8h-0.8zM353.5 392.5h0.8v0.8h-0.8zM357.0 402.4h0.8v0.8h-0.8zM354.3 388.8h0.8v0.8h-0.8zM359.4 400.7h0.8v0.8h-0.8zM349.4 394.0h0.8v0.8h-0.8zM356.7 391.2h0.8v0.8h-0.8zM359.6 407.9h0.8v0.8h-0.8zM357.8 396.1h0.8v0.8h-0.8zM357.3 401.8h0.8v0.8h-0.8zM357.0 395.6h0.8v0.8h-0.8zM351.3 406.5h0.8v0.8h-0.8zM354.1 407.1h0.8v0.8h-0.8zM360.0 385.3h0.8v0.8h-0.8zM354.4 394.5h0.8v0.8h-0.8zM358.9 387.4h0.8v0.8h-0.8zM361.4 404.0h0.8v0.8h-0.8zM361.0 406.5h0.8v0.8h-0.8zM357.7 407.1h0.8v0.8h-0.8zM353.9 405.5h0.8v0.8h-0.8zM355.6 403.1h0.8v0.8h-0.8zM354.3 394.7h0.8v0.8h-0.8zM359.0 405.4h0.8v0.8h-0.8zM357.8 384.5h0.8v0.8h-0.8zM361.0 394.7h0.8v0.8h-0.8zM357.3 398.2h0.8v0.8h-0.8zM358.6 401.8h0.8v0.8h-0.8zM357.5 389.4h0.8v0.8h-0.8zM363.2 390.4h0.8v0.8h-0.8zM351.9 393.2h0.8v0.8h-0.8zM351.4 392.6h0.8v0.8h-0.8zM357.8 384.6h0.8v0.8h-0.8zM365.7 396.4h0.8v0.8h-0.8zM360.5 407.1h0.8v0.8h-0.8zM359.8 388.9h0.8v0.8h-0.8zM366.3 390.1h0.8v0.8h-0.8zM356.6 396.4h0.8v0.8h-0.8zM357.6 400.9h0.8v0.8h-0.8zM358.0 404.6h0.8v0.8h-0.8zM365.0 381.9h0.8v0.8h-0.8zM352.9 403.2h0.8v0.8h-0.8zM356.2 399.7h0.8v0.8h-0.8zM364.3 385.2h0.8v0.8h-0.8zM360.5 394.0h0.8v0.8h-0.8zM357.0 388.0h0.8v0.8h-0.8zM349.8 396.5h0.8v0.8h-0.8zM352.2 395.0h0.8v0.8h-0.8zM355.5 402.8h0.8v0.8h-0.8zM356.1 396.8h0.8v0.8h-0.8zM355.1 398.2h0.8v0.8h-0.8zM363.3 384.3h0.8v0.8h-0.8zM359.6 392.6h0.8v0.8h-0.8zM353.6 404.7h0.8v0.8h-0.8zM358.4 396.5h0.8v0.8h-0.8zM352.0 390.8h0.8v0.8h-0.8zM361.5 405.9h0.8v0.8h-0.8zM353.9 396.7h0.8v0.8h-0.8zM357.3 395.5h0.8v0.8h-0.8zM355.7 390.4h0.8v0.8h-0.8zM359.3 402.9h0.8v0.8h-0.8zM349.9 401.4h0.8v0.8h-0.8zM352.5 402.3h0.8v0.8h-0.8zM351.1 398.9h0.8v0.8h-0.8zM353.5 395.3h0.8v0.8h-0.8zM355.3 401.5h0.8v0.8h-0.8zM356.0 404.3h0.8v0.8h-0.8zM358.4 404.2h0.8v0.8h-0.8zM360.5 403.3h0.8v0.8h-0.8zM350.6 392.3h0.8v0.8h-0.8zM360.0 401.4h0.8v0.8h-0.8zM362.0 399.3h0.8v0.8h-0.8zM352.7 401.3h0.8v0.8h-0.8zM357.0 400.1h0.8v0.8h-0.8zM354.1 392.6h0.8v0.8h-0.8zM354.4 398.3h0.8v0.8h-0.8zM352.2 394.4h0.8v0.8h-0.8zM362.0 391.2h0.8v0.8h-0.8zM356.1 388.0h0.8v0.8h-0.8zM365.1 389.5h0.8v0.8h-0.8zM359.3 387.9h0.8v0.8h-0.8zM355.6 401.7h0.8v0.8h-0.8zM358.3 398.9h0.8v0.8h-0.8zM363.4 402.1h0.8v0.8h-0.8zM358.5 406.8h0.8v0.8h-0.8zM358.9 403.4h0.8v0.8h-0.8zM351.4 406.8h0.8v0.8h-0.8zM363.6 390.5h0.8v0.8h-0.8zM354.1 395.0h0.8v0.8h-0.8zM353.5 407.4h0.8v0.8h-0.8zM358.3 384.5h0.8v0.8h-0.8zM349.4 391.0h0.8v0.8h-0.8zM361.1 391.6h0.8v0.8h-0.8zM359.3 395.8h0.8v0.8h-0.8zM358.9 401.6h0.8v0.8h-0.8zM358.1 399.8h0.8v0.8h-0.8zM350.8 398.6h0.8v0.8h-0.8zM357.4 397.7h0.8v0.8h-0.8zM357.3 389.5h0.8v0.8h-0.8zM361.9 402.6h0.8v0.8h-0.8zM361.3 384.5h0.8v0.8h-0.8zM351.4 399.4h0.8v0.8h-0.8zM354.5 383.1h0.8v0.8h-0.8zM354.0 384.9h0.8v0.8h-0.8zM356.4 394.1h0.8v0.8h-0.8zM356.0 385.2h0.8v0.8h-0.8zM362.8 398.4h0.8v0.8h-0.8zM356.0 399.5h0.8v0.8h-0.8zM359.3 395.8h0.8v0.8h-0.8zM349.1 392.8h0.8v0.8h-0.8zM349.5 384.4h0.8v0.8h-0.8zM359.3 390.6h0.8v0.8h-0.8zM354.7 390.0h0.8v0.8h-0.8zM357.3 389.1h0.8v0.8h-0.8zM348.5 403.0h0.8v0.8h-0.8zM351.2 388.7h0.8v0.8h-0.8zM354.0 406.3h0.8v0.8h-0.8zM358.3 402.2h0.8v0.8h-0.8zM350.2 396.6h0.8v0.8h-0.8zM359.0 398.1h0.8v0.8h-0.8zM355.7 392.4h0.8v0.8h-0.8zM355.8 395.4h0.8v0.8h-0.8zM355.6 387.9h0.8v0.8h-0.8zM361.7 393.2h0.8v0.8h-0.8zM360.6 400.0h0.8v0.8h-0.8zM355.3 405.3h0.8v0.8h-0.8zM359.4 399.4h0.8v0.8h-0.8zM354.3 401.2h0.8v0.8h-0.8zM356.7 395.6h0.8v0.8h-0.8zM353.7 406.9h0.8v0.8h-0.8zM361.3 398.4h0.8v0.8h-0.8zM353.9 389.8h0.8v0.8h-0.8zM354.2 397.2h0.8v0.8h-0.8zM350.9 399.8h0.8v0.8h-0.8zM354.4 384.5h0.8v0.8h-0.8zM356.9 392.6h0.8v0.8h-0.8zM355.1 383.4h0.8v0.8h-0.8zM354.0 393.0h0.8v0.8h-0.8zM361.7 390.6h0.8v0.8h-0.8zM353.8 399.2h0.8v0.8h-0.8zM359.5 388.7h0.8v0.8h-0.8zM361.5 391.4h0.8v0.8h-0.8zM356.9 396.6h0.8v0.8h-0.8zM361.9 403.5h0.8v0.8h-0.8zM353.4 400.5h0.8v0.8h-0.8zM362.4 386.3h0.8v0.8h-0.8zM365.4 395.5h0.8v0.8h-0.8zM356.7 387.9h0.8v0.8h-0.8zM351.5 384.2h0.8v0.8h-0.8zM360.0 401.1h0.8v0.8h-0.8zM359.6 401.4h0.8v0.8h-0.8zM351.8 397.6h0.8v0.8h-0.8zM354.5 380.3h0.8v0.8h-0.8zM352.1 397.0h0.8v0.8h-0.8zM362.5 407.2h0.8v0.8h-0.8zM359.3 406.8h0.8v0.8h-0.8zM359.5 401.6h0.8v0.8h-0.8zM349.3 385.6h0.8v0.8h-0.8zM360.1 398.4h0.8v0.8h-0.8zM359.8 381.6h0.8v0.8h-0.8zM356.8 390.0h0.8v0.8h-0.8zM356.8 383.6h0.8v0.8h-0.8zM352.8 385.0h0.8v0.8h-0.8zM360.2 407.7h0.8v0.8h-0.8zM362.8 385.0h0.8v0.8h-0.8zM363.9 402.7h0.8v0.8h-0.8zM364.5 404.9h0.8v0.8h-0.8zM351.8 403.2h0.8v0.8h-0.8zM361.7 395.3h0.8v0.8h-0.8zM357.2 400.1h0.8v0.8h-0.8zM354.7 399.7h0.8v0.8h-0.8zM362.7 390.1h0.8v0.8h-0.8zM358.7 389.0h0.8v0.8h-0.8zM348.6 395.1h0.8v0.8h-0.8zM355.9 406.7h0.8v0.8h-0.8zM365.6 401.1h0.8v0.8h-0.8zM356.8 393.1h0.8v0.8h-0.8zM358.8 405.5h0.8v0.8h-0.8zM355.3 390.1h0.8v0.8h-0.8zM356.2 407.7h0.8v0.8h-0.8zM357.3 397.0h0.8v0.8h-0.8zM361.9 397.2h0.8v0.8h-0.8zM355.3 401.6h0.8v0.8h-0.8zM356.6 404.5h0.8v0.8h-0.8zM359.5 405.8h0.8v0.8h-0.8zM348.7 399.6h0.8v0.8h-0.8zM353.8 406.0h0.8v0.8h-0.8zM354.7 394.8h0.8v0.8h-0.8zM351.5 396.5h0.8v0.8h-0.8zM355.5 404.9h0.8v0.8h-0.8zM354.1 400.8h0.8v0.8h-0.8zM354.8 392.0h0.8v0.8h-0.8zM358.2 382.4h0.8v0.8h-0.8zM355.9 405.8h0.8v0.8h-0.8zM360.1 397.0h0.8v0.8h-0.8zM357.9 395.9h0.8v0.8h-0.8zM353.7 404.2h0.8v0.8h-0.8zM359.6 407.8h0.8v0.8h-0.8zM355.3 387.8h0.8v0.8h-0.8zM351.7 398.8h0.8v0.8h-0.8zM356.7 391.5h0.8v0.8h-0.8zM361.1 399.5h0.8v0.8h-0.8zM350.8 387.4h0.8v0.8h-0.8zM353.9 392.2h0.8v0.8h-0.8zM359.7 382.8h0.8v0.8h-0.8zM361.0 406.9h0.8v0.8h-0.8zM355.1 389.6h0.8v0.8h-0.8zM356.7 405.2h0.8v0.8h-0.8zM359.5 399.8h0.8v0.8h-0.8zM360.2 405.2h0.8v0.8h-0.8zM356.3 391.8h0.8v0.8h-0.8zM360.3 387.4h0.8v0.8h-0.8zM367.1 400.6h0.8v0.8h-0.8zM360.6 389.0h0.8v0.8h-0.8zM359.3 407.5h0.8v0.8h-0.8zM360.8 403.1h0.8v0.8h-0.8zM351.5 398.8h0.8v0.8h-0.8zM360.9 401.8h0.8v0.8h-0.8zM356.6 396.5h0.8v0.8h-0.8zM359.9 395.7h0.8v0.8h-0.8zM356.7 393.3h0.8v0.8h-0.8zM360.6 402.4h0.8v0.8h-0.8zM358.5 389.0h0.8v0.8h-0.8zM359.2 406.3h0.8v0.8h-0.8zM356.4 398.9h0.8v0.8h-0.8zM360.2 394.1h0.8v0.8h-0.8zM354.6 405.7h0.8v0.8h-0.8zM360.5 400.8h0.8v0.8h-0.8zM357.9 393.9h0.8v0.8h-0.8zM356.5 401.0h0.8v0.8h-0.8zM358.2 384.6h0.8v0.8h-0.8zM355.4 407.9h0.8v0.8h-0.8zM355.4 403.5h0.8v0.8h-0.8zM359.0 406.5h0.8v0.8h-0.8zM354.3 407.6h0.8v0.8h-0.8zM352.5 400.3h0.8v0.8h-0.8zM352.5 394.6h0.8v0.8h-0.8zM353.4 392.4h0.8v0.8h-0.8zM351.1 402.1h0.8v0.8h-0.8zM358.0 397.4h0.8v0.8h-0.8zM356.6 391.4h0.8v0.8h-0.8zM362.9 390.8h0.8v0.8h-0.8zM354.3 386.9h0.8v0.8h-0.8zM364.4 392.7h0.8v0.8h-0.8zM350.3 380.3h0.8v0.8h-0.8zM357.6 400.4h0.8v0.8h-0.8zM351.7 389.1h0.8v0.8h-0.8zM362.4 388.7h0.8v0.8h-0.8zM360.8 405.0h0.8v0.8h-0.8zM361.4 390.7h0.8v0.8h-0.8zM357.4 407.2h0.8v0.8h-0.8zM354.0 407.9h0.8v0.8h-0.8zM367.3 393.8h0.8v0.8h-0.8zM353.6 401.7h0.8v0.8h-0.8zM351.1 395.5h0.8v0.8h-0.8zM353.7 406.4h0.8v0.8h-0.8zM363.8 393.3h0.8v0.8h-0.8zM353.4 404.7h0.8v0.8h-0.8zM361.5 407.9h0.8v0.8h-0.8zM354.5 401.0h0.8v0.8h-0.8zM355.5 389.0h0.8v0.8h-0.8zM359.3 406.2h0.8v0.8h-0.8zM356.7 380.4h0.8v0.8h-0.8zM359.0 395.3h0.8v0.8h-0.8zM349.5 386.1h0.8v0.8h-0.8zM354.8 392.4h0.8v0.8h-0.8zM356.3 398.5h0.8v0.8h-0.8zM353.9 402.7h0.8v0.8h-0.8zM359.5 398.2h0.8v0.8h-0.8zM351.3 393.1h0.8v0.8h-0.8zM354.5 398.3h0.8v0.8h-0.8zM351.4 394.2h0.8v0.8h-0.8zM357.8 388.3h0.8v0.8h-0.8zM352.6 401.5h0.8v0.8h-0.8zM351.8 404.4h0.8v0.8h-0.8zM358.4 404.2h0.8v0.8h-0.8zM359.2 390.3h0.8v0.8h-0.8zM355.8 407.2h0.8v0.8h-0.8zM359.6 401.2h0.8v0.8h-0.8zM355.9 388.0h0.8v0.8h-0.8zM358.9 399.9h0.8v0.8h-0.8zM352.1 384.6h0.8v0.8h-0.8zM353.7 401.4h0.8v0.8h-0.8zM351.0 386.4h0.8v0.8h-0.8zM355.2 407.0h0.8v0.8h-0.8zM353.5 404.4h0.8v0.8h-0.8zM352.8 406.7h0.8v0.8h-0.8zM352.0 391.4h0.8v0.8h-0.8zM359.2 382.5h0.8v0.8h-0.8zM359.9 400.5h0.8v0.8h-0.8zM356.0 406.8h0.8v0.8h-0.8zM358.6 400.1h0.8v0.8h-0.8zM359.5 396.7h0.8v0.8h-0.8zM357.1 387.5h0.8v0.8h-0.8zM356.6 390.9h0.8v0.8h-0.8zM361.8 401.0h0.8v0.8h-0.8zM358.1 404.9h0.8v0.8h-0.8zM357.1 397.8h0.8v0.8h-0.8zM357.1 406.9h0.8v0.8h-0.8zM357.2 407.7h0.8v0.8h-0.8zM361.1 386.1h0.8v0.8h-0.8zM361.6 396.7h0.8v0.8h-0.8zM359.7 391.1h0.8v0.8h-0.8zM367.6 388.7h0.8v0.8h-0.8zM356.7 391.7h0.8v0.8h-0.8zM357.3 392.7h0.8v0.8h-0.8zM352.6 404.6h0.8v0.8h-0.8zM360.7 401.3h0.8v0.8h-0.8zM356.0 407.4h0.8v0.8h-0.8zM353.0 391.0h0.8v0.8h-0.8zM351.9 398.5h0.8v0.8h-0.8zM354.3 400.8h0.8v0.8h-0.8zM352.1 395.7h0.8v0.8h-0.8zM359.3 398.3h0.8v0.8h-0.8zM361.5 406.8h0.8v0.8h-0.8zM361.4 406.7h0.8v0.8h-0.8zM357.0 396.8h0.8v0.8h-0.8zM366.1 390.8h0.8v0.8h-0.8zM361.2 388.9h0.8v0.8h-0.8zM348.5 391.0h0.8v0.8h-0.8zM352.1 400.8h0.8v0.8h-0.8zM357.0 397.4h0.8v0.8h-0.8zM354.2 387.8h0.8v0.8h-0.8zM354.9 402.3h0.8v0.8h-0.8zM360.2 392.8h0.8v0.8h-0.8zM354.0 389.4h0.8v0.8h-0.8zM358.0 393.6h0.8v0.8h-0.8zM353.4 392.8h0.8v0.8h-0.8zM357.5 402.6h0.8v0.8h-0.8zM362.4 402.5h0.8v0.8h-0.8zM352.2 406.2h0.8v0.8h-0.8zM360.2 391.7h0.8v0.8h-0.8zM361.6 405.4h0.8v0.8h-0.8zM358.5 405.5h0.8v0.8h-0.8zM356.0 393.4h0.8v0.8h-0.8zM359.4 403.2h0.8v0.8h-0.8zM363.7 397.0h0.8v0.8h-0.8zM365.6 397.7h0.8v0.8h-0.8zM361.3 386.6h0.8v0.8h-0.8zM358.7 392.5h0.8v0.8h-0.8zM359.3 389.3h0.8v0.8h-0.8zM360.5 390.4h0.8v0.8h-0.8zM354.3 397.8h0.8v0.8h-0.8zM363.7 405.8h0.8v0.8h-0.8zM365.4 400.3h0.8v0.8h-0.8zM347.7 406.7h0.8v0.8h-0.8zM359.5 404.5h0.8v0.8h-0.8zM358.4 393.1h0.8v0.8h-0.8zM358.5 408.0h0.8v0.8h-0.8zM361.3 404.3h0.8v0.8h-0.8zM354.8 385.1h0.8v0.8h-0.8zM358.2 397.5h0.8v0.8h-0.8zM358.6 404.3h0.8v0.8h-0.8zM357.2 405.3h0.8v0.8h-0.8zM358.1 397.6h0.8v0.8h-0.8zM362.7 392.6h0.8v0.8h-0.8zM357.0 407.8h0.8v0.8h-0.8zM355.2 386.1h0.8v0.8h-0.8zM363.7 387.0h0.8v0.8h-0.8zM359.6 396.6h0.8v0.8h-0.8zM359.0 393.6h0.8v0.8h-0.8zM355.4 389.9h0.8v0.8h-0.8zM360.5 404.4h0.8v0.8h-0.8zM355.0 405.5h0.8v0.8h-0.8zM354.5 398.4h0.8v0.8h-0.8zM356.9 399.8h0.8v0.8h-0.8zM355.9 400.7h0.8v0.8h-0.8zM356.8 403.7h0.8v0.8h-0.8zM353.5 384.7h0.8v0.8h-0.8zM354.9 391.2h0.8v0.8h-0.8zM356.1 386.8h0.8v0.8h-0.8zM350.9 405.0h0.8v0.8h-0.8zM366.6 391.9h0.8v0.8h-0.8zM361.2 395.5h0.8v0.8h-0.8zM360.6 387.2h0.8v0.8h-0.8zM359.5 403.2h0.8v0.8h-0.8zM358.9 407.3h0.8v0.8h-0.8zM359.5 406.8h0.8v0.8h-0.8zM357.5 397.1h0.8v0.8h-0.8zM364.7 398.8h0.8v0.8h-0.8zM361.3 395.3h0.8v0.8h-0.8zM355.6 387.6h0.8v0.8h-0.8zM357.6 404.1h0.8v0.8h-0.8zM357.3 406.2h0.8v0.8h-0.8zM357.7 390.8h0.8v0.8h-0.8zM364.4 397.9h0.8v0.8h-0.8zM355.3 406.5h0.8v0.8h-0.8zM361.0 399.3h0.8v0.8h-0.8zM355.9 387.4h0.8v0.8h-0.8zM352.6 393.0h0.8v0.8h-0.8zM356.5 385.9h0.8v0.8h-0.8zM355.3 396.0h0.8v0.8h-0.8zM361.3 404.2h0.8v0.8h-0.8zM353.3 386.0h0.8v0.8h-0.8zM362.3 400.8h0.8v0.8h-0.8zM362.3 382.5h0.8v0.8h-0.8zM357.9 404.4h0.8v0.8h-0.8zM351.7 401.5h0.8v0.8h-0.8zM359.1 403.5h0.8v0.8h-0.8zM356.9 380.5h0.8v0.8h-0.8zM357.5 402.3h0.8v0.8h-0.8zM354.4 402.0h0.8v0.8h-0.8zM358.1 402.5h0.8v0.8h-0.8zM358.5 401.4h0.8v0.8h-0.8zM356.1 396.6h0.8v0.8h-0.8zM362.2 399.9h0.8v0.8h-0.8zM357.1 388.7h0.8v0.8h-0.8zM358.2 389.2h0.8v0.8h-0.8zM361.4 404.7h0.8v0.8h-0.8zM356.7 404.8h0.8v0.8h-0.8zM356.4 403.2h0.8v0.8h-0.8zM368.7 384.7h0.8v0.8h-0.8zM360.4 406.9h0.8v0.8h-0.8zM360.2 395.5h0.8v0.8h-0.8zM333.6 417.7h0.8v0.8h-0.8zM342.7 412.9h0.8v0.8h-0.8zM347.0 414.0h0.8v0.8h-0.8zM346.6 416.3h0.8v0.8h-0.8zM347.8 416.2h0.8v0.8h-0.8zM338.2 417.4h0.8v0.8h-0.8zM344.6 411.8h0.8v0.8h-0.8zM340.8 412.9h0.8v0.8h-0.8zM341.5 415.7h0.8v0.8h-0.8zM349.0 411.8h0.8v0.8h-0.8zM344.1 413.6h0.8v0.8h-0.8zM341.7 413.9h0.8v0.8h-0.8zM348.3 418.5h0.8v0.8h-0.8zM339.2 413.4h0.8v0.8h-0.8zM349.1 411.8h0.8v0.8h-0.8zM346.3 415.3h0.8v0.8h-0.8zM343.3 415.4h0.8v0.8h-0.8zM339.7 413.2h0.8v0.8h-0.8zM343.3 413.2h0.8v0.8h-0.8zM337.8 416.4h0.8v0.8h-0.8zM344.2 418.5h0.8v0.8h-0.8zM339.9 415.5h0.8v0.8h-0.8zM344.4 414.9h0.8v0.8h-0.8zM339.2 412.9h0.8v0.8h-0.8zM347.9 412.9h0.8v0.8h-0.8zM348.2 415.4h0.8v0.8h-0.8zM349.2 414.1h0.8v0.8h-0.8zM342.6 414.7h0.8v0.8h-0.8zM347.2 414.8h0.8v0.8h-0.8zM346.7 414.0h0.8v0.8h-0.8zM339.5 415.4h0.8v0.8h-0.8zM347.4 413.2h0.8v0.8h-0.8zM341.4 417.5h0.8v0.8h-0.8zM348.2 415.8h0.8v0.8h-0.8zM339.3 411.6h0.8v0.8h-0.8zM341.1 415.4h0.8v0.8h-0.8zM348.3 413.9h0.8v0.8h-0.8zM337.9 411.8h0.8v0.8h-0.8zM343.5 415.8h0.8v0.8h-0.8zM343.3 412.5h0.8v0.8h-0.8zM339.4 414.6h0.8v0.8h-0.8zM344.2 412.3h0.8v0.8h-0.8zM349.2 414.9h0.8v0.8h-0.8zM341.4 418.2h0.8v0.8h-0.8zM339.7 419.1h0.8v0.8h-0.8zM347.9 415.7h0.8v0.8h-0.8zM347.2 416.4h0.8v0.8h-0.8zM336.1 415.8h0.8v0.8h-0.8z" fill="#000" fill-opacity="0.5"/>
<path d="M349.1 414.0h0.8v0.8h-0.8zM341.7 413.2h0.8v0.8h-0.8zM349.3 412.7h0.8v0.8h-0.8zM342.4 414.9h0.8v0.8h-0.8zM349.3 411.0h0.8v0.8h-0.8zM343.7 415.1h0.8v0.8h-0.8zM342.1 413.2h0.8v0.8h-0.8zM345.7 414.9h0.8v0.8h-0.8zM348.7 417.5h0.8v0.8h-0.8zM346.0 410.9h0.8v0.8h-0.8zM347.9 414.0h0.8v0.8h-0.8zM347.6 415.3h0.8v0.8h-0.8zM346.7 414.6h0.8v0.8h-0.8zM340.1 413.8h0.8v0.8h-0.8zM348.4 412.6h0.8v0.8h-0.8zM342.6 413.1h0.8v0.8h-0.8zM345.1 415.4h0.8v0.8h-0.8zM342.8 415.4h0.8v0.8h-0.8zM342.8 415.2h0.8v0.8h-0.8zM345.2 414.3h0.8v0.8h-0.8zM347.5 414.7h0.8v0.8h-0.8zM348.1 414.5h0.8v0.8h-0.8zM341.5 413.1h0.8v0.8h-0.8zM348.5 415.0h0.8v0.8h-0.8zM343.5 413.1h0.8v0.8h-0.8zM343.8 411.7h0.8v0.8h-0.8zM340.7 415.3h0.8v0.8h-0.8zM349.9 415.7h0.8v0.8h-0.8zM350.1 415.5h0.8v0.8h-0.8zM357.7 397.8h0.8v0.8h-0.8zM353.3 407.3h0.8v0.8h-0.8zM355.5 401.7h0.8v0.8h-0.8zM357.7 397.2h0.8v0.8h-0.8zM359.2 404.8h0.8v0.8h-0.8zM363.0 401.9h0.8v0.8h-0.8zM359.3 396.1h0.8v0.8h-0.8zM352.4 397.8h0.8v0.8h-0.8zM349.7 390.3h0.8v0.8h-0.8zM357.4 406.4h0.8v0.8h-0.8zM364.4 396.7h0.8v0.8h-0.8zM356.8 403.0h0.8v0.8h-0.8zM361.2 393.1h0.8v0.8h-0.8zM355.0 393.3h0.8v0.8h-0.8zM356.3 402.2h0.8v0.8h-0.8zM362.7 391.4h0.8v0.8h-0.8zM357.2 395.2h0.8v0.8h-0.8zM358.0 389.0h0.8v0.8h-0.8zM360.6 403.8h0.8v0.8h-0.8zM362.8 393.2h0.8v0.8h-0.8zM362.4 393.2h0.8v0.8h-0.8zM356.1 396.7h0.8v0.8h-0.8zM366.9 395.0h0.8v0.8h-0.8zM358.4 395.0h0.8v0.8h-0.8zM362.0 405.8h0.8v0.8h-0.8zM350.9 401.6h0.8v0.8h-0.8zM350.0 401.4h0.8v0.8h-0.8zM357.8 399.3h0.8v0.8h-0.8zM360.2 402.2h0.8v0.8h-0.8zM360.2 403.0h0.8v0.8h-0.8zM357.2 407.2h0.8v0.8h-0.8zM353.1 397.3h0.8v0.8h-0.8zM361.6 397.9h0.8v0.8h-0.8zM346.7 404.1h0.8v0.8h-0.8zM357.1 403.8h0.8v0.8h-0.8zM351.1 402.8h0.8v0.8h-0.8zM358.7 405.4h0.8v0.8h-0.8zM354.0 407.1h0.8v0.8h-0.8zM367.5 391.6h0.8v0.8h-0.8zM359.5 407.7h0.8v0.8h-0.8zM360.0 404.4h0.8v0.8h-0.8zM359.7 405.6h0.8v0.8h-0.8zM353.8 397.6h0.8v0.8h-0.8zM356.6 407.0h0.8v0.8h-0.8zM360.6 397.8h0.8v0.8h-0.8zM364.9 399.9h0.8v0.8h-0.8zM356.7 407.9h0.8v0.8h-0.8zM359.9 405.7h0.8v0.8h-0.8zM355.7 404.4h0.8v0.8h-0.8zM356.5 406.6h0.8v0.8h-0.8zM361.0 401.8h0.8v0.8h-0.8zM358.3 402.8h0.8v0.8h-0.8zM361.0 392.9h0.8v0.8h-0.8zM355.2 397.2h0.8v0.8h-0.8zM351.5 400.4h0.8v0.8h-0.8zM368.8 400.5h0.8v0.8h-0.8zM357.8 399.0h0.8v0.8h-0.8zM352.0 401.7h0.8v0.8h-0.8zM356.3 394.7h0.8v0.8h-0.8zM356.7 396.0h0.8v0.8h-0.8zM356.6 401.2h0.8v0.8h-0.8zM358.3 389.0h0.8v0.8h-0.8zM356.0 395.1h0.8v0.8h-0.8zM355.2 405.7h0.8v0.8h-0.8zM356.4 388.3h0.8v0.8h-0.8zM356.8 398.9h0.8v0.8h-0.8zM357.2 394.0h0.8v0.8h-0.8zM355.4 407.2h0.8v0.8h-0.8zM354.1 393.7h0.8v0.8h-0.8zM369.3 388.7h0.8v0.8h-0.8zM349.9 406.9h0.8v0.8h-0.8zM358.3 406.7h0.8v0.8h-0.8zM354.9 404.7h0.8v0.8h-0.8zM355.7 406.9h0.8v0.8h-0.8zM364.6 395.8h0.8v0.8h-0.8zM363.1 404.4h0.8v0.8h-0.8zM352.4 393.9h0.8v0.8h-0.8zM365.4 398.4h0.8v0.8h-0.8zM349.3 391.2h0.8v0.8h-0.8zM361.5 392.7h0.8v0.8h-0.8zM365.5 388.5h0.8v0.8h-0.8zM353.5 405.6h0.8v0.8h-0.8zM361.0 390.9h0.8v0.8h-0.8zM354.7 406.7h0.8v0.8h-0.8zM349.0 403.0h0.8v0.8h-0.8zM356.5 403.9h0.8v0.8h-0.8zM356.1 391.4h0.8v0.8h-0.8zM352.4 397.1h0.8v0.8h-0.8zM354.2 407.1h0.8v0.8h-0.8zM355.5 396.1h0.8v0.8h-0.8zM349.9 390.4h0.8v0.8h-0.8zM357.4 389.5h0.8v0.8h-0.8zM356.9 404.9h0.8v0.8h-0.8zM358.2 404.2h0.8v0.8h-0.8zM354.2 402.9h0.8v0.8h-0.8zM355.0 398.6h0.8v0.8h-0.8zM366.4 395.9h0.8v0.8h-0.8zM349.7 401.0h0.8v0.8h-0.8zM362.7 389.3h0.8v0.8h-0.8zM352.2 405.9h0.8v0.8h-0.8zM368.2 393.6h0.8v0.8h-0.8zM352.6 399.3h0.8v0.8h-0.8zM360.1 405.8h0.8v0.8h-0.8zM353.1 390.5h0.8v0.8h-0.8zM351.3 400.4h0.8v0.8h-0.8zM362.9 402.8h0.8v0.8h-0.8zM353.7 407.4h0.8v0.8h-0.8zM352.2 404.5h0.8v0.8h-0.8zM354.2 406.3h0.8v0.8h-0.8zM347.4 388.8h0.8v0.8h-0.8zM364.5 388.9h0.8v0.8h-0.8zM355.7 394.4h0.8v0.8h-0.8zM358.6 403.3h0.8v0.8h-0.8zM356.3 400.4h0.8v0.8h-0.8zM355.3 407.6h0.8v0.8h-0.8zM362.1 401.3h0.8v0.8h-0.8zM357.4 394.3h0.8v0.8h-0.8zM358.5 397.8h0.8v0.8h-0.8zM358.6 405.6h0.8v0.8h-0.8zM358.2 401.1h0.8v0.8h-0.8zM357.2 398.3h0.8v0.8h-0.8zM356.0 402.1h0.8v0.8h-0.8zM363.9 397.6h0.8v0.8h-0.8zM366.1 407.3h0.8v0.8h-0.8zM359.1 405.4h0.8v0.8h-0.8zM365.6 400.0h0.8v0.8h-0.8zM355.6 403.9h0.8v0.8h-0.8zM364.9 391.1h0.8v0.8h-0.8zM362.3 401.2h0.8v0.8h-0.8zM354.5 400.9h0.8v0.8h-0.8zM358.4 402.7h0.8v0.8h-0.8zM358.5 404.2h0.8v0.8h-0.8zM354.4 403.4h0.8v0.8h-0.8zM358.3 402.4h0.8v0.8h-0.8zM347.9 399.7h0.8v0.8h-0.8zM354.6 407.9h0.8v0.8h-0.8zM354.5 392.3h0.8v0.8h-0.8zM353.2 407.6h0.8v0.8h-0.8zM353.9 398.3h0.8v0.8h-0.8zM352.2 396.4h0.8v0.8h-0.8zM360.6 401.7h0.8v0.8h-0.8zM362.0 397.2h0.8v0.8h-0.8zM355.2 388.4h0.8v0.8h-0.8zM359.4 407.3h0.8v0.8h-0.8zM353.3 398.3h0.8v0.8h-0.8zM361.9 400.1h0.8v0.8h-0.8zM358.8 395.8h0.8v0.8h-0.8zM356.2 396.8h0.8v0.8h-0.8zM358.2 401.6h0.8v0.8h-0.8zM361.7 402.6h0.8v0.8h-0.8zM356.5 406.0h0.8v0.8h-0.8zM359.0 407.5h0.8v0.8h-0.8zM356.1 398.3h0.8v0.8h-0.8zM363.6 401.0h0.8v0.8h-0.8zM356.7 404.7h0.8v0.8h-0.8zM353.0 406.3h0.8v0.8h-0.8zM356.6 408.0h0.8v0.8h-0.8zM355.4 401.3h0.8v0.8h-0.8zM363.7 399.6h0.8v0.8h-0.8zM359.7 399.4h0.8v0.8h-0.8zM356.5 404.5h0.8v0.8h-0.8zM349.6 406.2h0.8v0.8h-0.8zM358.2 407.4h0.8v0.8h-0.8zM352.6 395.3h0.8v0.8h-0.8zM365.3 386.8h0.8v0.8h-0.8zM360.7 391.8h0.8v0.8h-0.8zM358.1 402.8h0.8v0.8h-0.8zM352.9 399.6h0.8v0.8h-0.8zM359.7 394.7h0.8v0.8h-0.8zM358.9 399.2h0.8v0.8h-0.8zM359.3 395.4h0.8v0.8h-0.8zM355.2 401.6h0.8v0.8h-0.8zM365.7 406.9h0.8v0.8h-0.8zM356.0 396.7h0.8v0.8h-0.8zM361.3 406.8h0.8v0.8h-0.8zM358.6 402.2h0.8v0.8h-0.8zM357.6 400.7h0.8v0.8h-0.8zM353.4 398.5h0.8v0.8h-0.8zM356.2 404.8h0.8v0.8h-0.8zM346.7 390.3h0.8v0.8h-0.8zM362.3 396.6h0.8v0.8h-0.8zM358.5 392.1h0.8v0.8h-0.8zM353.0 404.5h0.8v0.8h-0.8zM352.5 399.2h0.8v0.8h-0.8zM358.7 397.3h0.8v0.8h-0.8zM360.5 406.1h0.8v0.8h-0.8zM349.4 402.2h0.8v0.8h-0.8zM361.6 404.8h0.8v0.8h-0.8zM364.6 404.8h0.8v0.8h-0.8zM359.4 400.2h0.8v0.8h-0.8zM359.5 403.6h0.8v0.8h-0.8zM364.3 395.3h0.8v0.8h-0.8zM353.9 404.3h0.8v0.8h-0.8zM359.9 393.4h0.8v0.8h-0.8zM362.4 400.2h0.8v0.8h-0.8zM352.9 407.3h0.8v0.8h-0.8zM357.8 405.9h0.8v0.8h-0.8zM359.0 399.7h0.8v0.8h-0.8zM361.7 391.7h0.8v0.8h-0.8zM356.5 404.0h0.8v0.8h-0.8zM354.6 405.6h0.8v0.8h-0.8zM357.0 390.1h0.8v0.8h-0.8zM356.4 403.9h0.8v0.8h-0.8zM365.5 407.0h0.8v0.8h-0.8zM350.4 398.4h0.8v0.8h-0.8zM359.5 395.4h0.8v0.8h-0.8zM351.4 390.6h0.8v0.8h-0.8zM358.5 404.4h0.8v0.8h-0.8zM353.7 406.2h0.8v0.8h-0.8zM360.7 398.6h0.8v0.8h-0.8zM361.9 401.0h0.8v0.8h-0.8zM358.8 389.7h0.8v0.8h-0.8zM365.7 398.5h0.8v0.8h-0.8zM357.7 401.9h0.8v0.8h-0.8zM356.7 401.8h0.8v0.8h-0.8zM349.9 386.5h0.8v0.8h-0.8zM359.4 395.5h0.8v0.8h-0.8zM357.4 406.0h0.8v0.8h-0.8zM361.8 397.5h0.8v0.8h-0.8zM350.9 400.5h0.8v0.8h-0.8zM362.6 405.3h0.8v0.8h-0.8zM359.0 395.4h0.8v0.8h-0.8zM355.0 389.8h0.8v0.8h-0.8zM359.7 399.8h0.8v0.8h-0.8zM356.6 406.1h0.8v0.8h-0.8zM363.1 399.2h0.8v0.8h-0.8zM356.1 399.4h0.8v0.8h-0.8zM363.6 395.9h0.8v0.8h-0.8zM355.2 407.5h0.8v0.8h-0.8zM364.0 396.4h0.8v0.8h-0.8zM351.9 403.8h0.8v0.8h-0.8zM358.5 406.8h0.8v0.8h-0.8zM357.9 400.1h0.8v0.8h-0.8zM353.7 398.2h0.8v0.8h-0.8zM346.7 396.9h0.8v0.8h-0.8zM358.1 402.5h0.8v0.8h-0.8zM351.9 404.3h0.8v0.8h-0.8zM366.3 398.9h0.8v0.8h-0.8zM357.8 406.9h0.8v0.8h-0.8zM354.0 388.7h0.8v0.8h-0.8zM358.4 405.0h0.8v0.8h-0.8zM360.1 402.0h0.8v0.8h-0.8zM350.9 404.8h0.8v0.8h-0.8zM349.7 405.9h0.8v0.8h-0.8zM357.5 391.9h0.8v0.8h-0.8zM363.7 394.7h0.8v0.8h-0.8zM357.9 406.5h0.8v0.8h-0.8zM362.4 404.1h0.8v0.8h-0.8zM362.0 404.6h0.8v0.8h-0.8zM357.9 405.8h0.8v0.8h-0.8zM356.3 398.7h0.8v0.8h-0.8zM359.8 404.5h0.8v0.8h-0.8zM353.4 403.7h0.8v0.8h-0.8zM359.3 406.7h0.8v0.8h-0.8zM360.3 405.2h0.8v0.8h-0.8zM356.8 405.0h0.8v0.8h-0.8zM361.2 396.0h0.8v0.8h-0.8zM342.7 398.3h0.8v0.8h-0.8zM361.9 399.5h0.8v0.8h-0.8zM357.9 405.6h0.8v0.8h-0.8zM362.0 407.0h0.8v0.8h-0.8zM357.8 402.5h0.8v0.8h-0.8zM363.1 403.4h0.8v0.8h-0.8zM352.8 403.4h0.8v0.8h-0.8zM364.9 395.8h0.8v0.8h-0.8zM357.0 400.5h0.8v0.8h-0.8zM346.3 398.6h0.8v0.8h-0.8zM363.1 398.1h0.8v0.8h-0.8zM352.4 398.8h0.8v0.8h-0.8zM356.1 404.9h0.8v0.8h-0.8zM361.8 389.1h0.8v0.8h-0.8zM364.1 395.1h0.8v0.8h-0.8zM360.9 397.0h0.8v0.8h-0.8zM356.6 405.4h0.8v0.8h-0.8zM357.9 392.6h0.8v0.8h-0.8zM356.0 401.5h0.8v0.8h-0.8zM363.9 393.7h0.8v0.8h-0.8zM357.5 402.5h0.8v0.8h-0.8zM354.4 406.7h0.8v0.8h-0.8zM353.3 403.4h0.8v0.8h-0.8zM360.7 394.1h0.8v0.8h-0.8zM355.4 399.1h0.8v0.8h-0.8zM362.7 396.9h0.8v0.8h-0.8zM361.2 404.4h0.8v0.8h-0.8zM359.4 405.7h0.8v0.8h-0.8zM356.2 405.4h0.8v0.8h-0.8zM360.9 401.6h0.8v0.8h-0.8zM361.6 391.4h0.8v0.8h-0.8zM360.8 393.4h0.8v0.8h-0.8zM349.5 387.5h0.8v0.8h-0.8zM354.2 396.4h0.8v0.8h-0.8zM358.9 406.9h0.8v0.8h-0.8zM353.9 398.7h0.8v0.8h-0.8zM353.2 406.2h0.8v0.8h-0.8zM355.9 393.4h0.8v0.8h-0.8zM353.7 390.1h0.8v0.8h-0.8zM357.7 405.5h0.8v0.8h-0.8zM357.7 401.7h0.8v0.8h-0.8zM362.1 391.2h0.8v0.8h-0.8zM359.2 392.0h0.8v0.8h-0.8zM358.2 394.2h0.8v0.8h-0.8zM359.1 397.5h0.8v0.8h-0.8zM358.9 393.4h0.8v0.8h-0.8zM353.1 396.8h0.8v0.8h-0.8zM357.5 403.4h0.8v0.8h-0.8zM355.7 401.7h0.8v0.8h-0.8zM348.4 402.8h0.8v0.8h-0.8zM360.8 406.5h0.8v0.8h-0.8zM351.7 398.8h0.8v0.8h-0.8zM362.8 405.1h0.8v0.8h-0.8zM355.3 390.5h0.8v0.8h-0.8zM369.1 394.0h0.8v0.8h-0.8zM364.3 397.7h0.8v0.8h-0.8zM354.8 403.9h0.8v0.8h-0.8zM364.7 404.8h0.8v0.8h-0.8zM364.1 394.2h0.8v0.8h-0.8zM351.5 395.6h0.8v0.8h-0.8zM353.9 404.3h0.8v0.8h-0.8zM361.5 401.2h0.8v0.8h-0.8zM350.3 393.8h0.8v0.8h-0.8zM354.1 401.0h0.8v0.8h-0.8zM355.6 400.5h0.8v0.8h-0.8zM355.8 388.8h0.8v0.8h-0.8zM356.4 397.4h0.8v0.8h-0.8zM356.1 399.6h0.8v0.8h-0.8zM360.4 394.5h0.8v0.8h-0.8zM355.6 400.6h0.8v0.8h-0.8zM355.4 403.3h0.8v0.8h-0.8zM358.6 403.5h0.8v0.8h-0.8zM360.8 401.0h0.8v0.8h-0.8zM351.5 399.6h0.8v0.8h-0.8zM362.9 400.6h0.8v0.8h-0.8zM359.1 407.2h0.8v0.8h-0.8zM356.3 389.5h0.8v0.8h-0.8zM356.4 391.6h0.8v0.8h-0.8zM355.3 406.2h0.8v0.8h-0.8zM361.5 400.2h0.8v0.8h-0.8zM358.2 397.0h0.8v0.8h-0.8zM356.1 402.5h0.8v0.8h-0.8zM359.9 406.2h0.8v0.8h-0.8zM359.1 407.0h0.8v0.8h-0.8zM358.1 403.7h0.8v0.8h-0.8zM351.1 399.0h0.8v0.8h-0.8zM364.6 398.6h0.8v0.8h-0.8zM363.8 395.1h0.8v0.8h-0.8zM358.9 400.2h0.8v0.8h-0.8zM362.4 401.2h0.8v0.8h-0.8zM357.0 402.5h0.8v0.8h-0.8zM363.0 400.2h0.8v0.8h-0.8zM356.5 404.6h0.8v0.8h-0.8zM359.0 405.3h0.8v0.8h-0.8zM367.5 393.1h0.8v0.8h-0.8zM357.3 394.4h0.8v0.8h-0.8zM358.2 400.8h0.8v0.8h-0.8zM360.3 399.2h0.8v0.8h-0.8zM356.3 401.7h0.8v0.8h-0.8zM360.4 401.6h0.8v0.8h-0.8zM351.4 396.9h0.8v0.8h-0.8zM360.1 389.8h0.8v0.8h-0.8zM358.2 408.0h0.8v0.8h-0.8zM358.9 394.1h0.8v0.8h-0.8zM359.2 395.8h0.8v0.8h-0.8zM362.2 399.3h0.8v0.8h-0.8zM358.2 404.8h0.8v0.8h-0.8zM340.0 414.4h0.8v0.8h-0.8zM341.4 412.1h0.8v0.8h-0.8zM339.6 418.6h0.8v0.8h-0.8zM341.7 414.3h0.8v0.8h-0.8zM342.0 412.4h0.8v0.8h-0.8zM345.6 414.0h0.8v0.8h-0.8zM346.1 411.4h0.8v0.8h-0.8zM336.5 413.7h0.8v0.8h-0.8zM343.6 412.5h0.8v0.8h-0.8zM348.7 414.0h0.8v0.8h-0.8zM334.9 415.4h0.8v0.8h-0.8zM343.8 414.4h0.8v0.8h-0.8zM335.4 416.4h0.8v0.8h-0.8zM347.6 417.1h0.8v0.8h-0.8zM342.5 413.3h0.8v0.8h-0.8zM346.0 414.0h0.8v0.8h-0.8zM349.3 412.5h0.8v0.8h-0.8zM341.6 416.2h0.8v0.8h-0.8zM347.3 415.2h0.8v0.8h-0.8zM340.8 412.9h0.8v0.8h-0.8zM343.2 412.7h0.8v0.8h-0.8zM344.5 417.3h0.8v0.8h-0.8zM344.6 416.4h0.8v0.8h-0.8zM331.4 413.9h0.8v0.8h-0.8zM348.9 411.9h0.8v0.8h-0.8zM349.2 414.9h0.8v0.8h-0.8zM348.6 412.2h0.8v0.8h-0.8zM344.4 415.9h0.8v0.8h-0.8zM344.4 419.3h0.8v0.8h-0.8zM348.7 413.3h0.8v0.8h-0.8zM348.4 415.3h0.8v0.8h-0.8zM344.3 416.8h0.8v0.8h-0.8zM348.2 416.2h0.8v0.8h-0.8zM345.7 414.2h0.8v0.8h-0.8zM340.0 418.2h0.8v0.8h-0.8zM348.6 417.9h0.8v0.8h-0.8zM347.9 415.6h0.8v0.8h-0.8zM349.2 414.7h0.8v0.8h-0.8zM346.5 414.2h0.8v0.8h-0.8zM341.1 415.5h0.8v0.8h-0.8zM345.7 415.6h0.8v0.8h-0.8z" fill="#000" fill-opacity="0.6"/>
<path d="M346.1 414.8h0.8v0.8h-0.8zM349.4 415.1h0.8v0.8h-0.8zM349.8 413.5h0.8v0.8h-0.8zM344.6 411.9h0.8v0.8h-0.8zM343.8 414.5h0.8v0.8h-0.8zM349.8 413.0h0.8v0.8h-0.8zM344.5 414.2h0.8v0.8h-0.8zM344.7 414.3h0.8v0.8h-0.8zM342.5 417.4h0.8v0.8h-0.8zM346.7 412.4h0.8v0.8h-0.8zM349.5 415.2h0.8v0.8h-0.8zM348.5 417.1h0.8v0.8h-0.8zM349.6 414.7h0.8v0.8h-0.8zM344.3 412.6h0.8v0.8h-0.8zM348.9 413.4h0.8v0.8h-0.8zM346.8 415.1h0.8v0.8h-0.8zM349.7 414.5h0.8v0.8h-0.8zM346.1 414.3h0.8v0.8h-0.8zM366.2 402.1h0.8v0.8h-0.8zM357.3 401.2h0.8v0.8h-0.8zM354.9 404.9h0.8v0.8h-0.8zM360.0 400.7h0.8v0.8h-0.8zM354.6 407.1h0.8v0.8h-0.8zM357.4 402.6h0.8v0.8h-0.8zM358.8 403.0h0.8v0.8h-0.8zM353.7 400.8h0.8v0.8h-0.8zM358.6 401.3h0.8v0.8h-0.8zM354.5 401.4h0.8v0.8h-0.8zM363.6 407.5h0.8v0.8h-0.8zM356.1 403.9h0.8v0.8h-0.8zM360.1 408.0h0.8v0.8h-0.8zM354.0 406.8h0.8v0.8h-0.8zM361.6 405.0h0.8v0.8h-0.8zM353.3 406.2h0.8v0.8h-0.8zM357.9 400.9h0.8v0.8h-0.8zM357.6 404.3h0.8v0.8h-0.8zM357.5 402.5h0.8v0.8h-0.8zM361.3 407.7h0.8v0.8h-0.8zM360.2 398.4h0.8v0.8h-0.8zM358.8 402.0h0.8v0.8h-0.8zM353.4 406.7h0.8v0.8h-0.8zM355.0 404.7h0.8v0.8h-0.8zM359.8 404.7h0.8v0.8h-0.8zM355.7 397.5h0.8v0.8h-0.8zM361.3 406.5h0.8v0.8h-0.8zM356.7 396.7h0.8v0.8h-0.8zM357.3 405.4h0.8v0.8h-0.8zM354.2 400.8h0.8v0.8h-0.8zM352.8 400.4h0.8v0.8h-0.8zM354.4 403.0h0.8v0.8h-0.8zM356.4 406.4h0.8v0.8h-0.8zM357.7 398.7h0.8v0.8h-0.8zM358.3 401.8h0.8v0.8h-0.8zM353.7 405.2h0.8v0.8h-0.8zM351.8 403.9h0.8v0.8h-0.8zM356.9 404.7h0.8v0.8h-0.8zM353.5 404.9h0.8v0.8h-0.8zM360.8 402.1h0.8v0.8h-0.8zM352.4 404.7h0.8v0.8h-0.8zM358.1 401.8h0.8v0.8h-0.8zM359.9 408.0h0.8v0.8h-0.8zM358.2 404.0h0.8v0.8h-0.8zM356.6 400.8h0.8v0.8h-0.8zM352.7 399.5h0.8v0.8h-0.8zM358.9 407.4h0.8v0.8h-0.8zM357.3 397.0h0.8v0.8h-0.8zM364.4 397.7h0.8v0.8h-0.8zM352.5 401.4h0.8v0.8h-0.8zM355.1 403.8h0.8v0.8h-0.8zM361.3 406.2h0.8v0.8h-0.8zM355.9 406.3h0.8v0.8h-0.8zM355.9 398.1h0.8v0.8h-0.8zM349.4 402.8h0.8v0.8h-0.8zM357.9 398.3h0.8v0.8h-0.8zM355.9 406.7h0.8v0.8h-0.8zM353.9 401.1h0.8v0.8h-0.8zM357.6 401.8h0.8v0.8h-0.8zM367.6 402.7h0.8v0.8h-0.8zM354.4 402.1h0.8v0.8h-0.8zM362.2 407.7h0.8v0.8h-0.8zM358.7 407.2h0.8v0.8h-0.8zM355.6 407.4h0.8v0.8h-0.8zM358.2 403.0h0.8v0.8h-0.8zM360.7 396.4h0.8v0.8h-0.8zM365.8 398.2h0.8v0.8h-0.8zM354.6 404.8h0.8v0.8h-0.8zM357.2 402.0h0.8v0.8h-0.8zM357.4 403.7h0.8v0.8h-0.8zM358.1 406.3h0.8v0.8h-0.8zM357.2 405.6h0.8v0.8h-0.8zM359.6 401.1h0.8v0.8h-0.8zM358.0 408.0h0.8v0.8h-0.8zM358.2 397.5h0.8v0.8h-0.8zM360.6 403.0h0.8v0.8h-0.8zM350.6 402.9h0.8v0.8h-0.8zM365.1 406.3h0.8v0.8h-0.8zM356.6 400.5h0.8v0.8h-0.8zM357.8 398.0h0.8v0.8h-0.8zM358.5 406.2h0.8v0.8h-0.8zM352.4 405.1h0.8v0.8h-0.8zM355.4 398.2h0.8v0.8h-0.8zM356.6 400.8h0.8v0.8h-0.8zM358.5 399.8h0.8v0.8h-0.8zM351.8 403.1h0.8v0.8h-0.8zM353.1 402.1h0.8v0.8h-0.8zM354.2 408.1h0.8v0.8h-0.8zM360.8 406.0h0.8v0.8h-0.8zM360.7 398.6h0.8v0.8h-0.8zM353.9 395.9h0.8v0.8h-0.8zM354.8 399.1h0.8v0.8h-0.8zM359.3 400.6h0.8v0.8h-0.8zM356.6 399.4h0.8v0.8h-0.8zM360.3 406.3h0.8v0.8h-0.8zM361.6 402.5h0.8v0.8h-0.8zM358.7 403.9h0.8v0.8h-0.8zM357.8 404.6h0.8v0.8h-0.8zM353.2 405.0h0.8v0.8h-0.8zM353.7 401.9h0.8v0.8h-0.8zM356.2 405.5h0.8v0.8h-0.8zM358.9 406.9h0.8v0.8h-0.8zM360.7 398.7h0.8v0.8h-0.8zM358.8 404.2h0.8v0.8h-0.8zM358.1 398.2h0.8v0.8h-0.8zM357.0 402.5h0.8v0.8h-0.8zM357.0 405.1h0.8v0.8h-0.8zM354.3 398.3h0.8v0.8h-0.8zM356.8 394.6h0.8v0.8h-0.8zM358.3 402.9h0.8v0.8h-0.8zM359.4 395.3h0.8v0.8h-0.8zM355.0 407.8h0.8v0.8h-0.8zM356.7 404.2h0.8v0.8h-0.8zM355.9 401.3h0.8v0.8h-0.8zM358.7 400.8h0.8v0.8h-0.8zM356.4 397.9h0.8v0.8h-0.8zM353.5 399.5h0.8v0.8h-0.8zM359.3 405.3h0.8v0.8h-0.8zM359.9 398.2h0.8v0.8h-0.8zM357.9 404.8h0.8v0.8h-0.8zM362.0 400.7h0.8v0.8h-0.8zM356.5 403.4h0.8v0.8h-0.8zM357.5 402.8h0.8v0.8h-0.8zM349.1 402.7h0.8v0.8h-0.8zM357.8 398.8h0.8v0.8h-0.8zM353.2 408.0h0.8v0.8h-0.8zM360.6 397.1h0.8v0.8h-0.8zM357.3 396.3h0.8v0.8h-0.8zM360.1 404.9h0.8v0.8h-0.8zM359.2 399.8h0.8v0.8h-0.8zM363.2 401.6h0.8v0.8h-0.8zM359.2 406.2h0.8v0.8h-0.8zM358.1 398.6h0.8v0.8h-0.8zM356.1 396.6h0.8v0.8h-0.8zM364.2 405.6h0.8v0.8h-0.8zM363.9 407.0h0.8v0.8h-0.8zM354.2 406.9h0.8v0.8h-0.8zM355.0 403.0h0.8v0.8h-0.8zM353.9 394.5h0.8v0.8h-0.8zM362.7 399.1h0.8v0.8h-0.8zM363.4 398.9h0.8v0.8h-0.8zM362.7 403.0h0.8v0.8h-0.8zM362.0 403.7h0.8v0.8h-0.8zM354.4 406.7h0.8v0.8h-0.8zM354.5 394.8h0.8v0.8h-0.8zM360.9 403.9h0.8v0.8h-0.8zM362.2 408.0h0.8v0.8h-0.8zM355.9 398.8h0.8v0.8h-0.8zM356.6 400.1h0.8v0.8h-0.8zM358.1 398.1h0.8v0.8h-0.8zM357.0 405.4h0.8v0.8h-0.8zM351.0 402.6h0.8v0.8h-0.8zM356.8 405.4h0.8v0.8h-0.8zM361.1 405.2h0.8v0.8h-0.8zM361.4 407.1h0.8v0.8h-0.8zM358.3 397.9h0.8v0.8h-0.8zM356.4 405.5h0.8v0.8h-0.8zM351.4 404.2h0.8v0.8h-0.8zM355.8 405.0h0.8v0.8h-0.8zM358.8 406.9h0.8v0.8h-0.8zM356.3 397.0h0.8v0.8h-0.8zM359.6 398.3h0.8v0.8h-0.8zM360.0 400.7h0.8v0.8h-0.8zM354.4 405.4h0.8v0.8h-0.8zM364.5 403.9h0.8v0.8h-0.8zM361.9 404.7h0.8v0.8h-0.8zM354.0 401.0h0.8v0.8h-0.8zM360.4 403.0h0.8v0.8h-0.8zM351.1 400.0h0.8v0.8h-0.8zM353.3 403.4h0.8v0.8h-0.8zM356.9 403.9h0.8v0.8h-0.8zM361.9 408.1h0.8v0.8h-0.8zM364.3 400.8h0.8v0.8h-0.8zM353.8 405.6h0.8v0.8h-0.8zM357.7 404.4h0.8v0.8h-0.8zM360.1 395.9h0.8v0.8h-0.8zM358.2 402.2h0.8v0.8h-0.8zM354.5 398.1h0.8v0.8h-0.8zM352.0 399.4h0.8v0.8h-0.8zM362.1 400.7h0.8v0.8h-0.8zM366.0 405.3h0.8v0.8h-0.8zM353.6 403.2h0.8v0.8h-0.8zM355.0 403.3h0.8v0.8h-0.8zM354.0 406.3h0.8v0.8h-0.8zM356.6 407.2h0.8v0.8h-0.8zM356.9 401.9h0.8v0.8h-0.8zM353.9 406.1h0.8v0.8h-0.8zM355.6 401.7h0.8v0.8h-0.8zM356.9 404.8h0.8v0.8h-0.8zM355.3 403.2h0.8v0.8h-0.8zM354.7 400.4h0.8v0.8h-0.8zM357.3 406.8h0.8v0.8h-0.8zM337.5 416.8h0.8v0.8h-0.8zM342.9 419.5h0.8v0.8h-0.8zM346.1 416.6h0.8v0.8h-0.8zM346.0 418.4h0.8v0.8h-0.8zM339.5 415.7h0.8v0.8h-0.8zM344.5 416.6h0.8v0.8h-0.8zM339.4 415.5h0.8v0.8h-0.8zM335.0 416.8h0.8v0.8h-0.8zM339.0 415.6h0.8v0.8h-0.8zM341.3 415.4h0.8v0.8h-0.8zM345.9 414.1h0.8v0.8h-0.8zM339.3 415.5h0.8v0.8h-0.8zM344.0 414.7h0.8v0.8h-0.8zM345.4 416.9h0.8v0.8h-0.8zM347.3 414.6h0.8v0.8h-0.8zM343.3 416.8h0.8v0.8h-0.8zM342.3 414.1h0.8v0.8h-0.8zM345.8 415.1h0.8v0.8h-0.8zM344.9 414.2h0.8v0.8h-0.8zM345.2 417.3h0.8v0.8h-0.8zM343.5 413.6h0.8v0.8h-0.8zM344.3 419.1h0.8v0.8h-0.8zM346.8 418.2h0.8v0.8h-0.8zM348.5 413.2h0.8v0.8h-0.8zM344.7 418.4h0.8v0.8h-0.8zM346.5 415.5h0.8v0.8h-0.8zM342.3 416.1h0.8v0.8h-0.8zM343.5 414.6h0.8v0.8h-0.8zM347.1 414.9h0.8v0.8h-0.8zM347.7 413.6h0.8v0.8h-0.8zM345.8 418.6h0.8v0.8h-0.8zM346.3 416.8h0.8v0.8h-0.8zM344.5 413.7h0.8v0.8h-0.8zM342.2 415.3h0.8v0.8h-0.8zM344.3 415.6h0.8v0.8h-0.8zM341.8 419.2h0.8v0.8h-0.8zM340.7 416.7h0.8v0.8h-0.8zM347.7 415.0h0.8v0.8h-0.8zM341.7 415.6h0.8v0.8h-0.8zM338.9 412.8h0.8v0.8h-0.8zM338.7 414.5h0.8v0.8h-0.8zM339.5 415.0h0.8v0.8h-0.8zM344.3 414.2h0.8v0.8h-0.8zM340.7 413.4h0.8v0.8h-0.8zM339.3 412.0h0.8v0.8h-0.8zM335.6 414.9h0.8v0.8h-0.8zM336.5 416.1h0.8v0.8h-0.8zM348.8 419.5h0.8v0.8h-0.8zM346.9 417.6h0.8v0.8h-0.8zM343.4 413.6h0.8v0.8h-0.8zM348.6 413.4h0.8v0.8h-0.8z" fill="#000" fill-opacity="0.7"/>
<path d="M347.1 415.0h0.8v0.8h-0.8zM346.4 414.2h0.8v0.8h-0.8zM348.1 414.9h0.8v0.8h-0.8zM348.3 416.0h0.8v0.8h-0.8zM350.5 413.3h0.8v0.8h-0.8zM344.9 414.6h0.8v0.8h-0.8zM349.8 412.5h0.8v0.8h-0.8zM346.8 411.2h0.8v0.8h-0.8zM349.6 412.8h0.8v0.8h-0.8zM348.0 412.5h0.8v0.8h-0.8zM350.4 414.4h0.8v0.8h-0.8zM349.1 414.6h0.8v0.8h-0.8zM363.6 406.7h0.8v0.8h-0.8zM359.4 401.9h0.8v0.8h-0.8zM356.3 407.3h0.8v0.8h-0.8zM356.0 407.6h0.8v0.8h-0.8zM352.0 403.4h0.8v0.8h-0.8zM353.2 406.0h0.8v0.8h-0.8zM358.8 406.9h0.8v0.8h-0.8zM360.6 404.2h0.8v0.8h-0.8zM362.2 404.3h0.8v0.8h-0.8zM360.9 407.3h0.8v0.8h-0.8zM350.0 404.3h0.8v0.8h-0.8zM362.0 407.0h0.8v0.8h-0.8zM353.0 402.4h0.8v0.8h-0.8zM352.7 407.3h0.8v0.8h-0.8zM359.3 406.5h0.8v0.8h-0.8zM354.9 403.5h0.8v0.8h-0.8zM354.4 406.1h0.8v0.8h-0.8zM356.7 405.4h0.8v0.8h-0.8zM352.8 406.8h0.8v0.8h-0.8zM353.1 403.2h0.8v0.8h-0.8zM362.4 405.5h0.8v0.8h-0.8zM355.5 405.1h0.8v0.8h-0.8zM359.1 404.1h0.8v0.8h-0.8zM356.6 405.5h0.8v0.8h-0.8zM364.5 407.9h0.8v0.8h-0.8zM355.6 402.6h0.8v0.8h-0.8zM361.9 406.3h0.8v0.8h-0.8zM355.9 405.2h0.8v0.8h-0.8zM353.5 407.8h0.8v0.8h-0.8zM358.4 407.4h0.8v0.8h-0.8zM357.3 407.9h0.8v0.8h-0.8zM356.4 406.3h0.8v0.8h-0.8zM360.8 400.8h0.8v0.8h-0.8zM355.3 403.7h0.8v0.8h-0.8zM352.6 406.3h0.8v0.8h-0.8zM361.7 403.8h0.8v0.8h-0.8zM363.4 404.9h0.8v0.8h-0.8zM354.0 407.3h0.8v0.8h-0.8zM358.5 404.9h0.8v0.8h-0.8zM358.2 405.8h0.8v0.8h-0.8zM358.4 404.4h0.8v0.8h-0.8zM352.4 407.2h0.8v0.8h-0.8zM358.1 404.6h0.8v0.8h-0.8zM356.4 407.0h0.8v0.8h-0.8zM357.9 406.5h0.8v0.8h-0.8zM364.3 407.4h0.8v0.8h-0.8zM354.9 407.5h0.8v0.8h-0.8zM360.6 402.5h0.8v0.8h-0.8zM354.7 407.1h0.8v0.8h-0.8zM356.9 403.3h0.8v0.8h-0.8zM360.5 407.3h0.8v0.8h-0.8zM355.6 402.7h0.8v0.8h-0.8zM355.9 408.1h0.8v0.8h-0.8zM360.8 405.0h0.8v0.8h-0.8zM352.9 407.0h0.8v0.8h-0.8zM360.1 407.2h0.8v0.8h-0.8zM358.2 399.2h0.8v0.8h-0.8zM356.4 408.0h0.8v0.8h-0.8zM356.9 405.5h0.8v0.8h-0.8zM356.5 406.4h0.8v0.8h-0.8zM357.7 407.0h0.8v0.8h-0.8zM356.5 404.4h0.8v0.8h-0.8zM360.0 402.2h0.8v0.8h-0.8zM350.0 407.1h0.8v0.8h-0.8zM357.8 406.1h0.8v0.8h-0.8zM351.6 405.6h0.8v0.8h-0.8z" fill="#000" fill-opacity="0.8"/>
<path d="M349.8 412.5h0.8v0.8h-0.8zM349.6 414.9h0.8v0.8h-0.8zM348.4 413.5h0.8v0.8h-0.8zM350.1 415.3h0.8v0.8h-0.8zM350.3 412.5h0.8v0.8h-0.8zM350.0 413.1h0.8v0.8h-0.8zM350.4 415.4h0.8v0.8h-0.8zM348.7 415.3h0.8v0.8h-0.8zM350.2 411.6h0.8v0.8h-0.8zM350.2 414.3h0.8v0.8h-0.8zM348.6 414.8h0.8v0.8h-0.8zM349.1 413.3h0.8v0.8h-0.8zM347.9 415.6h0.8v0.8h-0.8zM350.0 413.4h0.8v0.8h-0.8z" fill="#000" fill-opacity="0.9"/>
<path d="M353.5,408.6 Q357,400.1 361,408.6 Z" fill="#fff" stroke="#333" stroke-width="0.9"/>
<rect x="340.7" y="354.3" width="31.5" height="53.80000000000001" fill="none" stroke="#111" stroke-width="1"/>
<rect x="311" y="348.8" width="90.80000000000001" height="90.19999999999999" fill="none" stroke="#000" stroke-width="1.1"/>
<line x1="309.5" y1="359" x2="311" y2="359" stroke="#111" stroke-width="0.7" />
<line x1="309.8" y1="362" x2="311" y2="362" stroke="#111" stroke-width="0.7" />
<line x1="309.8" y1="364.5" x2="311" y2="364.5" stroke="#111" stroke-width="0.7" />
<line x1="309.8" y1="367" x2="311" y2="367" stroke="#111" stroke-width="0.7" />
<line x1="309.8" y1="370" x2="311" y2="370" stroke="#111" stroke-width="0.7" />
<line x1="308" y1="378.2" x2="311" y2="378.2" stroke="#111" stroke-width="0.7" />
<line x1="309.8" y1="385" x2="311" y2="385" stroke="#111" stroke-width="0.7" />
<line x1="309.8" y1="390" x2="311" y2="390" stroke="#111" stroke-width="0.7" />
<line x1="309.8" y1="395" x2="311" y2="395" stroke="#111" stroke-width="0.7" />
<line x1="308" y1="403.2" x2="311" y2="403.2" stroke="#111" stroke-width="0.7" />
<line x1="309.7" y1="415" x2="311" y2="415" stroke="#111" stroke-width="0.7" />
<line x1="308" y1="428" x2="311" y2="428" stroke="#111" stroke-width="0.7" />
<line x1="309.8" y1="433" x2="311" y2="433" stroke="#111" stroke-width="0.7" />
<line x1="309.8" y1="436" x2="311" y2="436" stroke="#111" stroke-width="0.7" />
<line x1="314.0" y1="439" x2="314.0" y2="441.6" stroke="#111" stroke-width="0.7" />
<line x1="319.27" y1="439" x2="319.27" y2="440.4" stroke="#111" stroke-width="0.7" />
<line x1="322.35" y1="439" x2="322.35" y2="440.4" stroke="#111" stroke-width="0.7" />
<line x1="324.54" y1="439" x2="324.54" y2="440.4" stroke="#111" stroke-width="0.7" />
<line x1="326.23" y1="439" x2="326.23" y2="440.4" stroke="#111" stroke-width="0.7" />
<line x1="327.62" y1="439" x2="327.62" y2="440.4" stroke="#111" stroke-width="0.7" />
<line x1="328.79" y1="439" x2="328.79" y2="440.4" stroke="#111" stroke-width="0.7" />
<line x1="329.8" y1="439" x2="329.8" y2="440.4" stroke="#111" stroke-width="0.7" />
<line x1="330.7" y1="439" x2="330.7" y2="440.4" stroke="#111" stroke-width="0.7" />
<line x1="331.5" y1="439" x2="331.5" y2="441.6" stroke="#111" stroke-width="0.7" />
<line x1="336.77" y1="439" x2="336.77" y2="440.4" stroke="#111" stroke-width="0.7" />
<line x1="339.85" y1="439" x2="339.85" y2="440.4" stroke="#111" stroke-width="0.7" />
<line x1="342.04" y1="439" x2="342.04" y2="440.4" stroke="#111" stroke-width="0.7" />
<line x1="343.73" y1="439" x2="343.73" y2="440.4" stroke="#111" stroke-width="0.7" />
<line x1="345.12" y1="439" x2="345.12" y2="440.4" stroke="#111" stroke-width="0.7" />
<line x1="346.29" y1="439" x2="346.29" y2="440.4" stroke="#111" stroke-width="0.7" />
<line x1="347.3" y1="439" x2="347.3" y2="440.4" stroke="#111" stroke-width="0.7" />
<line x1="348.2" y1="439" x2="348.2" y2="440.4" stroke="#111" stroke-width="0.7" />
<line x1="349.0" y1="439" x2="349.0" y2="441.6" stroke="#111" stroke-width="0.7" />
<line x1="354.27" y1="439" x2="354.27" y2="440.4" stroke="#111" stroke-width="0.7" />
<line x1="357.35" y1="439" x2="357.35" y2="440.4" stroke="#111" stroke-width="0.7" />
<line x1="359.54" y1="439" x2="359.54" y2="440.4" stroke="#111" stroke-width="0.7" />
<line x1="361.23" y1="439" x2="361.23" y2="440.4" stroke="#111" stroke-width="0.7" />
<line x1="362.62" y1="439" x2="362.62" y2="440.4" stroke="#111" stroke-width="0.7" />
<line x1="363.79" y1="439" x2="363.79" y2="440.4" stroke="#111" stroke-width="0.7" />
<line x1="364.8" y1="439" x2="364.8" y2="440.4" stroke="#111" stroke-width="0.7" />
<line x1="365.7" y1="439" x2="365.7" y2="440.4" stroke="#111" stroke-width="0.7" />
<line x1="366.5" y1="439" x2="366.5" y2="441.6" stroke="#111" stroke-width="0.7" />
<line x1="371.77" y1="439" x2="371.77" y2="440.4" stroke="#111" stroke-width="0.7" />
<line x1="374.85" y1="439" x2="374.85" y2="440.4" stroke="#111" stroke-width="0.7" />
<line x1="377.04" y1="439" x2="377.04" y2="440.4" stroke="#111" stroke-width="0.7" />
<line x1="378.73" y1="439" x2="378.73" y2="440.4" stroke="#111" stroke-width="0.7" />
<line x1="380.12" y1="439" x2="380.12" y2="440.4" stroke="#111" stroke-width="0.7" />
<line x1="381.29" y1="439" x2="381.29" y2="440.4" stroke="#111" stroke-width="0.7" />
<line x1="382.3" y1="439" x2="382.3" y2="440.4" stroke="#111" stroke-width="0.7" />
<line x1="383.2" y1="439" x2="383.2" y2="440.4" stroke="#111" stroke-width="0.7" />
<line x1="384.0" y1="439" x2="384.0" y2="441.6" stroke="#111" stroke-width="0.7" />
<line x1="389.27" y1="439" x2="389.27" y2="440.4" stroke="#111" stroke-width="0.7" />
<line x1="392.35" y1="439" x2="392.35" y2="440.4" stroke="#111" stroke-width="0.7" />
<line x1="394.54" y1="439" x2="394.54" y2="440.4" stroke="#111" stroke-width="0.7" />
<line x1="396.23" y1="439" x2="396.23" y2="440.4" stroke="#111" stroke-width="0.7" />
<line x1="397.62" y1="439" x2="397.62" y2="440.4" stroke="#111" stroke-width="0.7" />
<line x1="398.79" y1="439" x2="398.79" y2="440.4" stroke="#111" stroke-width="0.7" />
<line x1="399.8" y1="439" x2="399.8" y2="440.4" stroke="#111" stroke-width="0.7" />
<line x1="400.7" y1="439" x2="400.7" y2="440.4" stroke="#111" stroke-width="0.7" />
<text x="377" y="383.8" font-size="8.6" text-anchor="start" fill="#222" font-weight="normal" textLength="17.5" lengthAdjust="spacingAndGlyphs" >6.2%</text>
<ellipse cx="467" cy="414.4" rx="11.2" ry="5" fill="#b0b0b0" stroke="#555" stroke-width="0.9"/>
<ellipse cx="463.5" cy="413.2" rx="6.16" ry="3.0" fill="#fff" opacity="0.85"/>
<ellipse cx="468.2" cy="415.0" rx="5.6" ry="2.75" fill="url(#blobg)" stroke="#666" stroke-width="0.5"/>
<path d="M508.3 384.7h0.8v0.8h-0.8zM504.7 409.6h0.8v0.8h-0.8zM506.3 379.8h0.8v0.8h-0.8zM459.6 382.7h0.8v0.8h-0.8zM445.5 410.6h0.8v0.8h-0.8zM463.1 374.2h0.8v0.8h-0.8zM474.5 389.5h0.8v0.8h-0.8zM460.2 364.7h0.8v0.8h-0.8zM496.5 378.2h0.8v0.8h-0.8zM457.4 399.1h0.8v0.8h-0.8zM458.8 389.7h0.8v0.8h-0.8zM478.4 406.9h0.8v0.8h-0.8zM458.2 392.8h0.8v0.8h-0.8zM454.4 402.3h0.8v0.8h-0.8zM459.2 386.3h0.8v0.8h-0.8zM462.0 382.1h0.8v0.8h-0.8zM457.2 396.4h0.8v0.8h-0.8zM455.9 398.7h0.8v0.8h-0.8zM458.3 383.1h0.8v0.8h-0.8zM456.9 404.9h0.8v0.8h-0.8zM458.9 386.3h0.8v0.8h-0.8zM460.3 385.2h0.8v0.8h-0.8zM458.2 390.1h0.8v0.8h-0.8zM454.1 392.8h0.8v0.8h-0.8zM454.1 395.7h0.8v0.8h-0.8zM479.7 394.9h0.8v0.8h-0.8zM452.8 401.2h0.8v0.8h-0.8zM456.2 392.6h0.8v0.8h-0.8zM449.9 396.4h0.8v0.8h-0.8zM456.8 395.3h0.8v0.8h-0.8zM454.6 402.0h0.8v0.8h-0.8zM457.4 401.1h0.8v0.8h-0.8zM478.2 397.2h0.8v0.8h-0.8zM457.7 388.1h0.8v0.8h-0.8zM474.9 384.4h0.8v0.8h-0.8zM454.3 406.2h0.8v0.8h-0.8zM459.0 388.9h0.8v0.8h-0.8zM457.6 388.9h0.8v0.8h-0.8zM478.8 405.9h0.8v0.8h-0.8zM458.4 382.3h0.8v0.8h-0.8zM457.3 407.9h0.8v0.8h-0.8zM478.6 392.2h0.8v0.8h-0.8zM475.5 383.5h0.8v0.8h-0.8zM454.7 395.5h0.8v0.8h-0.8zM459.7 387.4h0.8v0.8h-0.8zM460.2 385.8h0.8v0.8h-0.8zM449.9 405.7h0.8v0.8h-0.8zM453.1 387.4h0.8v0.8h-0.8zM477.0 390.4h0.8v0.8h-0.8zM458.3 394.9h0.8v0.8h-0.8zM457.5 400.1h0.8v0.8h-0.8zM456.6 396.2h0.8v0.8h-0.8zM474.6 384.6h0.8v0.8h-0.8zM457.1 400.6h0.8v0.8h-0.8zM455.0 401.2h0.8v0.8h-0.8zM457.2 391.1h0.8v0.8h-0.8zM457.2 396.0h0.8v0.8h-0.8zM455.4 400.6h0.8v0.8h-0.8zM456.0 403.7h0.8v0.8h-0.8zM477.6 407.6h0.8v0.8h-0.8zM456.3 399.7h0.8v0.8h-0.8zM458.7 392.5h0.8v0.8h-0.8zM460.4 383.2h0.8v0.8h-0.8zM463.0 381.8h0.8v0.8h-0.8zM458.5 389.4h0.8v0.8h-0.8zM455.5 391.8h0.8v0.8h-0.8zM457.5 389.4h0.8v0.8h-0.8zM456.7 391.9h0.8v0.8h-0.8zM458.7 390.1h0.8v0.8h-0.8zM458.5 394.2h0.8v0.8h-0.8zM478.4 401.2h0.8v0.8h-0.8zM479.4 399.2h0.8v0.8h-0.8zM478.7 406.5h0.8v0.8h-0.8zM479.3 406.1h0.8v0.8h-0.8zM447.6 390.5h0.8v0.8h-0.8zM457.2 399.6h0.8v0.8h-0.8zM460.4 382.4h0.8v0.8h-0.8zM454.7 389.5h0.8v0.8h-0.8zM457.6 385.3h0.8v0.8h-0.8zM456.7 391.5h0.8v0.8h-0.8zM461.9 382.4h0.8v0.8h-0.8zM478.1 406.7h0.8v0.8h-0.8zM454.6 403.8h0.8v0.8h-0.8zM454.1 400.4h0.8v0.8h-0.8zM457.2 400.6h0.8v0.8h-0.8zM457.5 403.7h0.8v0.8h-0.8zM452.8 384.9h0.8v0.8h-0.8zM455.9 392.4h0.8v0.8h-0.8zM458.8 383.8h0.8v0.8h-0.8zM458.8 384.6h0.8v0.8h-0.8zM457.0 396.9h0.8v0.8h-0.8zM476.0 384.7h0.8v0.8h-0.8zM477.3 397.4h0.8v0.8h-0.8zM457.0 393.9h0.8v0.8h-0.8zM454.4 402.3h0.8v0.8h-0.8zM475.7 388.3h0.8v0.8h-0.8zM458.9 391.3h0.8v0.8h-0.8zM458.9 385.6h0.8v0.8h-0.8zM457.8 404.7h0.8v0.8h-0.8zM455.1 394.9h0.8v0.8h-0.8zM478.0 385.0h0.8v0.8h-0.8zM458.5 390.7h0.8v0.8h-0.8zM457.9 404.5h0.8v0.8h-0.8zM458.3 396.1h0.8v0.8h-0.8zM477.0 394.9h0.8v0.8h-0.8zM451.9 403.0h0.8v0.8h-0.8zM456.1 394.4h0.8v0.8h-0.8zM458.3 393.3h0.8v0.8h-0.8zM457.2 397.0h0.8v0.8h-0.8zM460.9 383.3h0.8v0.8h-0.8zM456.4 402.6h0.8v0.8h-0.8zM477.3 399.7h0.8v0.8h-0.8zM456.5 399.9h0.8v0.8h-0.8zM457.6 406.0h0.8v0.8h-0.8zM477.1 395.9h0.8v0.8h-0.8zM477.4 387.8h0.8v0.8h-0.8zM459.4 388.0h0.8v0.8h-0.8zM455.8 406.6h0.8v0.8h-0.8zM457.0 396.7h0.8v0.8h-0.8zM458.0 397.1h0.8v0.8h-0.8zM460.0 401.7h0.8v0.8h-0.8zM463.6 379.2h0.8v0.8h-0.8zM467.7 375.5h0.8v0.8h-0.8zM467.1 360.2h0.8v0.8h-0.8zM460.6 395.2h0.8v0.8h-0.8zM457.7 391.4h0.8v0.8h-0.8zM475.7 376.8h0.8v0.8h-0.8zM470.5 384.1h0.8v0.8h-0.8zM467.1 370.1h0.8v0.8h-0.8zM454.2 403.0h0.8v0.8h-0.8zM466.6 353.0h0.8v0.8h-0.8zM464.8 358.2h0.8v0.8h-0.8zM461.0 368.7h0.8v0.8h-0.8zM457.0 396.9h0.8v0.8h-0.8zM461.3 398.6h0.8v0.8h-0.8zM473.0 383.4h0.8v0.8h-0.8zM472.2 372.3h0.8v0.8h-0.8zM471.9 380.9h0.8v0.8h-0.8zM460.0 373.3h0.8v0.8h-0.8zM460.6 379.9h0.8v0.8h-0.8zM456.4 349.9h0.8v0.8h-0.8zM472.7 374.0h0.8v0.8h-0.8zM452.7 371.8h0.8v0.8h-0.8zM478.9 401.2h0.8v0.8h-0.8zM482.7 395.5h0.8v0.8h-0.8zM471.6 382.3h0.8v0.8h-0.8zM477.1 390.0h0.8v0.8h-0.8zM465.5 365.4h0.8v0.8h-0.8zM465.5 362.9h0.8v0.8h-0.8zM469.2 370.0h0.8v0.8h-0.8zM475.5 372.8h0.8v0.8h-0.8zM455.2 398.5h0.8v0.8h-0.8zM471.4 385.7h0.8v0.8h-0.8zM475.1 372.7h0.8v0.8h-0.8zM467.4 380.5h0.8v0.8h-0.8zM465.8 378.2h0.8v0.8h-0.8zM476.1 401.6h0.8v0.8h-0.8zM473.9 399.1h0.8v0.8h-0.8zM458.3 397.0h0.8v0.8h-0.8zM460.2 378.6h0.8v0.8h-0.8zM473.8 396.5h0.8v0.8h-0.8zM468.5 363.0h0.8v0.8h-0.8z" fill="#000" fill-opacity="0.1"/>
<path d="M474.5 380.3h0.8v0.8h-0.8zM469.1 404.8h0.8v0.8h-0.8zM441.7 405.5h0.8v0.8h-0.8zM424.4 424.7h0.8v0.8h-0.8zM508.0 370.8h0.8v0.8h-0.8zM474.4 407.8h0.8v0.8h-0.8zM479.0 400.7h0.8v0.8h-0.8zM494.3 407.6h0.8v0.8h-0.8zM432.3 400.0h0.8v0.8h-0.8zM451.4 382.6h0.8v0.8h-0.8zM490.9 408.3h0.8v0.8h-0.8zM495.4 419.0h0.8v0.8h-0.8zM488.4 386.4h0.8v0.8h-0.8zM463.4 405.1h0.8v0.8h-0.8zM469.0 390.3h0.8v0.8h-0.8zM470.3 401.5h0.8v0.8h-0.8zM501.8 379.5h0.8v0.8h-0.8zM483.0 369.7h0.8v0.8h-0.8zM483.5 410.1h0.8v0.8h-0.8zM448.3 367.4h0.8v0.8h-0.8zM451.6 356.1h0.8v0.8h-0.8zM471.9 379.4h0.8v0.8h-0.8zM463.8 390.8h0.8v0.8h-0.8zM440.2 389.3h0.8v0.8h-0.8zM484.0 361.6h0.8v0.8h-0.8zM471.3 399.2h0.8v0.8h-0.8zM498.5 389.4h0.8v0.8h-0.8zM490.9 381.1h0.8v0.8h-0.8zM450.5 368.4h0.8v0.8h-0.8zM448.9 414.5h0.8v0.8h-0.8zM464.4 379.1h0.8v0.8h-0.8zM430.1 389.4h0.8v0.8h-0.8zM472.2 354.4h0.8v0.8h-0.8zM497.4 410.5h0.8v0.8h-0.8zM446.6 390.1h0.8v0.8h-0.8zM498.0 405.5h0.8v0.8h-0.8zM459.9 382.5h0.8v0.8h-0.8zM498.1 422.9h0.8v0.8h-0.8zM509.0 406.5h0.8v0.8h-0.8zM469.5 416.6h0.8v0.8h-0.8zM458.2 412.9h0.8v0.8h-0.8zM461.6 414.1h0.8v0.8h-0.8zM477.3 368.7h0.8v0.8h-0.8zM425.2 408.6h0.8v0.8h-0.8zM440.1 410.8h0.8v0.8h-0.8zM430.5 412.8h0.8v0.8h-0.8zM433.1 414.5h0.8v0.8h-0.8zM431.4 412.7h0.8v0.8h-0.8zM447.2 417.4h0.8v0.8h-0.8zM439.2 414.4h0.8v0.8h-0.8zM435.2 413.9h0.8v0.8h-0.8zM450.8 414.2h0.8v0.8h-0.8zM432.1 415.0h0.8v0.8h-0.8zM436.2 418.0h0.8v0.8h-0.8zM442.4 411.3h0.8v0.8h-0.8zM425.2 413.0h0.8v0.8h-0.8zM440.2 411.0h0.8v0.8h-0.8zM432.2 411.6h0.8v0.8h-0.8zM443.5 412.7h0.8v0.8h-0.8zM430.1 418.0h0.8v0.8h-0.8zM433.4 409.9h0.8v0.8h-0.8zM432.6 415.9h0.8v0.8h-0.8zM436.9 418.6h0.8v0.8h-0.8zM423.3 415.3h0.8v0.8h-0.8zM438.3 413.1h0.8v0.8h-0.8zM436.3 415.5h0.8v0.8h-0.8zM452.8 414.7h0.8v0.8h-0.8zM432.2 414.4h0.8v0.8h-0.8zM434.6 415.0h0.8v0.8h-0.8zM454.8 413.7h0.8v0.8h-0.8zM428.9 414.0h0.8v0.8h-0.8zM422.9 412.3h0.8v0.8h-0.8zM427.8 415.3h0.8v0.8h-0.8zM438.3 412.8h0.8v0.8h-0.8zM433.1 416.6h0.8v0.8h-0.8zM432.2 415.8h0.8v0.8h-0.8zM439.6 415.4h0.8v0.8h-0.8zM442.4 416.4h0.8v0.8h-0.8zM427.0 413.9h0.8v0.8h-0.8zM451.8 412.4h0.8v0.8h-0.8zM428.1 413.0h0.8v0.8h-0.8zM444.6 415.3h0.8v0.8h-0.8zM433.8 414.0h0.8v0.8h-0.8zM432.0 414.0h0.8v0.8h-0.8zM450.4 413.3h0.8v0.8h-0.8zM435.1 412.4h0.8v0.8h-0.8zM433.4 415.1h0.8v0.8h-0.8zM434.7 413.8h0.8v0.8h-0.8zM452.4 414.0h0.8v0.8h-0.8zM431.3 409.9h0.8v0.8h-0.8zM429.5 414.4h0.8v0.8h-0.8zM430.0 416.9h0.8v0.8h-0.8zM434.9 414.5h0.8v0.8h-0.8zM431.8 416.1h0.8v0.8h-0.8zM426.2 412.1h0.8v0.8h-0.8zM429.6 419.9h0.8v0.8h-0.8zM439.2 412.5h0.8v0.8h-0.8zM445.9 413.7h0.8v0.8h-0.8zM438.5 417.8h0.8v0.8h-0.8zM434.4 417.4h0.8v0.8h-0.8zM436.1 415.2h0.8v0.8h-0.8zM429.3 414.3h0.8v0.8h-0.8zM429.9 417.0h0.8v0.8h-0.8zM435.3 418.7h0.8v0.8h-0.8zM447.2 417.5h0.8v0.8h-0.8zM429.3 414.2h0.8v0.8h-0.8zM425.7 414.6h0.8v0.8h-0.8zM435.6 413.8h0.8v0.8h-0.8zM426.5 415.4h0.8v0.8h-0.8zM439.5 412.2h0.8v0.8h-0.8zM447.6 412.9h0.8v0.8h-0.8zM427.0 413.7h0.8v0.8h-0.8zM435.4 411.1h0.8v0.8h-0.8zM431.0 414.0h0.8v0.8h-0.8zM434.9 410.5h0.8v0.8h-0.8zM450.4 412.1h0.8v0.8h-0.8zM450.3 413.9h0.8v0.8h-0.8zM439.7 412.5h0.8v0.8h-0.8zM436.4 412.9h0.8v0.8h-0.8zM452.3 414.2h0.8v0.8h-0.8zM427.7 414.5h0.8v0.8h-0.8zM454.3 415.0h0.8v0.8h-0.8zM447.7 411.9h0.8v0.8h-0.8zM435.0 415.5h0.8v0.8h-0.8zM435.0 411.3h0.8v0.8h-0.8zM432.5 419.1h0.8v0.8h-0.8zM426.4 417.2h0.8v0.8h-0.8zM448.2 414.0h0.8v0.8h-0.8zM432.7 414.7h0.8v0.8h-0.8zM436.0 414.0h0.8v0.8h-0.8zM430.8 413.0h0.8v0.8h-0.8zM435.5 410.3h0.8v0.8h-0.8zM423.4 415.8h0.8v0.8h-0.8zM437.2 409.5h0.8v0.8h-0.8zM434.1 415.7h0.8v0.8h-0.8zM447.1 409.5h0.8v0.8h-0.8zM434.0 419.5h0.8v0.8h-0.8zM430.3 414.0h0.8v0.8h-0.8zM423.6 416.4h0.8v0.8h-0.8zM432.2 416.8h0.8v0.8h-0.8zM423.9 410.3h0.8v0.8h-0.8zM438.0 415.2h0.8v0.8h-0.8zM446.6 416.6h0.8v0.8h-0.8zM448.8 414.4h0.8v0.8h-0.8zM455.6 413.9h0.8v0.8h-0.8zM423.8 417.7h0.8v0.8h-0.8zM427.8 414.0h0.8v0.8h-0.8zM436.5 412.1h0.8v0.8h-0.8zM434.7 413.0h0.8v0.8h-0.8zM441.2 413.1h0.8v0.8h-0.8zM440.6 415.1h0.8v0.8h-0.8zM430.8 415.8h0.8v0.8h-0.8zM444.8 418.5h0.8v0.8h-0.8zM451.7 411.1h0.8v0.8h-0.8zM439.3 411.4h0.8v0.8h-0.8zM437.7 410.3h0.8v0.8h-0.8zM440.9 417.1h0.8v0.8h-0.8zM447.7 411.6h0.8v0.8h-0.8zM439.3 416.0h0.8v0.8h-0.8zM442.5 415.2h0.8v0.8h-0.8zM425.3 413.8h0.8v0.8h-0.8zM431.1 417.5h0.8v0.8h-0.8zM435.9 415.0h0.8v0.8h-0.8zM429.4 415.3h0.8v0.8h-0.8zM431.9 413.3h0.8v0.8h-0.8zM446.6 415.8h0.8v0.8h-0.8zM476.4 397.2h0.8v0.8h-0.8zM458.5 407.4h0.8v0.8h-0.8zM459.8 390.8h0.8v0.8h-0.8zM459.2 394.3h0.8v0.8h-0.8zM459.0 396.2h0.8v0.8h-0.8zM476.7 402.5h0.8v0.8h-0.8zM475.7 392.6h0.8v0.8h-0.8zM459.5 391.8h0.8v0.8h-0.8zM474.6 385.6h0.8v0.8h-0.8zM476.9 403.8h0.8v0.8h-0.8zM458.1 405.4h0.8v0.8h-0.8zM477.0 403.1h0.8v0.8h-0.8zM474.3 386.1h0.8v0.8h-0.8zM476.4 394.9h0.8v0.8h-0.8zM458.3 403.3h0.8v0.8h-0.8zM458.8 397.0h0.8v0.8h-0.8zM461.6 384.1h0.8v0.8h-0.8zM477.2 406.5h0.8v0.8h-0.8zM477.0 402.4h0.8v0.8h-0.8zM458.6 400.7h0.8v0.8h-0.8zM477.0 403.9h0.8v0.8h-0.8zM461.3 384.0h0.8v0.8h-0.8zM459.1 395.1h0.8v0.8h-0.8zM458.7 399.0h0.8v0.8h-0.8zM458.4 403.0h0.8v0.8h-0.8zM477.0 399.8h0.8v0.8h-0.8zM458.1 406.5h0.8v0.8h-0.8zM459.0 394.1h0.8v0.8h-0.8zM477.2 400.5h0.8v0.8h-0.8zM458.4 399.8h0.8v0.8h-0.8zM458.2 403.7h0.8v0.8h-0.8zM458.8 396.7h0.8v0.8h-0.8zM476.8 394.7h0.8v0.8h-0.8zM468.0 370.0h0.8v0.8h-0.8zM468.1 374.6h0.8v0.8h-0.8zM467.6 380.8h0.8v0.8h-0.8zM468.0 382.8h0.8v0.8h-0.8zM469.1 383.0h0.8v0.8h-0.8zM463.5 373.0h0.8v0.8h-0.8zM472.1 373.9h0.8v0.8h-0.8zM466.4 379.7h0.8v0.8h-0.8zM468.3 372.6h0.8v0.8h-0.8zM466.0 376.1h0.8v0.8h-0.8zM465.1 377.5h0.8v0.8h-0.8zM468.0 380.1h0.8v0.8h-0.8zM464.6 381.5h0.8v0.8h-0.8zM472.8 369.1h0.8v0.8h-0.8zM466.7 382.3h0.8v0.8h-0.8zM465.9 379.1h0.8v0.8h-0.8zM475.0 368.3h0.8v0.8h-0.8zM473.2 375.5h0.8v0.8h-0.8zM462.5 382.4h0.8v0.8h-0.8zM461.7 383.2h0.8v0.8h-0.8zM468.7 373.0h0.8v0.8h-0.8zM470.8 369.9h0.8v0.8h-0.8zM457.6 383.4h0.8v0.8h-0.8zM472.4 380.2h0.8v0.8h-0.8zM463.5 379.5h0.8v0.8h-0.8zM470.0 381.1h0.8v0.8h-0.8zM473.0 373.3h0.8v0.8h-0.8zM465.1 382.5h0.8v0.8h-0.8zM464.1 363.0h0.8v0.8h-0.8zM458.3 377.4h0.8v0.8h-0.8zM472.2 381.2h0.8v0.8h-0.8zM461.3 375.5h0.8v0.8h-0.8zM468.3 374.5h0.8v0.8h-0.8zM467.5 379.5h0.8v0.8h-0.8zM466.3 375.5h0.8v0.8h-0.8zM472.2 380.1h0.8v0.8h-0.8zM465.6 375.5h0.8v0.8h-0.8zM467.6 381.0h0.8v0.8h-0.8zM470.0 377.0h0.8v0.8h-0.8zM466.9 372.2h0.8v0.8h-0.8zM464.7 382.1h0.8v0.8h-0.8zM466.1 383.3h0.8v0.8h-0.8zM469.6 372.8h0.8v0.8h-0.8zM462.9 379.8h0.8v0.8h-0.8zM469.6 378.1h0.8v0.8h-0.8zM465.6 376.1h0.8v0.8h-0.8zM466.4 381.0h0.8v0.8h-0.8zM468.2 378.6h0.8v0.8h-0.8zM466.5 380.3h0.8v0.8h-0.8zM467.6 372.1h0.8v0.8h-0.8zM476.2 378.3h0.8v0.8h-0.8zM458.5 395.6h0.8v0.8h-0.8zM476.0 394.2h0.8v0.8h-0.8zM479.8 391.6h0.8v0.8h-0.8zM477.9 378.8h0.8v0.8h-0.8zM476.3 374.6h0.8v0.8h-0.8zM463.5 380.4h0.8v0.8h-0.8zM456.9 396.8h0.8v0.8h-0.8zM454.0 384.2h0.8v0.8h-0.8zM470.9 373.5h0.8v0.8h-0.8zM464.0 369.5h0.8v0.8h-0.8zM472.1 363.5h0.8v0.8h-0.8zM463.7 372.1h0.8v0.8h-0.8zM463.6 385.4h0.8v0.8h-0.8zM458.1 405.7h0.8v0.8h-0.8zM478.2 384.0h0.8v0.8h-0.8zM461.4 397.6h0.8v0.8h-0.8zM461.5 386.1h0.8v0.8h-0.8zM453.0 380.6h0.8v0.8h-0.8zM477.2 397.2h0.8v0.8h-0.8zM460.6 401.9h0.8v0.8h-0.8zM473.0 376.6h0.8v0.8h-0.8zM455.8 376.6h0.8v0.8h-0.8zM456.9 381.0h0.8v0.8h-0.8zM454.6 364.7h0.8v0.8h-0.8zM477.6 407.0h0.8v0.8h-0.8zM473.9 399.7h0.8v0.8h-0.8zM467.2 378.5h0.8v0.8h-0.8zM458.3 388.8h0.8v0.8h-0.8zM466.3 373.4h0.8v0.8h-0.8zM471.6 380.9h0.8v0.8h-0.8zM457.1 400.4h0.8v0.8h-0.8zM462.5 368.0h0.8v0.8h-0.8zM453.0 407.0h0.8v0.8h-0.8zM461.3 376.9h0.8v0.8h-0.8zM458.6 407.1h0.8v0.8h-0.8zM461.2 388.9h0.8v0.8h-0.8zM473.7 398.1h0.8v0.8h-0.8zM472.1 376.9h0.8v0.8h-0.8zM464.2 373.4h0.8v0.8h-0.8zM462.7 383.9h0.8v0.8h-0.8zM477.8 357.4h0.8v0.8h-0.8zM478.8 389.3h0.8v0.8h-0.8zM461.7 396.0h0.8v0.8h-0.8zM470.5 356.7h0.8v0.8h-0.8zM457.5 381.1h0.8v0.8h-0.8zM456.5 399.9h0.8v0.8h-0.8zM472.9 389.3h0.8v0.8h-0.8zM462.9 385.2h0.8v0.8h-0.8zM471.0 384.2h0.8v0.8h-0.8zM477.2 374.4h0.8v0.8h-0.8zM460.4 366.8h0.8v0.8h-0.8zM456.9 377.7h0.8v0.8h-0.8zM458.7 392.0h0.8v0.8h-0.8zM474.4 405.5h0.8v0.8h-0.8zM472.8 388.8h0.8v0.8h-0.8zM461.0 387.9h0.8v0.8h-0.8zM469.4 364.3h0.8v0.8h-0.8zM452.5 399.9h0.8v0.8h-0.8zM459.2 376.8h0.8v0.8h-0.8zM458.9 395.7h0.8v0.8h-0.8zM467.8 368.5h0.8v0.8h-0.8zM458.3 391.8h0.8v0.8h-0.8zM469.3 374.7h0.8v0.8h-0.8zM456.8 377.4h0.8v0.8h-0.8zM460.7 366.2h0.8v0.8h-0.8zM483.8 391.5h0.8v0.8h-0.8zM452.7 393.6h0.8v0.8h-0.8zM462.8 357.9h0.8v0.8h-0.8zM472.6 391.4h0.8v0.8h-0.8zM467.5 377.6h0.8v0.8h-0.8zM474.9 402.3h0.8v0.8h-0.8zM470.8 358.8h0.8v0.8h-0.8zM475.4 368.7h0.8v0.8h-0.8zM463.3 365.1h0.8v0.8h-0.8zM459.0 404.1h0.8v0.8h-0.8zM464.6 377.1h0.8v0.8h-0.8zM447.2 400.8h0.8v0.8h-0.8zM458.7 396.5h0.8v0.8h-0.8zM472.8 382.4h0.8v0.8h-0.8zM473.6 384.1h0.8v0.8h-0.8zM478.2 380.0h0.8v0.8h-0.8zM475.2 395.4h0.8v0.8h-0.8zM457.9 401.9h0.8v0.8h-0.8zM469.7 381.3h0.8v0.8h-0.8zM456.4 393.7h0.8v0.8h-0.8zM460.3 393.2h0.8v0.8h-0.8zM479.7 379.3h0.8v0.8h-0.8zM461.0 405.8h0.8v0.8h-0.8zM451.3 398.5h0.8v0.8h-0.8zM475.4 375.2h0.8v0.8h-0.8zM474.8 391.5h0.8v0.8h-0.8zM462.2 393.7h0.8v0.8h-0.8zM460.7 403.3h0.8v0.8h-0.8zM468.9 370.8h0.8v0.8h-0.8z" fill="#000" fill-opacity="0.2"/>
<path d="M467.5 412.8h0.8v0.8h-0.8zM453.9 431.0h0.8v0.8h-0.8zM480.4 408.6h0.8v0.8h-0.8zM472.8 423.2h0.8v0.8h-0.8zM450.0 416.4h0.8v0.8h-0.8zM472.8 398.6h0.8v0.8h-0.8zM445.0 425.1h0.8v0.8h-0.8zM470.4 420.7h0.8v0.8h-0.8zM437.0 380.6h0.8v0.8h-0.8zM427.1 390.9h0.8v0.8h-0.8zM482.9 397.4h0.8v0.8h-0.8zM493.4 421.0h0.8v0.8h-0.8zM452.5 426.5h0.8v0.8h-0.8zM490.4 369.0h0.8v0.8h-0.8zM431.8 385.2h0.8v0.8h-0.8zM485.7 416.4h0.8v0.8h-0.8zM434.7 395.5h0.8v0.8h-0.8zM448.5 402.5h0.8v0.8h-0.8zM459.3 390.0h0.8v0.8h-0.8zM509.1 390.7h0.8v0.8h-0.8zM435.2 400.0h0.8v0.8h-0.8zM457.2 386.8h0.8v0.8h-0.8zM448.1 438.1h0.8v0.8h-0.8zM437.2 418.1h0.8v0.8h-0.8zM502.8 396.8h0.8v0.8h-0.8zM434.5 398.9h0.8v0.8h-0.8zM463.6 387.7h0.8v0.8h-0.8zM494.8 367.4h0.8v0.8h-0.8zM454.2 373.9h0.8v0.8h-0.8zM449.8 365.4h0.8v0.8h-0.8zM490.6 393.7h0.8v0.8h-0.8zM425.7 367.1h0.8v0.8h-0.8zM494.9 401.9h0.8v0.8h-0.8zM458.8 395.5h0.8v0.8h-0.8zM448.3 415.1h0.8v0.8h-0.8zM441.4 414.3h0.8v0.8h-0.8zM453.4 412.4h0.8v0.8h-0.8zM440.0 413.6h0.8v0.8h-0.8zM456.8 414.5h0.8v0.8h-0.8zM452.0 416.6h0.8v0.8h-0.8zM453.0 413.3h0.8v0.8h-0.8zM455.0 414.6h0.8v0.8h-0.8zM451.4 415.2h0.8v0.8h-0.8zM442.9 413.3h0.8v0.8h-0.8zM451.6 411.5h0.8v0.8h-0.8zM434.8 416.0h0.8v0.8h-0.8zM443.0 413.6h0.8v0.8h-0.8zM439.2 413.7h0.8v0.8h-0.8zM457.7 411.6h0.8v0.8h-0.8zM441.0 410.6h0.8v0.8h-0.8zM444.3 413.9h0.8v0.8h-0.8zM446.8 415.5h0.8v0.8h-0.8zM452.0 419.2h0.8v0.8h-0.8zM455.7 415.9h0.8v0.8h-0.8zM442.2 411.0h0.8v0.8h-0.8zM440.5 409.6h0.8v0.8h-0.8zM454.7 414.0h0.8v0.8h-0.8zM450.8 413.8h0.8v0.8h-0.8zM443.4 414.1h0.8v0.8h-0.8zM442.0 413.6h0.8v0.8h-0.8zM450.6 417.3h0.8v0.8h-0.8zM453.9 415.8h0.8v0.8h-0.8zM438.3 415.0h0.8v0.8h-0.8zM439.9 415.6h0.8v0.8h-0.8zM454.7 410.6h0.8v0.8h-0.8zM448.2 414.2h0.8v0.8h-0.8zM449.4 411.3h0.8v0.8h-0.8zM454.9 412.1h0.8v0.8h-0.8zM456.4 413.3h0.8v0.8h-0.8zM437.1 415.2h0.8v0.8h-0.8zM442.5 412.8h0.8v0.8h-0.8zM442.1 417.0h0.8v0.8h-0.8zM441.6 415.5h0.8v0.8h-0.8zM445.3 417.3h0.8v0.8h-0.8zM450.5 414.4h0.8v0.8h-0.8zM440.1 414.1h0.8v0.8h-0.8zM453.4 414.2h0.8v0.8h-0.8zM438.7 415.8h0.8v0.8h-0.8zM447.6 416.8h0.8v0.8h-0.8zM449.3 412.8h0.8v0.8h-0.8zM443.5 412.9h0.8v0.8h-0.8zM444.4 411.7h0.8v0.8h-0.8zM451.8 413.5h0.8v0.8h-0.8zM443.0 412.5h0.8v0.8h-0.8zM438.6 415.7h0.8v0.8h-0.8zM440.7 413.9h0.8v0.8h-0.8zM445.7 416.3h0.8v0.8h-0.8zM455.1 414.4h0.8v0.8h-0.8zM446.3 414.3h0.8v0.8h-0.8zM448.3 414.4h0.8v0.8h-0.8zM456.1 417.3h0.8v0.8h-0.8zM441.1 414.5h0.8v0.8h-0.8zM441.8 411.3h0.8v0.8h-0.8zM438.6 415.8h0.8v0.8h-0.8zM438.6 414.1h0.8v0.8h-0.8zM434.8 414.4h0.8v0.8h-0.8zM455.8 413.3h0.8v0.8h-0.8zM443.0 409.9h0.8v0.8h-0.8zM446.7 412.9h0.8v0.8h-0.8zM448.6 413.0h0.8v0.8h-0.8zM435.1 411.3h0.8v0.8h-0.8zM440.4 415.1h0.8v0.8h-0.8zM437.8 411.9h0.8v0.8h-0.8zM437.6 414.5h0.8v0.8h-0.8zM440.8 413.6h0.8v0.8h-0.8zM441.4 410.6h0.8v0.8h-0.8zM436.3 417.6h0.8v0.8h-0.8zM450.9 414.4h0.8v0.8h-0.8zM445.5 416.2h0.8v0.8h-0.8zM442.8 413.1h0.8v0.8h-0.8zM444.2 413.1h0.8v0.8h-0.8zM439.0 416.8h0.8v0.8h-0.8zM448.0 417.4h0.8v0.8h-0.8zM440.9 415.9h0.8v0.8h-0.8zM437.3 413.1h0.8v0.8h-0.8zM436.1 412.8h0.8v0.8h-0.8zM440.8 418.0h0.8v0.8h-0.8zM444.5 415.4h0.8v0.8h-0.8zM452.2 412.6h0.8v0.8h-0.8zM440.8 419.5h0.8v0.8h-0.8zM440.1 416.7h0.8v0.8h-0.8zM440.1 414.6h0.8v0.8h-0.8zM440.9 416.0h0.8v0.8h-0.8zM445.0 410.4h0.8v0.8h-0.8zM446.9 412.2h0.8v0.8h-0.8zM435.4 415.9h0.8v0.8h-0.8zM454.7 413.1h0.8v0.8h-0.8zM445.9 412.1h0.8v0.8h-0.8zM436.7 410.5h0.8v0.8h-0.8zM444.2 410.0h0.8v0.8h-0.8zM438.7 415.7h0.8v0.8h-0.8zM441.1 414.3h0.8v0.8h-0.8zM448.6 411.8h0.8v0.8h-0.8zM450.0 412.9h0.8v0.8h-0.8zM438.4 413.6h0.8v0.8h-0.8zM441.3 413.7h0.8v0.8h-0.8zM439.9 418.6h0.8v0.8h-0.8zM449.5 414.4h0.8v0.8h-0.8zM439.9 416.0h0.8v0.8h-0.8zM439.2 413.9h0.8v0.8h-0.8zM441.4 411.3h0.8v0.8h-0.8zM438.9 416.2h0.8v0.8h-0.8zM443.1 412.4h0.8v0.8h-0.8zM436.1 415.6h0.8v0.8h-0.8zM435.9 415.0h0.8v0.8h-0.8zM440.7 415.8h0.8v0.8h-0.8zM446.4 411.8h0.8v0.8h-0.8zM444.8 412.4h0.8v0.8h-0.8zM447.7 412.7h0.8v0.8h-0.8zM443.2 416.2h0.8v0.8h-0.8zM451.7 415.7h0.8v0.8h-0.8zM449.5 417.0h0.8v0.8h-0.8zM436.6 413.1h0.8v0.8h-0.8zM440.3 413.9h0.8v0.8h-0.8zM447.9 411.7h0.8v0.8h-0.8zM450.5 410.8h0.8v0.8h-0.8zM460.5 392.0h0.8v0.8h-0.8zM476.4 405.8h0.8v0.8h-0.8zM458.8 406.4h0.8v0.8h-0.8zM460.0 394.5h0.8v0.8h-0.8zM458.5 403.5h0.8v0.8h-0.8zM459.5 398.9h0.8v0.8h-0.8zM458.4 403.2h0.8v0.8h-0.8zM476.2 405.3h0.8v0.8h-0.8zM462.0 385.3h0.8v0.8h-0.8zM463.8 382.1h0.8v0.8h-0.8zM459.4 397.0h0.8v0.8h-0.8zM473.2 385.4h0.8v0.8h-0.8zM459.2 406.8h0.8v0.8h-0.8zM459.1 400.6h0.8v0.8h-0.8zM459.3 394.3h0.8v0.8h-0.8zM460.4 389.9h0.8v0.8h-0.8zM458.8 402.7h0.8v0.8h-0.8zM460.1 392.1h0.8v0.8h-0.8zM475.7 396.5h0.8v0.8h-0.8zM460.9 387.9h0.8v0.8h-0.8zM458.6 405.4h0.8v0.8h-0.8zM474.8 390.2h0.8v0.8h-0.8zM473.3 384.8h0.8v0.8h-0.8zM473.9 388.6h0.8v0.8h-0.8zM462.2 384.6h0.8v0.8h-0.8zM475.8 393.3h0.8v0.8h-0.8zM474.8 391.6h0.8v0.8h-0.8zM474.6 386.8h0.8v0.8h-0.8zM461.8 384.6h0.8v0.8h-0.8zM459.0 403.8h0.8v0.8h-0.8zM472.2 383.0h0.8v0.8h-0.8zM459.0 401.8h0.8v0.8h-0.8zM476.4 406.3h0.8v0.8h-0.8zM459.0 396.3h0.8v0.8h-0.8zM476.0 397.0h0.8v0.8h-0.8zM460.2 391.0h0.8v0.8h-0.8zM474.3 389.0h0.8v0.8h-0.8zM462.5 384.2h0.8v0.8h-0.8zM459.9 397.2h0.8v0.8h-0.8zM475.4 392.8h0.8v0.8h-0.8zM460.5 389.1h0.8v0.8h-0.8zM462.1 383.7h0.8v0.8h-0.8zM474.0 387.7h0.8v0.8h-0.8zM464.1 383.0h0.8v0.8h-0.8zM465.5 381.5h0.8v0.8h-0.8zM469.5 378.9h0.8v0.8h-0.8zM462.4 380.5h0.8v0.8h-0.8zM461.7 372.2h0.8v0.8h-0.8zM465.9 372.0h0.8v0.8h-0.8zM461.3 382.0h0.8v0.8h-0.8zM471.6 383.1h0.8v0.8h-0.8zM462.6 381.8h0.8v0.8h-0.8zM463.2 380.0h0.8v0.8h-0.8zM468.8 377.6h0.8v0.8h-0.8zM467.4 380.0h0.8v0.8h-0.8zM467.9 382.0h0.8v0.8h-0.8zM467.4 379.9h0.8v0.8h-0.8zM465.8 373.2h0.8v0.8h-0.8zM462.5 381.7h0.8v0.8h-0.8zM466.8 382.7h0.8v0.8h-0.8zM474.3 379.0h0.8v0.8h-0.8zM464.0 382.9h0.8v0.8h-0.8zM468.8 375.0h0.8v0.8h-0.8zM465.0 371.2h0.8v0.8h-0.8zM465.0 381.4h0.8v0.8h-0.8zM465.2 376.0h0.8v0.8h-0.8zM470.1 375.9h0.8v0.8h-0.8zM465.8 381.1h0.8v0.8h-0.8zM466.0 377.5h0.8v0.8h-0.8zM473.1 375.1h0.8v0.8h-0.8zM467.3 374.4h0.8v0.8h-0.8zM467.2 382.4h0.8v0.8h-0.8zM474.2 382.6h0.8v0.8h-0.8zM460.6 378.5h0.8v0.8h-0.8zM473.6 379.5h0.8v0.8h-0.8zM471.6 362.0h0.8v0.8h-0.8zM467.3 378.9h0.8v0.8h-0.8zM472.7 362.4h0.8v0.8h-0.8zM472.3 371.4h0.8v0.8h-0.8zM470.0 382.5h0.8v0.8h-0.8zM465.3 370.4h0.8v0.8h-0.8zM467.7 380.6h0.8v0.8h-0.8zM467.4 365.6h0.8v0.8h-0.8zM464.6 372.0h0.8v0.8h-0.8zM471.6 377.6h0.8v0.8h-0.8zM462.7 375.6h0.8v0.8h-0.8zM470.7 375.9h0.8v0.8h-0.8zM471.3 382.3h0.8v0.8h-0.8zM467.4 369.8h0.8v0.8h-0.8zM468.4 380.1h0.8v0.8h-0.8zM464.7 374.0h0.8v0.8h-0.8zM463.9 374.4h0.8v0.8h-0.8zM469.3 373.5h0.8v0.8h-0.8zM465.7 383.4h0.8v0.8h-0.8zM470.6 382.8h0.8v0.8h-0.8zM469.8 378.7h0.8v0.8h-0.8zM458.4 374.0h0.8v0.8h-0.8zM461.5 383.4h0.8v0.8h-0.8zM468.6 372.8h0.8v0.8h-0.8zM474.9 379.3h0.8v0.8h-0.8zM469.3 375.9h0.8v0.8h-0.8zM460.2 376.9h0.8v0.8h-0.8zM471.7 366.3h0.8v0.8h-0.8zM469.0 377.3h0.8v0.8h-0.8zM468.3 381.2h0.8v0.8h-0.8zM464.8 373.6h0.8v0.8h-0.8zM470.5 383.4h0.8v0.8h-0.8zM465.1 374.4h0.8v0.8h-0.8zM471.2 370.6h0.8v0.8h-0.8zM464.5 380.9h0.8v0.8h-0.8zM471.9 374.8h0.8v0.8h-0.8zM469.8 374.7h0.8v0.8h-0.8zM467.1 383.4h0.8v0.8h-0.8zM473.7 374.6h0.8v0.8h-0.8zM471.1 380.4h0.8v0.8h-0.8zM474.0 375.7h0.8v0.8h-0.8zM469.6 367.1h0.8v0.8h-0.8zM467.2 376.4h0.8v0.8h-0.8zM470.4 368.5h0.8v0.8h-0.8zM465.6 375.0h0.8v0.8h-0.8zM472.8 374.4h0.8v0.8h-0.8zM474.2 380.2h0.8v0.8h-0.8zM462.7 383.2h0.8v0.8h-0.8zM465.5 378.8h0.8v0.8h-0.8zM475.2 383.5h0.8v0.8h-0.8zM465.9 374.5h0.8v0.8h-0.8zM467.0 363.0h0.8v0.8h-0.8zM461.8 371.8h0.8v0.8h-0.8zM466.9 378.6h0.8v0.8h-0.8zM463.1 378.2h0.8v0.8h-0.8zM472.3 372.2h0.8v0.8h-0.8zM471.8 378.6h0.8v0.8h-0.8zM463.3 375.4h0.8v0.8h-0.8zM460.3 381.8h0.8v0.8h-0.8zM469.2 383.6h0.8v0.8h-0.8zM464.5 380.6h0.8v0.8h-0.8zM470.0 383.2h0.8v0.8h-0.8zM469.6 378.4h0.8v0.8h-0.8zM468.9 378.3h0.8v0.8h-0.8zM470.7 376.3h0.8v0.8h-0.8zM462.4 379.8h0.8v0.8h-0.8zM467.9 375.9h0.8v0.8h-0.8zM470.6 379.5h0.8v0.8h-0.8zM466.9 363.3h0.8v0.8h-0.8zM468.7 379.6h0.8v0.8h-0.8zM468.9 370.1h0.8v0.8h-0.8zM464.5 380.9h0.8v0.8h-0.8zM469.4 359.8h0.8v0.8h-0.8zM467.5 380.8h0.8v0.8h-0.8zM471.8 381.8h0.8v0.8h-0.8zM467.7 375.4h0.8v0.8h-0.8zM478.0 407.6h0.8v0.8h-0.8zM472.1 380.0h0.8v0.8h-0.8zM463.9 375.7h0.8v0.8h-0.8zM466.4 374.9h0.8v0.8h-0.8zM466.5 369.2h0.8v0.8h-0.8zM451.6 366.2h0.8v0.8h-0.8zM479.6 403.0h0.8v0.8h-0.8zM474.5 406.3h0.8v0.8h-0.8zM457.9 359.6h0.8v0.8h-0.8zM463.2 382.9h0.8v0.8h-0.8zM466.1 356.1h0.8v0.8h-0.8zM465.7 382.0h0.8v0.8h-0.8zM465.7 378.2h0.8v0.8h-0.8zM461.0 370.1h0.8v0.8h-0.8zM460.7 399.8h0.8v0.8h-0.8zM471.1 370.7h0.8v0.8h-0.8zM455.9 367.7h0.8v0.8h-0.8zM458.6 389.1h0.8v0.8h-0.8zM466.3 376.0h0.8v0.8h-0.8zM481.1 362.3h0.8v0.8h-0.8zM479.7 388.2h0.8v0.8h-0.8zM476.6 353.3h0.8v0.8h-0.8zM472.7 364.3h0.8v0.8h-0.8zM464.2 382.0h0.8v0.8h-0.8zM463.9 367.3h0.8v0.8h-0.8zM478.5 403.3h0.8v0.8h-0.8zM464.4 379.3h0.8v0.8h-0.8zM466.9 365.2h0.8v0.8h-0.8zM462.1 391.4h0.8v0.8h-0.8zM474.8 393.1h0.8v0.8h-0.8zM470.9 378.9h0.8v0.8h-0.8zM469.5 376.7h0.8v0.8h-0.8zM475.7 392.4h0.8v0.8h-0.8zM464.8 380.1h0.8v0.8h-0.8zM471.6 379.7h0.8v0.8h-0.8zM472.8 378.3h0.8v0.8h-0.8zM468.3 377.4h0.8v0.8h-0.8zM477.2 385.1h0.8v0.8h-0.8zM468.1 359.2h0.8v0.8h-0.8zM459.0 385.0h0.8v0.8h-0.8zM449.4 376.9h0.8v0.8h-0.8zM470.2 376.9h0.8v0.8h-0.8zM472.2 375.5h0.8v0.8h-0.8zM459.9 369.2h0.8v0.8h-0.8zM458.1 375.7h0.8v0.8h-0.8zM474.3 395.5h0.8v0.8h-0.8zM473.5 370.9h0.8v0.8h-0.8zM458.4 385.5h0.8v0.8h-0.8zM466.0 359.6h0.8v0.8h-0.8zM474.1 406.7h0.8v0.8h-0.8zM458.2 391.6h0.8v0.8h-0.8zM474.6 372.7h0.8v0.8h-0.8zM470.8 376.8h0.8v0.8h-0.8zM460.5 375.0h0.8v0.8h-0.8zM474.2 385.4h0.8v0.8h-0.8zM462.7 388.6h0.8v0.8h-0.8zM473.8 399.4h0.8v0.8h-0.8zM451.8 399.0h0.8v0.8h-0.8zM469.9 349.3h0.8v0.8h-0.8zM475.5 367.8h0.8v0.8h-0.8zM458.7 381.1h0.8v0.8h-0.8zM464.2 370.3h0.8v0.8h-0.8zM464.0 381.9h0.8v0.8h-0.8zM471.9 370.9h0.8v0.8h-0.8zM459.3 392.1h0.8v0.8h-0.8zM474.3 405.5h0.8v0.8h-0.8zM480.5 401.3h0.8v0.8h-0.8zM479.9 397.8h0.8v0.8h-0.8zM463.6 357.2h0.8v0.8h-0.8zM465.0 372.2h0.8v0.8h-0.8zM478.2 398.8h0.8v0.8h-0.8zM472.9 390.4h0.8v0.8h-0.8zM459.1 380.5h0.8v0.8h-0.8zM470.5 372.0h0.8v0.8h-0.8zM474.7 390.2h0.8v0.8h-0.8zM471.1 368.5h0.8v0.8h-0.8zM456.4 402.3h0.8v0.8h-0.8zM473.3 370.9h0.8v0.8h-0.8zM472.4 382.5h0.8v0.8h-0.8zM467.5 365.5h0.8v0.8h-0.8zM461.6 376.7h0.8v0.8h-0.8zM470.1 367.8h0.8v0.8h-0.8zM468.5 378.3h0.8v0.8h-0.8zM460.8 391.1h0.8v0.8h-0.8zM457.9 384.3h0.8v0.8h-0.8zM460.3 378.4h0.8v0.8h-0.8zM450.7 397.9h0.8v0.8h-0.8zM458.6 392.8h0.8v0.8h-0.8zM460.4 401.5h0.8v0.8h-0.8zM452.4 397.8h0.8v0.8h-0.8zM461.8 390.1h0.8v0.8h-0.8zM474.9 395.5h0.8v0.8h-0.8zM465.0 355.8h0.8v0.8h-0.8zM461.1 406.8h0.8v0.8h-0.8zM475.4 360.9h0.8v0.8h-0.8zM461.0 391.8h0.8v0.8h-0.8zM467.5 367.6h0.8v0.8h-0.8zM454.4 382.5h0.8v0.8h-0.8zM463.5 386.5h0.8v0.8h-0.8zM460.2 400.9h0.8v0.8h-0.8zM452.7 403.7h0.8v0.8h-0.8zM458.3 392.4h0.8v0.8h-0.8zM466.8 380.7h0.8v0.8h-0.8z" fill="#000" fill-opacity="0.3"/>
<path d="M449.9 416.4h0.8v0.8h-0.8zM442.7 412.5h0.8v0.8h-0.8zM454.4 416.1h0.8v0.8h-0.8zM457.9 412.8h0.8v0.8h-0.8zM449.0 414.1h0.8v0.8h-0.8zM450.2 416.0h0.8v0.8h-0.8zM447.4 414.9h0.8v0.8h-0.8zM457.3 412.3h0.8v0.8h-0.8zM453.2 411.1h0.8v0.8h-0.8zM446.6 414.6h0.8v0.8h-0.8zM443.6 412.1h0.8v0.8h-0.8zM447.8 416.7h0.8v0.8h-0.8zM450.1 414.9h0.8v0.8h-0.8zM456.4 418.9h0.8v0.8h-0.8zM445.5 414.6h0.8v0.8h-0.8zM450.1 416.3h0.8v0.8h-0.8zM457.0 416.1h0.8v0.8h-0.8zM452.3 415.8h0.8v0.8h-0.8zM446.1 415.5h0.8v0.8h-0.8zM446.0 414.9h0.8v0.8h-0.8zM449.0 417.4h0.8v0.8h-0.8zM457.6 414.9h0.8v0.8h-0.8zM449.1 416.8h0.8v0.8h-0.8zM449.9 415.2h0.8v0.8h-0.8zM449.6 414.5h0.8v0.8h-0.8zM446.9 413.8h0.8v0.8h-0.8zM443.1 410.0h0.8v0.8h-0.8zM442.9 416.3h0.8v0.8h-0.8zM450.3 411.1h0.8v0.8h-0.8zM445.5 413.3h0.8v0.8h-0.8zM447.4 415.6h0.8v0.8h-0.8zM447.9 416.4h0.8v0.8h-0.8zM444.7 416.1h0.8v0.8h-0.8zM444.1 412.1h0.8v0.8h-0.8zM449.5 416.0h0.8v0.8h-0.8zM450.7 411.7h0.8v0.8h-0.8zM443.0 416.1h0.8v0.8h-0.8zM446.0 415.1h0.8v0.8h-0.8zM449.2 415.5h0.8v0.8h-0.8zM450.4 414.1h0.8v0.8h-0.8zM450.9 411.8h0.8v0.8h-0.8zM452.4 415.0h0.8v0.8h-0.8zM449.8 415.3h0.8v0.8h-0.8zM446.0 414.2h0.8v0.8h-0.8zM449.5 410.2h0.8v0.8h-0.8zM446.3 413.4h0.8v0.8h-0.8zM442.8 412.6h0.8v0.8h-0.8zM446.2 415.9h0.8v0.8h-0.8zM452.3 410.6h0.8v0.8h-0.8zM444.0 411.5h0.8v0.8h-0.8zM449.7 415.0h0.8v0.8h-0.8zM444.3 415.1h0.8v0.8h-0.8zM447.9 412.9h0.8v0.8h-0.8zM445.4 411.6h0.8v0.8h-0.8zM455.2 417.4h0.8v0.8h-0.8zM453.8 416.1h0.8v0.8h-0.8zM444.5 413.3h0.8v0.8h-0.8zM449.3 413.3h0.8v0.8h-0.8zM453.9 412.6h0.8v0.8h-0.8zM447.3 413.5h0.8v0.8h-0.8zM455.0 415.5h0.8v0.8h-0.8zM447.7 413.2h0.8v0.8h-0.8zM447.5 410.0h0.8v0.8h-0.8zM462.0 387.1h0.8v0.8h-0.8zM460.5 395.2h0.8v0.8h-0.8zM475.1 396.9h0.8v0.8h-0.8zM463.1 383.6h0.8v0.8h-0.8zM475.4 398.6h0.8v0.8h-0.8zM459.8 399.3h0.8v0.8h-0.8zM462.4 385.2h0.8v0.8h-0.8zM460.4 397.2h0.8v0.8h-0.8zM459.8 399.1h0.8v0.8h-0.8zM459.3 406.7h0.8v0.8h-0.8zM475.5 396.0h0.8v0.8h-0.8zM460.9 390.7h0.8v0.8h-0.8zM461.3 390.5h0.8v0.8h-0.8zM459.7 403.8h0.8v0.8h-0.8zM459.6 401.5h0.8v0.8h-0.8zM462.5 385.4h0.8v0.8h-0.8zM460.2 395.4h0.8v0.8h-0.8zM462.0 387.5h0.8v0.8h-0.8zM474.6 395.2h0.8v0.8h-0.8zM460.1 401.7h0.8v0.8h-0.8zM462.8 384.7h0.8v0.8h-0.8zM475.7 404.4h0.8v0.8h-0.8zM471.5 382.5h0.8v0.8h-0.8zM464.1 383.1h0.8v0.8h-0.8zM474.9 393.0h0.8v0.8h-0.8zM475.5 406.0h0.8v0.8h-0.8zM475.7 406.2h0.8v0.8h-0.8zM459.7 400.2h0.8v0.8h-0.8zM459.9 400.2h0.8v0.8h-0.8zM472.8 385.5h0.8v0.8h-0.8zM461.0 388.1h0.8v0.8h-0.8zM475.9 404.9h0.8v0.8h-0.8zM461.0 389.0h0.8v0.8h-0.8zM459.2 407.2h0.8v0.8h-0.8zM461.1 391.1h0.8v0.8h-0.8zM462.3 385.7h0.8v0.8h-0.8zM475.8 406.8h0.8v0.8h-0.8zM472.0 384.1h0.8v0.8h-0.8zM471.8 383.7h0.8v0.8h-0.8zM475.5 398.7h0.8v0.8h-0.8zM459.5 407.5h0.8v0.8h-0.8zM459.6 404.0h0.8v0.8h-0.8zM459.3 404.1h0.8v0.8h-0.8zM459.6 399.4h0.8v0.8h-0.8zM475.0 397.5h0.8v0.8h-0.8zM460.7 391.2h0.8v0.8h-0.8zM460.6 395.1h0.8v0.8h-0.8zM473.0 387.7h0.8v0.8h-0.8zM473.2 385.6h0.8v0.8h-0.8zM461.3 389.0h0.8v0.8h-0.8zM463.3 383.8h0.8v0.8h-0.8zM462.0 386.0h0.8v0.8h-0.8zM458.9 404.3h0.8v0.8h-0.8zM461.3 389.0h0.8v0.8h-0.8zM475.1 401.5h0.8v0.8h-0.8zM460.0 399.1h0.8v0.8h-0.8zM459.8 405.8h0.8v0.8h-0.8zM475.3 399.1h0.8v0.8h-0.8zM475.3 399.1h0.8v0.8h-0.8zM459.7 401.2h0.8v0.8h-0.8zM459.7 401.5h0.8v0.8h-0.8zM459.9 406.1h0.8v0.8h-0.8zM463.4 384.0h0.8v0.8h-0.8zM475.2 396.2h0.8v0.8h-0.8zM460.6 397.4h0.8v0.8h-0.8zM474.5 392.0h0.8v0.8h-0.8zM475.2 404.5h0.8v0.8h-0.8zM475.4 403.2h0.8v0.8h-0.8zM463.0 384.7h0.8v0.8h-0.8zM475.2 402.1h0.8v0.8h-0.8zM460.3 400.7h0.8v0.8h-0.8zM462.3 386.4h0.8v0.8h-0.8zM475.9 407.2h0.8v0.8h-0.8zM471.3 382.9h0.8v0.8h-0.8zM470.9 382.2h0.8v0.8h-0.8zM475.5 404.1h0.8v0.8h-0.8zM462.2 386.6h0.8v0.8h-0.8zM474.4 393.2h0.8v0.8h-0.8zM464.4 381.7h0.8v0.8h-0.8zM459.5 398.6h0.8v0.8h-0.8zM459.2 407.9h0.8v0.8h-0.8zM474.2 390.2h0.8v0.8h-0.8zM461.2 389.2h0.8v0.8h-0.8zM470.0 380.4h0.8v0.8h-0.8zM470.2 378.3h0.8v0.8h-0.8zM469.6 371.9h0.8v0.8h-0.8zM465.7 382.3h0.8v0.8h-0.8zM468.4 380.8h0.8v0.8h-0.8zM464.4 378.7h0.8v0.8h-0.8zM468.0 383.6h0.8v0.8h-0.8zM466.8 381.0h0.8v0.8h-0.8zM462.5 379.9h0.8v0.8h-0.8zM462.7 370.7h0.8v0.8h-0.8zM459.5 378.6h0.8v0.8h-0.8zM465.5 380.9h0.8v0.8h-0.8zM463.8 382.6h0.8v0.8h-0.8zM466.5 373.5h0.8v0.8h-0.8zM471.5 383.6h0.8v0.8h-0.8zM469.7 375.7h0.8v0.8h-0.8zM471.3 378.5h0.8v0.8h-0.8zM463.6 381.0h0.8v0.8h-0.8zM469.3 377.9h0.8v0.8h-0.8zM472.5 371.8h0.8v0.8h-0.8zM467.0 380.5h0.8v0.8h-0.8zM466.7 377.5h0.8v0.8h-0.8zM471.3 376.6h0.8v0.8h-0.8zM466.1 378.4h0.8v0.8h-0.8zM467.8 374.7h0.8v0.8h-0.8zM467.1 382.6h0.8v0.8h-0.8zM467.1 376.9h0.8v0.8h-0.8zM469.5 375.1h0.8v0.8h-0.8zM466.3 366.2h0.8v0.8h-0.8zM469.3 379.4h0.8v0.8h-0.8zM470.3 379.0h0.8v0.8h-0.8zM475.4 377.7h0.8v0.8h-0.8zM470.7 376.4h0.8v0.8h-0.8zM470.3 378.7h0.8v0.8h-0.8zM463.7 374.2h0.8v0.8h-0.8zM469.9 382.8h0.8v0.8h-0.8zM455.9 381.1h0.8v0.8h-0.8zM474.1 372.2h0.8v0.8h-0.8zM461.4 378.0h0.8v0.8h-0.8zM468.1 376.9h0.8v0.8h-0.8zM464.6 381.5h0.8v0.8h-0.8zM471.1 369.9h0.8v0.8h-0.8zM477.0 378.9h0.8v0.8h-0.8zM469.9 381.6h0.8v0.8h-0.8zM469.4 381.5h0.8v0.8h-0.8zM463.4 382.3h0.8v0.8h-0.8zM470.0 383.1h0.8v0.8h-0.8zM459.7 381.2h0.8v0.8h-0.8zM461.7 379.2h0.8v0.8h-0.8zM462.7 383.1h0.8v0.8h-0.8zM466.9 363.5h0.8v0.8h-0.8zM473.8 382.0h0.8v0.8h-0.8zM463.2 375.7h0.8v0.8h-0.8zM467.2 378.3h0.8v0.8h-0.8zM465.6 379.5h0.8v0.8h-0.8zM465.0 377.7h0.8v0.8h-0.8zM465.9 381.0h0.8v0.8h-0.8zM465.3 374.1h0.8v0.8h-0.8zM465.4 362.3h0.8v0.8h-0.8zM470.9 365.9h0.8v0.8h-0.8zM467.0 371.7h0.8v0.8h-0.8zM463.9 375.1h0.8v0.8h-0.8zM452.4 373.1h0.8v0.8h-0.8zM463.1 377.9h0.8v0.8h-0.8zM471.2 376.8h0.8v0.8h-0.8zM461.3 373.0h0.8v0.8h-0.8zM471.9 383.0h0.8v0.8h-0.8zM458.4 371.8h0.8v0.8h-0.8zM464.8 381.0h0.8v0.8h-0.8zM470.6 370.9h0.8v0.8h-0.8zM464.2 372.3h0.8v0.8h-0.8zM464.1 375.3h0.8v0.8h-0.8zM471.1 382.4h0.8v0.8h-0.8zM467.2 380.1h0.8v0.8h-0.8zM468.1 374.7h0.8v0.8h-0.8zM471.6 379.7h0.8v0.8h-0.8zM468.3 378.7h0.8v0.8h-0.8zM470.1 363.1h0.8v0.8h-0.8zM468.7 373.5h0.8v0.8h-0.8zM464.2 377.9h0.8v0.8h-0.8zM472.5 373.9h0.8v0.8h-0.8zM466.8 374.5h0.8v0.8h-0.8zM466.1 379.3h0.8v0.8h-0.8zM465.7 379.9h0.8v0.8h-0.8zM466.0 380.9h0.8v0.8h-0.8zM470.1 381.0h0.8v0.8h-0.8zM472.7 379.7h0.8v0.8h-0.8zM471.8 376.9h0.8v0.8h-0.8zM456.0 355.1h0.8v0.8h-0.8zM456.4 399.3h0.8v0.8h-0.8zM460.1 400.0h0.8v0.8h-0.8zM477.9 365.1h0.8v0.8h-0.8zM458.0 381.0h0.8v0.8h-0.8zM462.6 378.3h0.8v0.8h-0.8zM458.4 392.4h0.8v0.8h-0.8zM453.2 381.1h0.8v0.8h-0.8zM461.2 382.2h0.8v0.8h-0.8zM456.5 406.5h0.8v0.8h-0.8zM476.6 388.9h0.8v0.8h-0.8zM466.8 380.4h0.8v0.8h-0.8zM469.5 357.9h0.8v0.8h-0.8zM473.7 395.6h0.8v0.8h-0.8zM467.5 350.2h0.8v0.8h-0.8zM450.9 385.5h0.8v0.8h-0.8zM454.2 398.5h0.8v0.8h-0.8zM465.1 380.9h0.8v0.8h-0.8zM459.5 365.0h0.8v0.8h-0.8zM461.4 397.1h0.8v0.8h-0.8zM481.5 402.7h0.8v0.8h-0.8zM462.2 387.6h0.8v0.8h-0.8zM473.9 378.3h0.8v0.8h-0.8zM458.4 379.2h0.8v0.8h-0.8zM478.4 403.1h0.8v0.8h-0.8zM469.9 354.9h0.8v0.8h-0.8zM471.7 377.9h0.8v0.8h-0.8zM475.6 363.0h0.8v0.8h-0.8zM476.4 404.4h0.8v0.8h-0.8zM473.8 372.6h0.8v0.8h-0.8zM456.5 386.1h0.8v0.8h-0.8zM460.0 384.5h0.8v0.8h-0.8zM463.0 375.1h0.8v0.8h-0.8zM485.6 398.1h0.8v0.8h-0.8zM468.9 376.2h0.8v0.8h-0.8zM452.9 384.2h0.8v0.8h-0.8zM474.9 379.3h0.8v0.8h-0.8zM457.0 394.8h0.8v0.8h-0.8zM460.0 364.4h0.8v0.8h-0.8zM471.4 380.3h0.8v0.8h-0.8zM471.1 367.6h0.8v0.8h-0.8zM459.8 392.0h0.8v0.8h-0.8zM460.9 406.7h0.8v0.8h-0.8zM463.3 377.2h0.8v0.8h-0.8zM478.2 376.2h0.8v0.8h-0.8zM475.9 375.5h0.8v0.8h-0.8zM469.7 364.7h0.8v0.8h-0.8zM457.1 404.4h0.8v0.8h-0.8zM474.1 402.0h0.8v0.8h-0.8zM453.8 399.1h0.8v0.8h-0.8zM457.2 398.9h0.8v0.8h-0.8zM481.5 396.8h0.8v0.8h-0.8zM458.5 383.9h0.8v0.8h-0.8zM461.6 398.7h0.8v0.8h-0.8zM460.9 407.9h0.8v0.8h-0.8zM460.8 382.3h0.8v0.8h-0.8zM474.1 389.7h0.8v0.8h-0.8zM481.1 406.9h0.8v0.8h-0.8zM467.5 378.4h0.8v0.8h-0.8zM454.7 396.3h0.8v0.8h-0.8zM461.1 383.4h0.8v0.8h-0.8zM473.2 369.8h0.8v0.8h-0.8zM465.1 357.3h0.8v0.8h-0.8zM458.4 390.7h0.8v0.8h-0.8zM461.6 379.5h0.8v0.8h-0.8zM460.9 397.2h0.8v0.8h-0.8zM477.1 401.6h0.8v0.8h-0.8zM453.5 373.4h0.8v0.8h-0.8zM476.1 402.3h0.8v0.8h-0.8zM459.5 392.7h0.8v0.8h-0.8zM469.8 363.3h0.8v0.8h-0.8zM474.0 406.3h0.8v0.8h-0.8zM477.1 406.9h0.8v0.8h-0.8zM461.2 358.2h0.8v0.8h-0.8zM456.3 399.2h0.8v0.8h-0.8zM472.9 377.4h0.8v0.8h-0.8zM473.1 382.9h0.8v0.8h-0.8zM452.4 377.6h0.8v0.8h-0.8zM477.6 393.5h0.8v0.8h-0.8zM474.4 405.3h0.8v0.8h-0.8zM460.0 387.6h0.8v0.8h-0.8zM457.8 397.0h0.8v0.8h-0.8zM463.1 382.6h0.8v0.8h-0.8zM475.5 383.7h0.8v0.8h-0.8zM475.1 401.2h0.8v0.8h-0.8zM475.8 408.0h0.8v0.8h-0.8zM463.6 383.1h0.8v0.8h-0.8zM463.4 384.1h0.8v0.8h-0.8zM464.4 380.2h0.8v0.8h-0.8zM457.5 390.6h0.8v0.8h-0.8zM456.1 376.6h0.8v0.8h-0.8zM471.4 383.6h0.8v0.8h-0.8zM466.9 363.5h0.8v0.8h-0.8zM451.4 387.0h0.8v0.8h-0.8zM458.8 405.1h0.8v0.8h-0.8zM461.0 378.3h0.8v0.8h-0.8z" fill="#000" fill-opacity="0.4"/>
<path d="M451.0 415.0h0.8v0.8h-0.8zM447.5 415.7h0.8v0.8h-0.8zM449.6 417.3h0.8v0.8h-0.8zM453.0 412.9h0.8v0.8h-0.8zM450.8 416.1h0.8v0.8h-0.8zM449.5 413.7h0.8v0.8h-0.8zM454.3 415.0h0.8v0.8h-0.8zM446.8 417.0h0.8v0.8h-0.8zM456.8 417.2h0.8v0.8h-0.8zM449.1 415.4h0.8v0.8h-0.8zM455.0 415.2h0.8v0.8h-0.8zM454.4 413.7h0.8v0.8h-0.8zM448.2 412.9h0.8v0.8h-0.8zM451.3 412.1h0.8v0.8h-0.8zM458.7 413.8h0.8v0.8h-0.8zM455.7 412.5h0.8v0.8h-0.8zM456.8 412.5h0.8v0.8h-0.8zM452.9 413.6h0.8v0.8h-0.8zM454.2 411.4h0.8v0.8h-0.8zM451.1 414.7h0.8v0.8h-0.8zM447.5 412.4h0.8v0.8h-0.8zM448.4 415.7h0.8v0.8h-0.8zM458.3 415.7h0.8v0.8h-0.8zM454.7 414.0h0.8v0.8h-0.8zM448.3 414.2h0.8v0.8h-0.8zM453.3 415.5h0.8v0.8h-0.8zM453.6 414.0h0.8v0.8h-0.8zM457.3 414.7h0.8v0.8h-0.8zM447.1 411.0h0.8v0.8h-0.8zM447.3 418.6h0.8v0.8h-0.8zM447.7 413.0h0.8v0.8h-0.8zM453.1 414.6h0.8v0.8h-0.8zM454.3 415.0h0.8v0.8h-0.8zM462.2 389.5h0.8v0.8h-0.8zM473.6 391.8h0.8v0.8h-0.8zM461.1 395.4h0.8v0.8h-0.8zM474.2 392.4h0.8v0.8h-0.8zM462.6 386.4h0.8v0.8h-0.8zM462.3 388.6h0.8v0.8h-0.8zM471.5 384.9h0.8v0.8h-0.8zM460.9 394.6h0.8v0.8h-0.8zM472.2 386.3h0.8v0.8h-0.8zM472.1 385.0h0.8v0.8h-0.8zM461.0 396.1h0.8v0.8h-0.8zM464.5 382.6h0.8v0.8h-0.8zM475.1 404.9h0.8v0.8h-0.8zM472.7 386.9h0.8v0.8h-0.8zM473.4 390.3h0.8v0.8h-0.8zM459.9 399.4h0.8v0.8h-0.8zM474.9 406.2h0.8v0.8h-0.8zM464.7 381.8h0.8v0.8h-0.8zM460.2 404.8h0.8v0.8h-0.8zM464.8 382.4h0.8v0.8h-0.8zM463.4 385.2h0.8v0.8h-0.8zM460.6 398.7h0.8v0.8h-0.8zM472.3 384.7h0.8v0.8h-0.8zM462.6 386.4h0.8v0.8h-0.8zM472.9 389.1h0.8v0.8h-0.8zM474.9 400.3h0.8v0.8h-0.8zM460.8 398.1h0.8v0.8h-0.8zM464.0 383.5h0.8v0.8h-0.8zM460.5 400.2h0.8v0.8h-0.8zM473.6 388.7h0.8v0.8h-0.8zM462.3 389.0h0.8v0.8h-0.8zM475.0 400.9h0.8v0.8h-0.8zM460.8 395.8h0.8v0.8h-0.8zM460.5 405.0h0.8v0.8h-0.8zM461.6 391.1h0.8v0.8h-0.8zM460.3 403.9h0.8v0.8h-0.8zM462.6 388.2h0.8v0.8h-0.8zM460.5 407.0h0.8v0.8h-0.8zM460.7 405.0h0.8v0.8h-0.8zM460.7 403.9h0.8v0.8h-0.8zM463.1 385.5h0.8v0.8h-0.8zM472.1 385.5h0.8v0.8h-0.8zM460.4 399.2h0.8v0.8h-0.8zM471.4 383.6h0.8v0.8h-0.8zM462.6 386.9h0.8v0.8h-0.8zM460.2 406.9h0.8v0.8h-0.8zM474.1 397.2h0.8v0.8h-0.8zM474.8 402.0h0.8v0.8h-0.8zM474.4 393.3h0.8v0.8h-0.8zM460.5 398.6h0.8v0.8h-0.8zM475.2 406.7h0.8v0.8h-0.8zM460.2 396.9h0.8v0.8h-0.8zM461.7 389.3h0.8v0.8h-0.8zM462.9 386.9h0.8v0.8h-0.8zM459.5 405.4h0.8v0.8h-0.8zM475.0 399.4h0.8v0.8h-0.8zM474.9 402.1h0.8v0.8h-0.8zM462.5 385.9h0.8v0.8h-0.8zM460.1 403.7h0.8v0.8h-0.8zM460.6 405.2h0.8v0.8h-0.8zM472.6 387.1h0.8v0.8h-0.8zM463.9 383.5h0.8v0.8h-0.8zM474.0 394.0h0.8v0.8h-0.8zM473.9 393.4h0.8v0.8h-0.8zM463.0 386.0h0.8v0.8h-0.8zM460.2 400.9h0.8v0.8h-0.8zM462.3 387.5h0.8v0.8h-0.8zM473.8 391.5h0.8v0.8h-0.8zM474.3 396.6h0.8v0.8h-0.8zM461.4 392.4h0.8v0.8h-0.8zM460.4 407.3h0.8v0.8h-0.8zM462.9 386.7h0.8v0.8h-0.8zM462.1 390.6h0.8v0.8h-0.8zM460.3 402.6h0.8v0.8h-0.8zM459.8 403.9h0.8v0.8h-0.8zM471.0 383.6h0.8v0.8h-0.8zM461.0 396.6h0.8v0.8h-0.8zM460.3 400.4h0.8v0.8h-0.8zM474.0 395.9h0.8v0.8h-0.8zM473.9 393.9h0.8v0.8h-0.8zM473.6 391.6h0.8v0.8h-0.8zM474.9 398.1h0.8v0.8h-0.8zM463.1 384.1h0.8v0.8h-0.8zM473.1 388.1h0.8v0.8h-0.8zM473.3 390.2h0.8v0.8h-0.8zM460.8 394.8h0.8v0.8h-0.8zM473.2 388.7h0.8v0.8h-0.8zM464.5 382.4h0.8v0.8h-0.8zM463.8 383.1h0.8v0.8h-0.8zM461.7 390.7h0.8v0.8h-0.8zM460.3 406.2h0.8v0.8h-0.8zM463.2 385.1h0.8v0.8h-0.8zM460.0 401.0h0.8v0.8h-0.8zM473.4 388.5h0.8v0.8h-0.8zM461.1 397.6h0.8v0.8h-0.8zM475.0 403.3h0.8v0.8h-0.8zM462.0 389.8h0.8v0.8h-0.8zM462.3 387.5h0.8v0.8h-0.8zM461.4 393.0h0.8v0.8h-0.8zM474.5 399.0h0.8v0.8h-0.8zM463.3 384.8h0.8v0.8h-0.8zM461.2 397.4h0.8v0.8h-0.8zM472.4 387.0h0.8v0.8h-0.8zM474.1 397.6h0.8v0.8h-0.8zM461.7 390.5h0.8v0.8h-0.8zM474.5 396.2h0.8v0.8h-0.8zM474.9 402.0h0.8v0.8h-0.8zM472.5 386.9h0.8v0.8h-0.8zM460.3 405.1h0.8v0.8h-0.8zM474.8 401.4h0.8v0.8h-0.8zM473.8 391.5h0.8v0.8h-0.8zM461.7 393.4h0.8v0.8h-0.8zM460.0 405.9h0.8v0.8h-0.8zM473.3 391.7h0.8v0.8h-0.8zM473.8 391.7h0.8v0.8h-0.8zM460.4 402.9h0.8v0.8h-0.8zM474.0 396.8h0.8v0.8h-0.8zM463.0 386.6h0.8v0.8h-0.8zM475.1 404.0h0.8v0.8h-0.8zM473.8 392.9h0.8v0.8h-0.8zM460.1 397.3h0.8v0.8h-0.8zM474.9 402.7h0.8v0.8h-0.8zM460.2 404.2h0.8v0.8h-0.8zM460.6 395.0h0.8v0.8h-0.8zM464.0 373.5h0.8v0.8h-0.8zM467.7 381.5h0.8v0.8h-0.8zM467.6 378.2h0.8v0.8h-0.8zM465.6 374.4h0.8v0.8h-0.8zM464.2 371.5h0.8v0.8h-0.8zM468.8 362.8h0.8v0.8h-0.8zM473.8 381.2h0.8v0.8h-0.8zM474.0 383.2h0.8v0.8h-0.8zM464.1 377.0h0.8v0.8h-0.8zM469.7 380.1h0.8v0.8h-0.8zM462.6 375.7h0.8v0.8h-0.8zM466.4 372.4h0.8v0.8h-0.8zM469.6 380.5h0.8v0.8h-0.8zM464.0 374.1h0.8v0.8h-0.8zM469.7 378.3h0.8v0.8h-0.8zM462.2 379.3h0.8v0.8h-0.8zM464.5 380.2h0.8v0.8h-0.8zM469.6 382.3h0.8v0.8h-0.8zM463.0 372.9h0.8v0.8h-0.8zM467.0 381.3h0.8v0.8h-0.8zM465.6 380.3h0.8v0.8h-0.8zM467.7 383.0h0.8v0.8h-0.8zM464.4 374.4h0.8v0.8h-0.8zM474.2 376.5h0.8v0.8h-0.8zM465.5 377.6h0.8v0.8h-0.8zM466.4 380.9h0.8v0.8h-0.8zM470.3 381.9h0.8v0.8h-0.8zM465.2 371.9h0.8v0.8h-0.8zM465.3 369.7h0.8v0.8h-0.8zM467.4 378.4h0.8v0.8h-0.8zM475.1 379.5h0.8v0.8h-0.8zM477.0 373.5h0.8v0.8h-0.8zM469.0 376.7h0.8v0.8h-0.8zM468.0 373.1h0.8v0.8h-0.8zM461.8 382.2h0.8v0.8h-0.8zM470.9 370.9h0.8v0.8h-0.8zM462.2 380.8h0.8v0.8h-0.8zM467.0 374.0h0.8v0.8h-0.8zM466.0 378.3h0.8v0.8h-0.8zM467.5 382.2h0.8v0.8h-0.8zM465.6 368.1h0.8v0.8h-0.8zM471.5 380.2h0.8v0.8h-0.8zM469.8 383.6h0.8v0.8h-0.8zM467.1 375.5h0.8v0.8h-0.8zM471.1 376.5h0.8v0.8h-0.8zM464.2 381.8h0.8v0.8h-0.8zM462.2 379.0h0.8v0.8h-0.8zM479.5 375.4h0.8v0.8h-0.8zM470.9 377.8h0.8v0.8h-0.8zM472.0 373.8h0.8v0.8h-0.8zM459.9 375.3h0.8v0.8h-0.8zM471.9 379.5h0.8v0.8h-0.8zM466.9 375.6h0.8v0.8h-0.8zM471.5 373.3h0.8v0.8h-0.8zM469.3 369.6h0.8v0.8h-0.8zM467.4 377.3h0.8v0.8h-0.8zM459.2 383.0h0.8v0.8h-0.8zM473.1 381.5h0.8v0.8h-0.8zM471.4 364.9h0.8v0.8h-0.8zM467.7 369.0h0.8v0.8h-0.8zM470.8 378.5h0.8v0.8h-0.8zM464.3 382.9h0.8v0.8h-0.8zM473.7 379.7h0.8v0.8h-0.8zM468.6 374.9h0.8v0.8h-0.8zM471.3 380.5h0.8v0.8h-0.8zM474.9 379.6h0.8v0.8h-0.8zM466.3 382.7h0.8v0.8h-0.8zM465.7 382.1h0.8v0.8h-0.8zM468.8 371.0h0.8v0.8h-0.8zM469.5 378.7h0.8v0.8h-0.8zM477.7 371.9h0.8v0.8h-0.8zM469.3 377.2h0.8v0.8h-0.8zM464.3 381.1h0.8v0.8h-0.8zM472.3 376.6h0.8v0.8h-0.8zM474.4 375.9h0.8v0.8h-0.8zM464.3 375.6h0.8v0.8h-0.8zM465.2 367.8h0.8v0.8h-0.8zM468.2 382.2h0.8v0.8h-0.8zM467.3 382.2h0.8v0.8h-0.8zM474.5 382.3h0.8v0.8h-0.8zM465.9 379.5h0.8v0.8h-0.8zM467.3 372.5h0.8v0.8h-0.8zM465.3 378.3h0.8v0.8h-0.8zM468.9 382.9h0.8v0.8h-0.8zM470.4 366.7h0.8v0.8h-0.8zM470.9 362.6h0.8v0.8h-0.8zM469.1 373.7h0.8v0.8h-0.8zM464.7 376.0h0.8v0.8h-0.8zM464.5 380.0h0.8v0.8h-0.8zM466.5 369.8h0.8v0.8h-0.8zM462.7 375.6h0.8v0.8h-0.8zM467.3 369.1h0.8v0.8h-0.8zM469.3 375.2h0.8v0.8h-0.8zM475.8 374.1h0.8v0.8h-0.8zM463.8 372.4h0.8v0.8h-0.8zM462.1 381.6h0.8v0.8h-0.8zM473.8 378.3h0.8v0.8h-0.8zM472.9 377.9h0.8v0.8h-0.8zM465.6 376.5h0.8v0.8h-0.8zM462.2 376.7h0.8v0.8h-0.8zM464.5 378.7h0.8v0.8h-0.8zM460.6 379.2h0.8v0.8h-0.8zM466.7 378.1h0.8v0.8h-0.8zM467.3 374.2h0.8v0.8h-0.8z" fill="#000" fill-opacity="0.5"/>
<path d="M449.1 412.5h0.8v0.8h-0.8zM449.7 412.0h0.8v0.8h-0.8zM454.6 414.8h0.8v0.8h-0.8zM457.8 414.8h0.8v0.8h-0.8zM456.4 413.2h0.8v0.8h-0.8zM452.1 416.4h0.8v0.8h-0.8zM450.5 415.9h0.8v0.8h-0.8zM450.4 413.3h0.8v0.8h-0.8zM453.0 413.5h0.8v0.8h-0.8zM453.1 412.8h0.8v0.8h-0.8zM455.1 411.4h0.8v0.8h-0.8zM455.7 412.2h0.8v0.8h-0.8zM450.5 413.9h0.8v0.8h-0.8zM456.8 414.2h0.8v0.8h-0.8zM454.2 413.2h0.8v0.8h-0.8zM454.2 416.3h0.8v0.8h-0.8zM453.7 415.5h0.8v0.8h-0.8zM453.6 413.9h0.8v0.8h-0.8zM451.2 412.7h0.8v0.8h-0.8zM456.0 412.7h0.8v0.8h-0.8zM456.0 412.5h0.8v0.8h-0.8zM456.8 418.7h0.8v0.8h-0.8zM454.8 412.9h0.8v0.8h-0.8zM454.9 415.4h0.8v0.8h-0.8zM453.9 416.1h0.8v0.8h-0.8zM452.0 416.3h0.8v0.8h-0.8zM452.7 414.1h0.8v0.8h-0.8zM458.1 414.5h0.8v0.8h-0.8zM455.3 414.7h0.8v0.8h-0.8zM455.8 413.2h0.8v0.8h-0.8zM460.6 406.9h0.8v0.8h-0.8zM461.9 397.2h0.8v0.8h-0.8zM462.0 391.9h0.8v0.8h-0.8zM463.7 385.9h0.8v0.8h-0.8zM474.1 400.3h0.8v0.8h-0.8zM472.2 388.0h0.8v0.8h-0.8zM461.0 406.5h0.8v0.8h-0.8zM465.1 383.1h0.8v0.8h-0.8zM470.2 383.1h0.8v0.8h-0.8zM460.7 401.4h0.8v0.8h-0.8zM462.7 389.9h0.8v0.8h-0.8zM461.3 398.0h0.8v0.8h-0.8zM463.1 389.5h0.8v0.8h-0.8zM461.1 402.2h0.8v0.8h-0.8zM472.8 390.7h0.8v0.8h-0.8zM472.9 391.3h0.8v0.8h-0.8zM474.4 407.0h0.8v0.8h-0.8zM471.8 386.6h0.8v0.8h-0.8zM460.9 403.6h0.8v0.8h-0.8zM474.3 403.3h0.8v0.8h-0.8zM463.5 384.7h0.8v0.8h-0.8zM464.3 384.2h0.8v0.8h-0.8zM460.4 407.2h0.8v0.8h-0.8zM461.8 391.7h0.8v0.8h-0.8zM471.8 386.0h0.8v0.8h-0.8zM473.5 395.2h0.8v0.8h-0.8zM460.7 404.9h0.8v0.8h-0.8zM461.0 407.2h0.8v0.8h-0.8zM474.4 399.6h0.8v0.8h-0.8zM474.3 407.2h0.8v0.8h-0.8zM462.2 390.2h0.8v0.8h-0.8zM463.7 386.9h0.8v0.8h-0.8zM465.2 382.5h0.8v0.8h-0.8zM461.3 399.7h0.8v0.8h-0.8zM461.8 398.9h0.8v0.8h-0.8zM462.8 388.7h0.8v0.8h-0.8zM461.4 401.7h0.8v0.8h-0.8zM462.2 390.5h0.8v0.8h-0.8zM471.6 386.3h0.8v0.8h-0.8zM460.9 401.2h0.8v0.8h-0.8zM473.0 393.6h0.8v0.8h-0.8zM473.8 396.1h0.8v0.8h-0.8zM474.2 402.6h0.8v0.8h-0.8zM462.5 390.6h0.8v0.8h-0.8zM473.9 397.1h0.8v0.8h-0.8zM473.6 393.8h0.8v0.8h-0.8zM460.2 407.2h0.8v0.8h-0.8zM473.5 396.5h0.8v0.8h-0.8zM469.4 382.0h0.8v0.8h-0.8zM464.1 384.3h0.8v0.8h-0.8zM472.9 392.7h0.8v0.8h-0.8zM463.5 386.0h0.8v0.8h-0.8zM461.1 406.0h0.8v0.8h-0.8zM471.9 386.7h0.8v0.8h-0.8zM474.4 406.8h0.8v0.8h-0.8zM460.3 407.6h0.8v0.8h-0.8zM474.9 406.2h0.8v0.8h-0.8zM460.8 401.5h0.8v0.8h-0.8zM461.3 400.4h0.8v0.8h-0.8zM461.1 398.2h0.8v0.8h-0.8zM471.6 386.0h0.8v0.8h-0.8zM474.6 406.9h0.8v0.8h-0.8zM462.4 391.9h0.8v0.8h-0.8zM473.6 397.1h0.8v0.8h-0.8zM474.2 398.7h0.8v0.8h-0.8zM462.7 390.5h0.8v0.8h-0.8zM471.8 386.7h0.8v0.8h-0.8zM462.4 389.5h0.8v0.8h-0.8zM463.7 384.3h0.8v0.8h-0.8zM460.6 405.6h0.8v0.8h-0.8zM461.5 400.5h0.8v0.8h-0.8zM461.4 397.0h0.8v0.8h-0.8zM473.7 397.2h0.8v0.8h-0.8zM473.0 390.6h0.8v0.8h-0.8zM474.5 401.3h0.8v0.8h-0.8zM472.7 388.6h0.8v0.8h-0.8zM461.4 397.7h0.8v0.8h-0.8zM462.6 388.8h0.8v0.8h-0.8zM474.0 399.7h0.8v0.8h-0.8zM463.8 385.0h0.8v0.8h-0.8zM472.3 389.3h0.8v0.8h-0.8zM474.5 405.4h0.8v0.8h-0.8zM461.4 393.6h0.8v0.8h-0.8zM463.2 387.1h0.8v0.8h-0.8zM461.3 396.1h0.8v0.8h-0.8zM472.2 390.1h0.8v0.8h-0.8zM474.7 407.3h0.8v0.8h-0.8zM461.4 395.3h0.8v0.8h-0.8zM474.5 400.7h0.8v0.8h-0.8zM465.1 382.6h0.8v0.8h-0.8zM461.2 399.2h0.8v0.8h-0.8zM461.1 399.0h0.8v0.8h-0.8zM461.0 400.6h0.8v0.8h-0.8zM460.3 404.5h0.8v0.8h-0.8zM471.4 383.9h0.8v0.8h-0.8zM462.8 390.7h0.8v0.8h-0.8zM461.8 393.7h0.8v0.8h-0.8zM462.0 396.1h0.8v0.8h-0.8zM463.2 388.2h0.8v0.8h-0.8zM471.0 385.3h0.8v0.8h-0.8zM460.6 402.3h0.8v0.8h-0.8zM461.6 392.6h0.8v0.8h-0.8zM462.8 387.5h0.8v0.8h-0.8zM461.5 398.0h0.8v0.8h-0.8zM474.0 401.9h0.8v0.8h-0.8zM474.2 399.3h0.8v0.8h-0.8zM460.9 400.2h0.8v0.8h-0.8zM474.1 402.2h0.8v0.8h-0.8zM461.2 396.1h0.8v0.8h-0.8zM464.1 383.8h0.8v0.8h-0.8zM461.1 402.7h0.8v0.8h-0.8zM462.6 388.9h0.8v0.8h-0.8zM473.6 397.6h0.8v0.8h-0.8zM473.4 394.1h0.8v0.8h-0.8zM472.6 389.1h0.8v0.8h-0.8zM464.7 383.0h0.8v0.8h-0.8zM472.1 386.1h0.8v0.8h-0.8zM462.2 390.1h0.8v0.8h-0.8zM473.4 398.5h0.8v0.8h-0.8zM474.1 406.2h0.8v0.8h-0.8zM461.0 406.7h0.8v0.8h-0.8zM474.1 402.6h0.8v0.8h-0.8zM462.2 392.7h0.8v0.8h-0.8zM473.8 395.0h0.8v0.8h-0.8zM461.4 396.6h0.8v0.8h-0.8zM474.2 405.0h0.8v0.8h-0.8zM473.5 390.6h0.8v0.8h-0.8zM473.6 395.9h0.8v0.8h-0.8zM469.3 382.2h0.8v0.8h-0.8zM473.6 393.6h0.8v0.8h-0.8zM462.4 390.3h0.8v0.8h-0.8zM473.1 388.8h0.8v0.8h-0.8zM471.1 384.7h0.8v0.8h-0.8zM461.6 392.4h0.8v0.8h-0.8zM461.0 398.5h0.8v0.8h-0.8zM474.3 400.3h0.8v0.8h-0.8zM464.4 383.3h0.8v0.8h-0.8zM461.8 393.3h0.8v0.8h-0.8zM474.5 407.7h0.8v0.8h-0.8zM461.4 396.9h0.8v0.8h-0.8zM461.1 403.7h0.8v0.8h-0.8zM474.4 402.9h0.8v0.8h-0.8zM474.5 404.0h0.8v0.8h-0.8zM474.6 401.1h0.8v0.8h-0.8zM474.2 399.2h0.8v0.8h-0.8zM462.8 389.2h0.8v0.8h-0.8zM460.8 401.2h0.8v0.8h-0.8zM473.5 396.6h0.8v0.8h-0.8zM461.2 401.9h0.8v0.8h-0.8zM461.7 398.9h0.8v0.8h-0.8zM473.4 392.5h0.8v0.8h-0.8zM473.9 397.8h0.8v0.8h-0.8zM460.7 405.2h0.8v0.8h-0.8zM474.3 402.4h0.8v0.8h-0.8zM460.8 397.4h0.8v0.8h-0.8zM461.2 401.4h0.8v0.8h-0.8zM473.0 391.4h0.8v0.8h-0.8zM473.4 392.9h0.8v0.8h-0.8zM460.9 406.7h0.8v0.8h-0.8zM472.5 390.4h0.8v0.8h-0.8zM470.0 378.5h0.8v0.8h-0.8zM464.4 379.4h0.8v0.8h-0.8zM462.7 375.9h0.8v0.8h-0.8zM469.0 376.5h0.8v0.8h-0.8zM463.5 374.3h0.8v0.8h-0.8zM467.7 381.5h0.8v0.8h-0.8zM466.1 378.1h0.8v0.8h-0.8zM469.2 381.7h0.8v0.8h-0.8zM467.8 378.1h0.8v0.8h-0.8zM471.0 381.6h0.8v0.8h-0.8zM472.9 382.9h0.8v0.8h-0.8zM471.0 375.8h0.8v0.8h-0.8zM469.7 376.4h0.8v0.8h-0.8zM462.2 370.4h0.8v0.8h-0.8zM468.4 378.9h0.8v0.8h-0.8zM477.4 380.1h0.8v0.8h-0.8zM463.1 383.4h0.8v0.8h-0.8zM465.0 382.2h0.8v0.8h-0.8zM468.0 376.5h0.8v0.8h-0.8zM475.1 377.1h0.8v0.8h-0.8zM464.0 379.6h0.8v0.8h-0.8zM469.6 379.3h0.8v0.8h-0.8zM467.8 378.9h0.8v0.8h-0.8zM475.4 373.6h0.8v0.8h-0.8zM471.0 381.4h0.8v0.8h-0.8zM469.9 379.0h0.8v0.8h-0.8zM466.6 378.1h0.8v0.8h-0.8zM472.1 374.8h0.8v0.8h-0.8zM470.3 374.6h0.8v0.8h-0.8zM469.3 383.1h0.8v0.8h-0.8zM467.8 376.1h0.8v0.8h-0.8zM472.5 371.5h0.8v0.8h-0.8zM462.3 383.3h0.8v0.8h-0.8zM462.2 380.7h0.8v0.8h-0.8zM466.1 368.8h0.8v0.8h-0.8zM459.3 373.8h0.8v0.8h-0.8zM467.6 374.1h0.8v0.8h-0.8zM467.6 380.6h0.8v0.8h-0.8zM466.0 377.5h0.8v0.8h-0.8zM462.6 382.5h0.8v0.8h-0.8zM475.5 380.8h0.8v0.8h-0.8zM474.2 382.1h0.8v0.8h-0.8zM462.3 379.9h0.8v0.8h-0.8zM471.1 383.6h0.8v0.8h-0.8zM467.4 377.6h0.8v0.8h-0.8zM467.7 379.6h0.8v0.8h-0.8zM469.6 382.0h0.8v0.8h-0.8zM471.4 371.5h0.8v0.8h-0.8zM474.4 370.3h0.8v0.8h-0.8zM459.3 374.4h0.8v0.8h-0.8zM470.2 379.9h0.8v0.8h-0.8zM459.9 381.6h0.8v0.8h-0.8zM475.8 381.6h0.8v0.8h-0.8zM464.9 368.4h0.8v0.8h-0.8zM461.5 378.0h0.8v0.8h-0.8zM468.6 376.1h0.8v0.8h-0.8zM474.6 379.0h0.8v0.8h-0.8zM465.6 370.9h0.8v0.8h-0.8zM467.5 382.6h0.8v0.8h-0.8zM471.5 379.0h0.8v0.8h-0.8zM467.9 374.4h0.8v0.8h-0.8zM468.9 383.1h0.8v0.8h-0.8zM467.6 371.4h0.8v0.8h-0.8zM465.6 377.8h0.8v0.8h-0.8zM462.8 375.7h0.8v0.8h-0.8zM471.6 370.8h0.8v0.8h-0.8zM467.1 370.9h0.8v0.8h-0.8zM468.3 381.8h0.8v0.8h-0.8zM464.7 381.1h0.8v0.8h-0.8zM474.0 377.2h0.8v0.8h-0.8zM466.9 376.8h0.8v0.8h-0.8zM460.0 379.2h0.8v0.8h-0.8zM473.8 383.3h0.8v0.8h-0.8zM465.2 372.4h0.8v0.8h-0.8zM466.9 379.3h0.8v0.8h-0.8zM468.4 383.1h0.8v0.8h-0.8zM463.0 375.9h0.8v0.8h-0.8zM472.0 375.2h0.8v0.8h-0.8zM467.6 375.0h0.8v0.8h-0.8zM470.1 381.6h0.8v0.8h-0.8zM460.5 380.2h0.8v0.8h-0.8zM460.9 375.6h0.8v0.8h-0.8zM460.5 376.4h0.8v0.8h-0.8zM471.4 383.0h0.8v0.8h-0.8zM468.4 382.9h0.8v0.8h-0.8zM463.0 382.3h0.8v0.8h-0.8zM472.9 373.9h0.8v0.8h-0.8zM470.3 379.5h0.8v0.8h-0.8zM460.6 371.8h0.8v0.8h-0.8zM467.4 383.1h0.8v0.8h-0.8zM459.8 380.1h0.8v0.8h-0.8zM469.3 379.8h0.8v0.8h-0.8zM456.7 374.5h0.8v0.8h-0.8zM466.3 375.7h0.8v0.8h-0.8zM472.1 380.9h0.8v0.8h-0.8zM466.7 380.0h0.8v0.8h-0.8zM475.4 378.3h0.8v0.8h-0.8zM471.5 377.0h0.8v0.8h-0.8zM465.8 378.8h0.8v0.8h-0.8zM460.2 379.7h0.8v0.8h-0.8z" fill="#000" fill-opacity="0.6"/>
<path d="M458.0 416.9h0.8v0.8h-0.8zM454.5 413.5h0.8v0.8h-0.8zM454.5 413.5h0.8v0.8h-0.8zM454.7 412.0h0.8v0.8h-0.8zM455.1 413.0h0.8v0.8h-0.8zM455.7 414.4h0.8v0.8h-0.8zM454.0 414.7h0.8v0.8h-0.8zM453.0 416.8h0.8v0.8h-0.8zM454.6 413.2h0.8v0.8h-0.8zM456.9 414.1h0.8v0.8h-0.8zM454.8 413.2h0.8v0.8h-0.8zM454.3 419.5h0.8v0.8h-0.8zM456.7 417.6h0.8v0.8h-0.8zM457.7 413.3h0.8v0.8h-0.8zM451.7 414.6h0.8v0.8h-0.8zM456.2 414.9h0.8v0.8h-0.8zM454.7 415.0h0.8v0.8h-0.8zM457.3 414.2h0.8v0.8h-0.8zM458.0 415.2h0.8v0.8h-0.8zM458.2 412.7h0.8v0.8h-0.8zM456.6 412.7h0.8v0.8h-0.8zM456.8 411.3h0.8v0.8h-0.8zM452.0 416.5h0.8v0.8h-0.8zM453.8 414.9h0.8v0.8h-0.8zM452.0 413.4h0.8v0.8h-0.8zM461.2 403.8h0.8v0.8h-0.8zM472.6 390.5h0.8v0.8h-0.8zM473.3 398.0h0.8v0.8h-0.8zM461.8 401.8h0.8v0.8h-0.8zM461.9 397.1h0.8v0.8h-0.8zM461.0 403.4h0.8v0.8h-0.8zM462.0 395.4h0.8v0.8h-0.8zM463.8 386.3h0.8v0.8h-0.8zM473.7 397.3h0.8v0.8h-0.8zM473.5 401.0h0.8v0.8h-0.8zM471.5 386.6h0.8v0.8h-0.8zM462.6 392.4h0.8v0.8h-0.8zM473.6 399.5h0.8v0.8h-0.8zM464.4 385.1h0.8v0.8h-0.8zM461.4 406.8h0.8v0.8h-0.8zM472.0 388.0h0.8v0.8h-0.8zM474.0 407.6h0.8v0.8h-0.8zM471.4 386.2h0.8v0.8h-0.8zM465.7 383.1h0.8v0.8h-0.8zM462.1 399.6h0.8v0.8h-0.8zM472.5 390.6h0.8v0.8h-0.8zM461.7 404.2h0.8v0.8h-0.8zM473.8 407.3h0.8v0.8h-0.8zM473.6 399.5h0.8v0.8h-0.8zM461.4 399.5h0.8v0.8h-0.8zM461.9 401.2h0.8v0.8h-0.8zM473.0 396.1h0.8v0.8h-0.8zM473.6 404.5h0.8v0.8h-0.8zM471.2 385.3h0.8v0.8h-0.8zM473.9 405.6h0.8v0.8h-0.8zM464.2 385.6h0.8v0.8h-0.8zM462.0 397.1h0.8v0.8h-0.8zM473.7 403.4h0.8v0.8h-0.8zM461.3 407.6h0.8v0.8h-0.8zM473.6 406.5h0.8v0.8h-0.8zM473.8 407.8h0.8v0.8h-0.8zM463.8 387.6h0.8v0.8h-0.8zM472.9 393.9h0.8v0.8h-0.8zM464.6 385.0h0.8v0.8h-0.8zM472.6 391.2h0.8v0.8h-0.8zM463.6 387.3h0.8v0.8h-0.8zM473.8 405.8h0.8v0.8h-0.8zM473.5 403.5h0.8v0.8h-0.8zM461.4 407.1h0.8v0.8h-0.8zM461.8 402.7h0.8v0.8h-0.8zM473.4 398.6h0.8v0.8h-0.8zM464.6 385.0h0.8v0.8h-0.8zM461.8 399.7h0.8v0.8h-0.8zM471.7 386.6h0.8v0.8h-0.8zM469.2 382.0h0.8v0.8h-0.8zM461.9 398.7h0.8v0.8h-0.8zM474.1 407.6h0.8v0.8h-0.8zM462.5 393.1h0.8v0.8h-0.8zM461.4 401.1h0.8v0.8h-0.8zM462.1 395.8h0.8v0.8h-0.8zM461.2 404.7h0.8v0.8h-0.8zM473.6 405.3h0.8v0.8h-0.8zM461.0 404.1h0.8v0.8h-0.8zM471.3 387.0h0.8v0.8h-0.8zM462.0 400.2h0.8v0.8h-0.8zM470.5 383.9h0.8v0.8h-0.8zM464.9 384.3h0.8v0.8h-0.8zM464.2 386.6h0.8v0.8h-0.8zM462.8 390.2h0.8v0.8h-0.8zM472.3 390.7h0.8v0.8h-0.8zM462.3 397.2h0.8v0.8h-0.8zM462.3 395.5h0.8v0.8h-0.8zM473.1 395.6h0.8v0.8h-0.8zM464.6 385.3h0.8v0.8h-0.8zM473.9 403.9h0.8v0.8h-0.8zM473.0 395.8h0.8v0.8h-0.8zM470.6 385.0h0.8v0.8h-0.8zM473.6 400.3h0.8v0.8h-0.8zM461.8 398.2h0.8v0.8h-0.8zM471.0 386.2h0.8v0.8h-0.8zM461.6 405.8h0.8v0.8h-0.8zM466.4 382.0h0.8v0.8h-0.8zM462.3 397.0h0.8v0.8h-0.8zM462.0 397.5h0.8v0.8h-0.8zM473.6 401.3h0.8v0.8h-0.8zM470.6 383.9h0.8v0.8h-0.8zM472.3 393.0h0.8v0.8h-0.8zM473.2 394.8h0.8v0.8h-0.8zM473.4 401.0h0.8v0.8h-0.8zM462.1 393.3h0.8v0.8h-0.8zM473.4 397.2h0.8v0.8h-0.8zM473.3 396.0h0.8v0.8h-0.8zM461.4 400.0h0.8v0.8h-0.8zM469.5 382.4h0.8v0.8h-0.8zM462.0 398.3h0.8v0.8h-0.8zM466.3 381.8h0.8v0.8h-0.8zM473.6 396.8h0.8v0.8h-0.8zM462.1 398.0h0.8v0.8h-0.8zM462.0 395.6h0.8v0.8h-0.8zM461.0 405.5h0.8v0.8h-0.8zM470.0 384.0h0.8v0.8h-0.8zM461.5 405.6h0.8v0.8h-0.8zM470.1 383.6h0.8v0.8h-0.8zM471.4 386.6h0.8v0.8h-0.8zM461.7 399.1h0.8v0.8h-0.8zM471.2 385.3h0.8v0.8h-0.8zM462.3 395.4h0.8v0.8h-0.8zM473.8 401.9h0.8v0.8h-0.8zM461.0 407.7h0.8v0.8h-0.8zM462.5 394.6h0.8v0.8h-0.8zM462.7 393.1h0.8v0.8h-0.8zM462.6 392.8h0.8v0.8h-0.8zM473.6 407.5h0.8v0.8h-0.8zM473.5 403.0h0.8v0.8h-0.8zM466.2 382.2h0.8v0.8h-0.8zM473.9 398.8h0.8v0.8h-0.8zM468.9 382.0h0.8v0.8h-0.8zM473.6 405.9h0.8v0.8h-0.8zM473.6 406.5h0.8v0.8h-0.8zM462.8 391.5h0.8v0.8h-0.8zM472.0 390.0h0.8v0.8h-0.8zM470.5 383.6h0.8v0.8h-0.8zM465.3 383.6h0.8v0.8h-0.8zM470.3 383.1h0.8v0.8h-0.8zM463.2 390.9h0.8v0.8h-0.8zM461.3 403.0h0.8v0.8h-0.8zM473.6 407.4h0.8v0.8h-0.8zM461.4 406.5h0.8v0.8h-0.8zM472.4 389.4h0.8v0.8h-0.8zM471.9 387.3h0.8v0.8h-0.8zM464.7 384.9h0.8v0.8h-0.8zM461.0 406.6h0.8v0.8h-0.8zM473.0 397.0h0.8v0.8h-0.8zM464.1 386.6h0.8v0.8h-0.8zM462.2 396.0h0.8v0.8h-0.8zM461.7 397.3h0.8v0.8h-0.8zM473.0 396.4h0.8v0.8h-0.8zM461.9 397.9h0.8v0.8h-0.8zM463.6 386.5h0.8v0.8h-0.8zM472.5 392.0h0.8v0.8h-0.8zM468.4 381.7h0.8v0.8h-0.8zM469.9 383.4h0.8v0.8h-0.8zM472.8 392.8h0.8v0.8h-0.8zM473.4 402.7h0.8v0.8h-0.8zM473.6 402.7h0.8v0.8h-0.8zM473.4 400.2h0.8v0.8h-0.8zM460.9 406.9h0.8v0.8h-0.8zM464.5 385.7h0.8v0.8h-0.8zM463.0 387.9h0.8v0.8h-0.8zM461.5 405.7h0.8v0.8h-0.8zM470.7 383.8h0.8v0.8h-0.8zM465.7 383.0h0.8v0.8h-0.8zM463.4 389.9h0.8v0.8h-0.8zM472.9 397.2h0.8v0.8h-0.8zM461.0 404.9h0.8v0.8h-0.8zM461.9 399.0h0.8v0.8h-0.8zM464.3 384.7h0.8v0.8h-0.8zM461.8 401.9h0.8v0.8h-0.8zM462.1 398.9h0.8v0.8h-0.8zM463.9 386.3h0.8v0.8h-0.8zM461.7 406.3h0.8v0.8h-0.8zM462.6 391.3h0.8v0.8h-0.8zM470.8 385.1h0.8v0.8h-0.8zM472.8 392.7h0.8v0.8h-0.8zM473.3 398.1h0.8v0.8h-0.8zM462.3 396.8h0.8v0.8h-0.8zM461.9 400.8h0.8v0.8h-0.8zM464.1 386.8h0.8v0.8h-0.8zM473.7 406.4h0.8v0.8h-0.8zM473.9 406.5h0.8v0.8h-0.8zM471.7 388.8h0.8v0.8h-0.8zM461.0 406.2h0.8v0.8h-0.8zM473.0 393.0h0.8v0.8h-0.8zM473.6 401.9h0.8v0.8h-0.8zM470.6 385.0h0.8v0.8h-0.8zM461.6 397.3h0.8v0.8h-0.8zM461.1 405.2h0.8v0.8h-0.8zM470.1 383.3h0.8v0.8h-0.8zM462.2 397.2h0.8v0.8h-0.8zM461.6 403.0h0.8v0.8h-0.8zM471.4 387.2h0.8v0.8h-0.8zM463.4 387.8h0.8v0.8h-0.8zM473.8 404.4h0.8v0.8h-0.8zM471.5 387.7h0.8v0.8h-0.8zM462.9 392.5h0.8v0.8h-0.8zM462.6 393.8h0.8v0.8h-0.8zM471.6 388.2h0.8v0.8h-0.8zM462.0 399.0h0.8v0.8h-0.8zM463.7 387.9h0.8v0.8h-0.8zM462.9 390.5h0.8v0.8h-0.8zM462.3 395.5h0.8v0.8h-0.8zM462.4 393.5h0.8v0.8h-0.8zM462.5 392.6h0.8v0.8h-0.8zM465.1 383.5h0.8v0.8h-0.8zM473.1 394.4h0.8v0.8h-0.8zM473.0 395.9h0.8v0.8h-0.8zM461.9 398.1h0.8v0.8h-0.8zM463.9 387.2h0.8v0.8h-0.8zM462.9 391.2h0.8v0.8h-0.8zM472.3 391.7h0.8v0.8h-0.8zM461.0 403.9h0.8v0.8h-0.8zM471.5 386.5h0.8v0.8h-0.8zM464.0 386.4h0.8v0.8h-0.8zM462.4 395.8h0.8v0.8h-0.8zM460.9 407.3h0.8v0.8h-0.8zM461.5 407.4h0.8v0.8h-0.8zM466.0 382.7h0.8v0.8h-0.8zM474.0 402.4h0.8v0.8h-0.8zM470.7 385.5h0.8v0.8h-0.8z" fill="#000" fill-opacity="0.7"/>
<path d="M458.3 413.9h0.8v0.8h-0.8zM455.9 411.3h0.8v0.8h-0.8zM455.5 413.3h0.8v0.8h-0.8zM456.8 411.9h0.8v0.8h-0.8zM457.9 415.0h0.8v0.8h-0.8zM457.8 415.3h0.8v0.8h-0.8zM458.2 412.7h0.8v0.8h-0.8zM455.0 413.9h0.8v0.8h-0.8zM455.7 416.7h0.8v0.8h-0.8zM456.7 414.1h0.8v0.8h-0.8zM455.9 416.2h0.8v0.8h-0.8zM471.9 390.5h0.8v0.8h-0.8zM473.1 399.5h0.8v0.8h-0.8zM461.7 405.1h0.8v0.8h-0.8zM469.4 382.9h0.8v0.8h-0.8zM473.6 405.9h0.8v0.8h-0.8zM462.4 394.8h0.8v0.8h-0.8zM465.1 384.1h0.8v0.8h-0.8zM462.0 400.4h0.8v0.8h-0.8zM472.5 393.1h0.8v0.8h-0.8zM473.6 405.1h0.8v0.8h-0.8zM473.1 399.2h0.8v0.8h-0.8zM470.5 385.1h0.8v0.8h-0.8zM464.5 385.7h0.8v0.8h-0.8zM473.0 397.2h0.8v0.8h-0.8zM473.1 399.0h0.8v0.8h-0.8zM461.7 404.2h0.8v0.8h-0.8zM472.4 393.4h0.8v0.8h-0.8zM472.7 395.4h0.8v0.8h-0.8zM463.7 388.3h0.8v0.8h-0.8zM471.0 386.8h0.8v0.8h-0.8zM462.0 399.4h0.8v0.8h-0.8zM462.8 393.4h0.8v0.8h-0.8zM465.7 382.9h0.8v0.8h-0.8zM471.5 388.6h0.8v0.8h-0.8zM461.8 403.7h0.8v0.8h-0.8zM462.5 395.3h0.8v0.8h-0.8zM462.4 396.1h0.8v0.8h-0.8zM468.8 382.1h0.8v0.8h-0.8zM473.6 404.2h0.8v0.8h-0.8zM463.9 387.5h0.8v0.8h-0.8zM469.8 383.3h0.8v0.8h-0.8zM471.4 388.0h0.8v0.8h-0.8zM473.3 400.9h0.8v0.8h-0.8zM473.4 401.2h0.8v0.8h-0.8zM471.1 386.5h0.8v0.8h-0.8zM462.0 398.5h0.8v0.8h-0.8zM463.4 390.1h0.8v0.8h-0.8zM469.7 383.4h0.8v0.8h-0.8zM464.9 384.3h0.8v0.8h-0.8zM464.8 384.9h0.8v0.8h-0.8zM471.5 388.3h0.8v0.8h-0.8zM473.5 404.0h0.8v0.8h-0.8z" fill="#000" fill-opacity="0.8"/>
<path d="M457.2 413.3h0.8v0.8h-0.8zM458.3 417.0h0.8v0.8h-0.8zM457.3 414.6h0.8v0.8h-0.8zM457.3 412.3h0.8v0.8h-0.8zM457.0 414.6h0.8v0.8h-0.8zM456.3 413.4h0.8v0.8h-0.8zM458.0 414.8h0.8v0.8h-0.8zM457.9 411.8h0.8v0.8h-0.8zM458.3 413.1h0.8v0.8h-0.8zM455.8 413.2h0.8v0.8h-0.8zM457.8 416.8h0.8v0.8h-0.8zM455.6 413.2h0.8v0.8h-0.8zM457.9 413.7h0.8v0.8h-0.8zM457.9 413.7h0.8v0.8h-0.8z" fill="#000" fill-opacity="0.9"/>
<path d="M461.7,408.1 C462.8,396.1 465.0,383.1 467.5,383.1 C470.0,383.1 472.3,396.1 473.40000000000003,408.1 Z" fill="#fff" stroke="#222" stroke-width="1.1"/>
<path d="M464.7,408.1 C465.1,400.1 466.3,394.1 467.7,394.1 C469.1,394.1 470.5,400.1 470.90000000000003,408.1 " fill="none" stroke="#888" stroke-width="0.6"/>
<path d="M465.7,408.1 C466.1,404.1 466.7,402.1 467.3,402.1 C467.90000000000003,402.1 468.5,404.1 469.1,408.1 " fill="none" stroke="#999" stroke-width="0.5"/>
<rect x="451.3" y="354.2" width="31.30000000000001" height="53.900000000000034" fill="none" stroke="#111" stroke-width="1"/>
<rect x="421.2" y="348.3" width="91.40000000000003" height="91.19999999999999" fill="none" stroke="#000" stroke-width="1.1"/>
<line x1="419.7" y1="359" x2="421.2" y2="359" stroke="#111" stroke-width="0.7" />
<line x1="420.0" y1="362" x2="421.2" y2="362" stroke="#111" stroke-width="0.7" />
<line x1="420.0" y1="364.5" x2="421.2" y2="364.5" stroke="#111" stroke-width="0.7" />
<line x1="420.0" y1="367" x2="421.2" y2="367" stroke="#111" stroke-width="0.7" />
<line x1="420.0" y1="370" x2="421.2" y2="370" stroke="#111" stroke-width="0.7" />
<line x1="418.2" y1="378.2" x2="421.2" y2="378.2" stroke="#111" stroke-width="0.7" />
<line x1="420.0" y1="385" x2="421.2" y2="385" stroke="#111" stroke-width="0.7" />
<line x1="420.0" y1="390" x2="421.2" y2="390" stroke="#111" stroke-width="0.7" />
<line x1="420.0" y1="395" x2="421.2" y2="395" stroke="#111" stroke-width="0.7" />
<line x1="418.2" y1="403.2" x2="421.2" y2="403.2" stroke="#111" stroke-width="0.7" />
<line x1="419.9" y1="415" x2="421.2" y2="415" stroke="#111" stroke-width="0.7" />
<line x1="418.2" y1="428" x2="421.2" y2="428" stroke="#111" stroke-width="0.7" />
<line x1="420.0" y1="433" x2="421.2" y2="433" stroke="#111" stroke-width="0.7" />
<line x1="420.0" y1="436" x2="421.2" y2="436" stroke="#111" stroke-width="0.7" />
<line x1="424.2" y1="439.5" x2="424.2" y2="442.1" stroke="#111" stroke-width="0.7" />
<line x1="429.47" y1="439.5" x2="429.47" y2="440.9" stroke="#111" stroke-width="0.7" />
<line x1="432.55" y1="439.5" x2="432.55" y2="440.9" stroke="#111" stroke-width="0.7" />
<line x1="434.74" y1="439.5" x2="434.74" y2="440.9" stroke="#111" stroke-width="0.7" />
<line x1="436.43" y1="439.5" x2="436.43" y2="440.9" stroke="#111" stroke-width="0.7" />
<line x1="437.82" y1="439.5" x2="437.82" y2="440.9" stroke="#111" stroke-width="0.7" />
<line x1="438.99" y1="439.5" x2="438.99" y2="440.9" stroke="#111" stroke-width="0.7" />
<line x1="440.0" y1="439.5" x2="440.0" y2="440.9" stroke="#111" stroke-width="0.7" />
<line x1="440.9" y1="439.5" x2="440.9" y2="440.9" stroke="#111" stroke-width="0.7" />
<line x1="441.7" y1="439.5" x2="441.7" y2="442.1" stroke="#111" stroke-width="0.7" />
<line x1="446.97" y1="439.5" x2="446.97" y2="440.9" stroke="#111" stroke-width="0.7" />
<line x1="450.05" y1="439.5" x2="450.05" y2="440.9" stroke="#111" stroke-width="0.7" />
<line x1="452.24" y1="439.5" x2="452.24" y2="440.9" stroke="#111" stroke-width="0.7" />
<line x1="453.93" y1="439.5" x2="453.93" y2="440.9" stroke="#111" stroke-width="0.7" />
<line x1="455.32" y1="439.5" x2="455.32" y2="440.9" stroke="#111" stroke-width="0.7" />
<line x1="456.49" y1="439.5" x2="456.49" y2="440.9" stroke="#111" stroke-width="0.7" />
<line x1="457.5" y1="439.5" x2="457.5" y2="440.9" stroke="#111" stroke-width="0.7" />
<line x1="458.4" y1="439.5" x2="458.4" y2="440.9" stroke="#111" stroke-width="0.7" />
<line x1="459.2" y1="439.5" x2="459.2" y2="442.1" stroke="#111" stroke-width="0.7" />
<line x1="464.47" y1="439.5" x2="464.47" y2="440.9" stroke="#111" stroke-width="0.7" />
<line x1="467.55" y1="439.5" x2="467.55" y2="440.9" stroke="#111" stroke-width="0.7" />
<line x1="469.74" y1="439.5" x2="469.74" y2="440.9" stroke="#111" stroke-width="0.7" />
<line x1="471.43" y1="439.5" x2="471.43" y2="440.9" stroke="#111" stroke-width="0.7" />
<line x1="472.82" y1="439.5" x2="472.82" y2="440.9" stroke="#111" stroke-width="0.7" />
<line x1="473.99" y1="439.5" x2="473.99" y2="440.9" stroke="#111" stroke-width="0.7" />
<line x1="475.0" y1="439.5" x2="475.0" y2="440.9" stroke="#111" stroke-width="0.7" />
<line x1="475.9" y1="439.5" x2="475.9" y2="440.9" stroke="#111" stroke-width="0.7" />
<line x1="476.7" y1="439.5" x2="476.7" y2="442.1" stroke="#111" stroke-width="0.7" />
<line x1="481.97" y1="439.5" x2="481.97" y2="440.9" stroke="#111" stroke-width="0.7" />
<line x1="485.05" y1="439.5" x2="485.05" y2="440.9" stroke="#111" stroke-width="0.7" />
<line x1="487.24" y1="439.5" x2="487.24" y2="440.9" stroke="#111" stroke-width="0.7" />
<line x1="488.93" y1="439.5" x2="488.93" y2="440.9" stroke="#111" stroke-width="0.7" />
<line x1="490.32" y1="439.5" x2="490.32" y2="440.9" stroke="#111" stroke-width="0.7" />
<line x1="491.49" y1="439.5" x2="491.49" y2="440.9" stroke="#111" stroke-width="0.7" />
<line x1="492.5" y1="439.5" x2="492.5" y2="440.9" stroke="#111" stroke-width="0.7" />
<line x1="493.4" y1="439.5" x2="493.4" y2="440.9" stroke="#111" stroke-width="0.7" />
<line x1="494.2" y1="439.5" x2="494.2" y2="442.1" stroke="#111" stroke-width="0.7" />
<line x1="499.47" y1="439.5" x2="499.47" y2="440.9" stroke="#111" stroke-width="0.7" />
<line x1="502.55" y1="439.5" x2="502.55" y2="440.9" stroke="#111" stroke-width="0.7" />
<line x1="504.74" y1="439.5" x2="504.74" y2="440.9" stroke="#111" stroke-width="0.7" />
<line x1="506.43" y1="439.5" x2="506.43" y2="440.9" stroke="#111" stroke-width="0.7" />
<line x1="507.82" y1="439.5" x2="507.82" y2="440.9" stroke="#111" stroke-width="0.7" />
<line x1="508.99" y1="439.5" x2="508.99" y2="440.9" stroke="#111" stroke-width="0.7" />
<line x1="510.0" y1="439.5" x2="510.0" y2="440.9" stroke="#111" stroke-width="0.7" />
<line x1="510.9" y1="439.5" x2="510.9" y2="440.9" stroke="#111" stroke-width="0.7" />
<text x="483.5" y="383.8" font-size="8.6" text-anchor="start" fill="#222" font-weight="normal" textLength="22.7" lengthAdjust="spacingAndGlyphs" >15.8%</text>
<text x="300.8" y="379.3" font-size="9.2" text-anchor="middle" fill="#222" font-weight="normal" textLength="20.4" lengthAdjust="spacingAndGlyphs" transform="rotate(-90 300.8 379.3)" >IFN-γ</text>
<line x1="298.1" y1="433.5" x2="298.1" y2="397" stroke="#111" stroke-width="1" />
<path d="M295.60,398.60 L298.10,393.30 L300.60,398.60" fill="#111" stroke="none" stroke-width="1" />
<line x1="330.2" y1="451.9" x2="465" y2="451.9" stroke="#111" stroke-width="1" />
<path d="M463.50,449.60 L469.20,451.90 L463.50,454.20" fill="#111" stroke="none" stroke-width="1" />
<text x="472.7" y="455.4" font-size="10.6" text-anchor="start" fill="#222" font-weight="normal" textLength="15.6" lengthAdjust="spacingAndGlyphs" >CD8</text>
<text x="46.2" y="496.2" font-size="10.5" text-anchor="start" fill="#222" font-weight="normal" textLength="21" lengthAdjust="spacingAndGlyphs" >CD4</text>
<text x="173.3" y="495.6" font-size="10.5" text-anchor="start" fill="#222" font-weight="normal" textLength="21" lengthAdjust="spacingAndGlyphs" >CD8</text>
<line x1="52.8" y1="502.6" x2="52.8" y2="591.2" stroke="#333" stroke-width="1.5" />
<line x1="52.05" y1="590.5" x2="154.8" y2="590.5" stroke="#333" stroke-width="1.5" />
<line x1="49.5" y1="505.1" x2="52.8" y2="505.1" stroke="#333" stroke-width="1" />
<text x="47.199999999999996" y="508.1" font-size="8.6" text-anchor="end" fill="#222" font-weight="normal" textLength="9.1" lengthAdjust="spacingAndGlyphs" >30</text>
<line x1="49.5" y1="533.7" x2="52.8" y2="533.7" stroke="#333" stroke-width="1" />
<text x="47.199999999999996" y="536.7" font-size="8.6" text-anchor="end" fill="#222" font-weight="normal" textLength="9.1" lengthAdjust="spacingAndGlyphs" >20</text>
<line x1="49.5" y1="561.9" x2="52.8" y2="561.9" stroke="#333" stroke-width="1" />
<text x="47.199999999999996" y="564.9" font-size="8.6" text-anchor="end" fill="#222" font-weight="normal" textLength="9.1" lengthAdjust="spacingAndGlyphs" >10</text>
<line x1="49.5" y1="590.5" x2="52.8" y2="590.5" stroke="#333" stroke-width="1" />
<text x="47.199999999999996" y="593.5" font-size="8.6" text-anchor="end" fill="#222" font-weight="normal" textLength="4.55" lengthAdjust="spacingAndGlyphs" >0</text>
<line x1="65.4" y1="590.5" x2="65.4" y2="593.8" stroke="#333" stroke-width="1" />
<text x="65.4" y="604.6" font-size="8.6" text-anchor="middle" fill="#222" font-weight="normal" textLength="4.6" lengthAdjust="spacingAndGlyphs" >0</text>
<line x1="91.2" y1="590.5" x2="91.2" y2="593.8" stroke="#333" stroke-width="1" />
<text x="91.2" y="604.6" font-size="8.6" text-anchor="middle" fill="#222" font-weight="normal" textLength="16.4" lengthAdjust="spacingAndGlyphs" >0.01</text>
<line x1="116.8" y1="590.5" x2="116.8" y2="593.8" stroke="#333" stroke-width="1" />
<text x="116.8" y="604.6" font-size="8.6" text-anchor="middle" fill="#222" font-weight="normal" textLength="11.9" lengthAdjust="spacingAndGlyphs" >0.1</text>
<line x1="142.4" y1="590.5" x2="142.4" y2="593.8" stroke="#333" stroke-width="1" />
<text x="142.4" y="604.6" font-size="8.6" text-anchor="middle" fill="#222" font-weight="normal" textLength="4.0" lengthAdjust="spacingAndGlyphs" >1</text>
<text x="103.60000000000001" y="619.7" font-size="10" text-anchor="middle" fill="#222" font-weight="normal" textLength="32.9" lengthAdjust="spacingAndGlyphs" >GSI (μM)</text>
<text x="29.8" y="545.6" font-size="9.4" text-anchor="middle" fill="#222" font-weight="normal" textLength="40.5" lengthAdjust="spacingAndGlyphs" transform="rotate(-90 29.8 545.6)" >IFN-γ+ (%)</text>
<polyline points="65.4,510.3 91.2,511.1 116.8,520 142.4,510" fill="none" stroke="#e8982e" stroke-width="0.9" stroke-dasharray="1,1.2"/>
<polyline points="65.4,567 91.2,548.2 116.8,542.5 142.4,552" fill="none" stroke="#5bb040" stroke-width="0.9" stroke-dasharray="1,1.2"/>
<polyline points="65.4,581.8 91.2,573.6 116.8,575.4 142.4,574.2" fill="none" stroke="#6b3590" stroke-width="0.9" stroke-dasharray="1,1.2"/>
<path d="M62.900000000000006,510.3 L65.4,507.8 L67.9,510.3 L65.4,512.8 Z" fill="#fff" stroke="#e8982e" stroke-width="0.9"/>
<path d="M88.7,511.1 L91.2,508.6 L93.7,511.1 L91.2,513.6 Z" fill="#fff" stroke="#e8982e" stroke-width="0.9"/>
<path d="M114.3,520 L116.8,517.5 L119.3,520 L116.8,522.5 Z" fill="#fff" stroke="#e8982e" stroke-width="0.9"/>
<path d="M139.9,510 L142.4,507.5 L144.9,510 L142.4,512.5 Z" fill="#fff" stroke="#e8982e" stroke-width="0.9"/>
<path d="M62.900000000000006,569 L67.9,569 L65.4,564.6 Z" fill="#fff" stroke="#5bb040" stroke-width="0.9"/>
<path d="M88.7,550.2 L93.7,550.2 L91.2,545.8000000000001 Z" fill="#fff" stroke="#5bb040" stroke-width="0.9"/>
<path d="M114.3,544.5 L119.3,544.5 L116.8,540.1 Z" fill="#fff" stroke="#5bb040" stroke-width="0.9"/>
<path d="M139.9,554 L144.9,554 L142.4,549.6 Z" fill="#fff" stroke="#5bb040" stroke-width="0.9"/>
<path d="M62.900000000000006,579.8 L67.9,579.8 L65.4,584.1999999999999 Z" fill="#fff" stroke="#6b3590" stroke-width="0.9"/>
<path d="M88.7,571.6 L93.7,571.6 L91.2,576.0 Z" fill="#fff" stroke="#6b3590" stroke-width="0.9"/>
<path d="M114.3,573.4 L119.3,573.4 L116.8,577.8 Z" fill="#fff" stroke="#6b3590" stroke-width="0.9"/>
<path d="M139.9,572.2 L144.9,572.2 L142.4,576.6 Z" fill="#fff" stroke="#6b3590" stroke-width="0.9"/>
<line x1="179.1" y1="502.6" x2="179.1" y2="591.2" stroke="#333" stroke-width="1.5" />
<line x1="178.35" y1="590.5" x2="280.6" y2="590.5" stroke="#333" stroke-width="1.5" />
<line x1="175.79999999999998" y1="505.1" x2="179.1" y2="505.1" stroke="#333" stroke-width="1" />
<text x="173.5" y="508.1" font-size="8.6" text-anchor="end" fill="#222" font-weight="normal" textLength="9.1" lengthAdjust="spacingAndGlyphs" >25</text>
<line x1="175.79999999999998" y1="522.3" x2="179.1" y2="522.3" stroke="#333" stroke-width="1" />
<text x="173.5" y="525.3" font-size="8.6" text-anchor="end" fill="#222" font-weight="normal" textLength="9.1" lengthAdjust="spacingAndGlyphs" >20</text>
<line x1="175.79999999999998" y1="539.4" x2="179.1" y2="539.4" stroke="#333" stroke-width="1" />
<text x="173.5" y="542.4" font-size="8.6" text-anchor="end" fill="#222" font-weight="normal" textLength="9.1" lengthAdjust="spacingAndGlyphs" >15</text>
<line x1="175.79999999999998" y1="556.2" x2="179.1" y2="556.2" stroke="#333" stroke-width="1" />
<text x="173.5" y="559.2" font-size="8.6" text-anchor="end" fill="#222" font-weight="normal" textLength="9.1" lengthAdjust="spacingAndGlyphs" >10</text>
<line x1="175.79999999999998" y1="573.3" x2="179.1" y2="573.3" stroke="#333" stroke-width="1" />
<text x="173.5" y="576.3" font-size="8.6" text-anchor="end" fill="#222" font-weight="normal" textLength="4.55" lengthAdjust="spacingAndGlyphs" >5</text>
<line x1="175.79999999999998" y1="590.3" x2="179.1" y2="590.3" stroke="#333" stroke-width="1" />
<text x="173.5" y="593.3" font-size="8.6" text-anchor="end" fill="#222" font-weight="normal" textLength="4.55" lengthAdjust="spacingAndGlyphs" >0</text>
<line x1="191.6" y1="590.5" x2="191.6" y2="593.8" stroke="#333" stroke-width="1" />
<text x="191.6" y="604.6" font-size="8.6" text-anchor="middle" fill="#222" font-weight="normal" textLength="4.6" lengthAdjust="spacingAndGlyphs" >0</text>
<line x1="217.2" y1="590.5" x2="217.2" y2="593.8" stroke="#333" stroke-width="1" />
<text x="217.2" y="604.6" font-size="8.6" text-anchor="middle" fill="#222" font-weight="normal" textLength="16.4" lengthAdjust="spacingAndGlyphs" >0.01</text>
<line x1="242.6" y1="590.5" x2="242.6" y2="593.8" stroke="#333" stroke-width="1" />
<text x="242.6" y="604.6" font-size="8.6" text-anchor="middle" fill="#222" font-weight="normal" textLength="11.9" lengthAdjust="spacingAndGlyphs" >0.1</text>
<line x1="268.1" y1="590.5" x2="268.1" y2="593.8" stroke="#333" stroke-width="1" />
<text x="268.1" y="604.6" font-size="8.6" text-anchor="middle" fill="#222" font-weight="normal" textLength="4.0" lengthAdjust="spacingAndGlyphs" >1</text>
<text x="229.55" y="619.7" font-size="10" text-anchor="middle" fill="#222" font-weight="normal" textLength="32.9" lengthAdjust="spacingAndGlyphs" >GSI (μM)</text>
<polyline points="191.6,518.1 217.2,523.5 242.6,532.3 268.1,519.4" fill="none" stroke="#e8982e" stroke-width="0.9" stroke-dasharray="1,1.2"/>
<polyline points="191.6,568.5 217.2,541.2 242.6,535.8 268.1,532.3" fill="none" stroke="#6b3590" stroke-width="0.9" stroke-dasharray="1,1.2"/>
<polyline points="191.6,559.2 217.2,548.3 242.6,548.3 268.1,553.1" fill="none" stroke="#5bb040" stroke-width="0.9" stroke-dasharray="1,1.2"/>
<polyline points="191.6,580 217.2,561.3 242.6,560.4 268.1,537.3" fill="none" stroke="#2a4b90" stroke-width="1.15" />
<polyline points="191.6,559.2 217.2,552.5 242.6,539 268.1,550.8" fill="none" stroke="#b5112e" stroke-width="1.15" />
<path d="M189.1,518.1 L191.6,515.6 L194.1,518.1 L191.6,520.6 Z" fill="#fff" stroke="#e8982e" stroke-width="0.9"/>
<path d="M214.7,523.5 L217.2,521.0 L219.7,523.5 L217.2,526.0 Z" fill="#fff" stroke="#e8982e" stroke-width="0.9"/>
<path d="M240.1,532.3 L242.6,529.8 L245.1,532.3 L242.6,534.8 Z" fill="#fff" stroke="#e8982e" stroke-width="0.9"/>
<path d="M265.6,519.4 L268.1,516.9 L270.6,519.4 L268.1,521.9 Z" fill="#fff" stroke="#e8982e" stroke-width="0.9"/>
<path d="M189.1,561.2 L194.1,561.2 L191.6,556.8000000000001 Z" fill="#fff" stroke="#5bb040" stroke-width="0.9"/>
<path d="M214.7,550.3 L219.7,550.3 L217.2,545.9 Z" fill="#fff" stroke="#5bb040" stroke-width="0.9"/>
<path d="M240.1,550.3 L245.1,550.3 L242.6,545.9 Z" fill="#fff" stroke="#5bb040" stroke-width="0.9"/>
<path d="M265.6,555.1 L270.6,555.1 L268.1,550.7 Z" fill="#fff" stroke="#5bb040" stroke-width="0.9"/>
<path d="M189.1,566.5 L194.1,566.5 L191.6,570.9 Z" fill="#fff" stroke="#6b3590" stroke-width="0.9"/>
<path d="M214.7,539.2 L219.7,539.2 L217.2,543.6 Z" fill="#fff" stroke="#6b3590" stroke-width="0.9"/>
<path d="M240.1,533.8 L245.1,533.8 L242.6,538.1999999999999 Z" fill="#fff" stroke="#6b3590" stroke-width="0.9"/>
<path d="M265.6,530.3 L270.6,530.3 L268.1,534.6999999999999 Z" fill="#fff" stroke="#6b3590" stroke-width="0.9"/>
<rect x="189.5" y="577.9" width="4.2" height="4.2" fill="#2a4b90"/>
<rect x="215.1" y="559.1999999999999" width="4.2" height="4.2" fill="#2a4b90"/>
<rect x="240.5" y="558.3" width="4.2" height="4.2" fill="#2a4b90"/>
<rect x="266.0" y="535.1999999999999" width="4.2" height="4.2" fill="#2a4b90"/>
<circle cx="191.6" cy="559.2" r="2.1" fill="#b5112e"/>
<circle cx="217.2" cy="552.5" r="2.1" fill="#b5112e"/>
<circle cx="242.6" cy="539" r="2.1" fill="#b5112e"/>
<circle cx="268.1" cy="550.8" r="2.1" fill="#b5112e"/>
<line x1="282.9" y1="511.1" x2="293.4" y2="511.1" stroke="#b5112e" stroke-width="1.3" />
<circle cx="287.8" cy="511.1" r="2.1" fill="#b5112e"/>
<text x="297.1" y="513.9" font-size="8.1" text-anchor="start" fill="#222" font-weight="normal" textLength="37.1" lengthAdjust="spacingAndGlyphs" >Pt.1 RO49</text>
<line x1="282.9" y1="523.15" x2="293.4" y2="523.15" stroke="#2a4b90" stroke-width="1.3" />
<rect x="285.7" y="521.05" width="4.2" height="4.2" fill="#2a4b90"/>
<text x="297.1" y="525.9499999999999" font-size="8.1" text-anchor="start" fill="#222" font-weight="normal" textLength="37.1" lengthAdjust="spacingAndGlyphs" >Pt.2 RO49</text>
<line x1="282.9" y1="535.2" x2="293.4" y2="535.2" stroke="#5bb040" stroke-width="0.9" stroke-dasharray="1,1.2"/>
<path d="M285.3,537.2 L290.3,537.2 L287.8,532.8000000000001 Z" fill="#fff" stroke="#5bb040" stroke-width="0.9"/>
<text x="297.1" y="538.0" font-size="8.1" text-anchor="start" fill="#222" font-weight="normal" textLength="35.0" lengthAdjust="spacingAndGlyphs" >Pt.3 LY30</text>
<line x1="282.9" y1="547.25" x2="293.4" y2="547.25" stroke="#6b3590" stroke-width="0.9" stroke-dasharray="1,1.2"/>
<path d="M285.3,545.25 L290.3,545.25 L287.8,549.65 Z" fill="#fff" stroke="#6b3590" stroke-width="0.9"/>
<text x="297.1" y="550.05" font-size="8.1" text-anchor="start" fill="#222" font-weight="normal" textLength="35.0" lengthAdjust="spacingAndGlyphs" >Pt.4 LY30</text>
<line x1="282.9" y1="559.3000000000001" x2="293.4" y2="559.3000000000001" stroke="#e8982e" stroke-width="0.9" stroke-dasharray="1,1.2"/>
<path d="M285.3,559.3000000000001 L287.8,556.8000000000001 L290.3,559.3000000000001 L287.8,561.8000000000001 Z" fill="#fff" stroke="#e8982e" stroke-width="0.9"/>
<text x="297.1" y="562.1" font-size="8.1" text-anchor="start" fill="#222" font-weight="normal" textLength="35.0" lengthAdjust="spacingAndGlyphs" >Pt.5 LY30</text>
<rect x="2.5" y="2.5" width="515" height="625" fill="none" stroke="#ececec" stroke-width="1"/>
<rect x="1.5" y="1.5" width="517" height="627" fill="none" stroke="#858585" stroke-width="1"/>
<rect x="0.5" y="0.5" width="519" height="629" fill="none" stroke="#000" stroke-width="1"/>
</svg>
</body></html>
